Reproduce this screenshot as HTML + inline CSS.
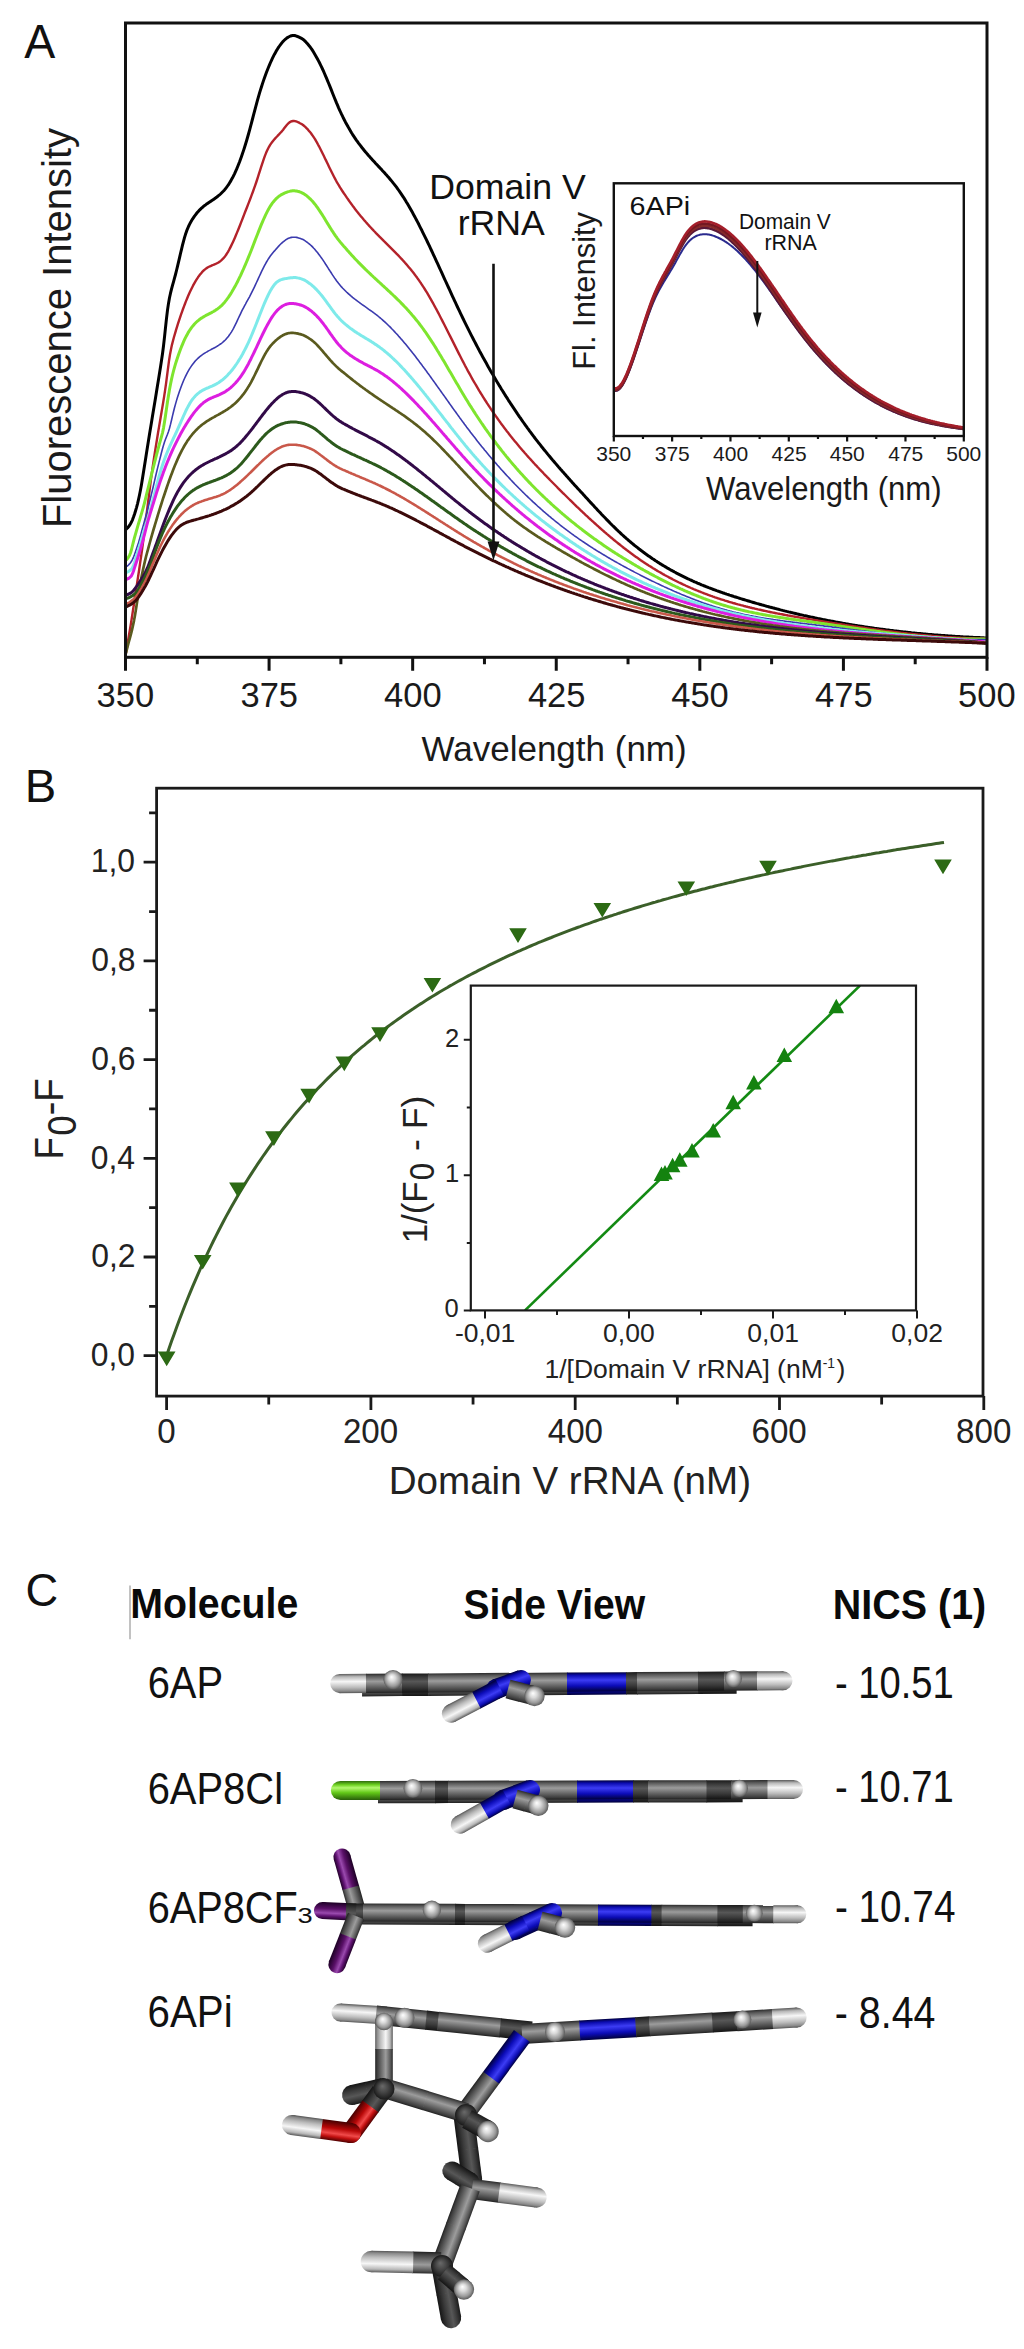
<!DOCTYPE html>
<html><head><meta charset="utf-8"><title>Figure</title>
<style>
html,body{margin:0;padding:0;background:#fff;}
body{width:1024px;height:2349px;overflow:hidden;}
svg{display:block;font-family:"Liberation Sans", Arial, Helvetica, sans-serif;}
</style></head><body>
<svg width="1024" height="2349" viewBox="0 0 1024 2349">
<rect x="0" y="0" width="1024" height="2349" fill="#fff"/>
<text x="24.30" y="58.10" font-size="48.50" fill="#111" textLength="31.07" lengthAdjust="spacingAndGlyphs">A</text>
<clipPath id="clipA"><rect x="125.5" y="23.0" width="861.5" height="634.3"/></clipPath>
<g clip-path="url(#clipA)" fill="none" stroke-linejoin="round" stroke-linecap="round">
<path d="M125.5,529.5 L126.5,528.9 L127.5,528.0 L128.5,526.8 L129.5,525.3 L130.5,523.8 L131.5,522.0 L132.5,519.8 L133.5,517.1 L134.5,514.2 L135.5,511.0 L136.5,507.6 L137.5,503.8 L138.5,499.6 L139.5,495.0 L140.5,490.0 L141.5,484.4 L142.5,478.2 L143.5,471.9 L144.5,465.7 L145.5,459.4 L146.5,453.1 L147.5,446.7 L148.5,440.5 L149.5,434.3 L150.5,428.2 L151.5,422.2 L152.5,416.1 L153.5,410.0 L154.5,404.0 L155.5,397.9 L156.5,391.7 L157.5,385.6 L158.5,379.5 L159.5,373.3 L160.5,367.0 L161.5,360.6 L162.5,353.7 L163.5,346.0 L164.5,337.2 L165.5,327.6 L166.5,318.3 L167.5,310.1 L168.5,303.4 L169.5,297.8 L170.5,293.2 L171.5,289.1 L172.5,285.3 L173.5,281.8 L174.5,278.2 L175.5,274.5 L176.5,270.5 L177.5,266.4 L178.5,262.1 L179.5,257.8 L180.5,253.5 L181.5,249.3 L182.5,245.2 L183.5,241.3 L184.5,237.7 L185.5,234.3 L186.5,231.4 L187.5,228.8 L188.5,226.5 L189.5,224.4 L190.5,222.5 L191.5,220.8 L192.5,219.1 L193.5,217.6 L194.5,216.1 L195.5,214.8 L196.5,213.5 L197.5,212.3 L198.5,211.2 L199.5,210.1 L200.5,209.1 L201.5,208.2 L202.5,207.3 L203.5,206.4 L204.5,205.6 L205.5,204.9 L206.5,204.1 L207.5,203.4 L208.5,202.7 L209.5,202.1 L210.5,201.4 L211.5,200.7 L212.5,200.1 L213.5,199.4 L214.5,198.7 L215.5,198.0 L216.5,197.3 L217.5,196.5 L218.5,195.7 L219.5,194.9 L220.5,194.0 L221.5,193.0 L222.5,192.0 L223.5,191.0 L224.5,189.9 L225.5,188.7 L226.5,187.4 L227.5,186.0 L228.5,184.6 L229.5,183.0 L230.5,181.4 L231.5,179.6 L232.5,177.8 L233.5,175.8 L234.5,173.8 L235.5,171.6 L236.5,169.4 L237.5,167.0 L238.5,164.5 L239.5,162.0 L240.5,159.3 L241.5,156.5 L242.5,153.6 L243.5,150.6 L244.5,147.5 L245.5,144.3 L246.5,141.0 L247.5,137.5 L248.5,134.0 L249.5,130.3 L250.5,126.6 L251.5,122.8 L252.5,119.0 L253.5,115.2 L254.5,111.3 L255.5,107.6 L256.5,103.8 L257.5,100.2 L258.5,96.7 L259.5,93.2 L260.5,89.9 L261.5,86.7 L262.5,83.6 L263.5,80.6 L264.5,77.8 L265.5,75.0 L266.5,72.3 L267.5,69.7 L268.5,67.2 L269.5,64.8 L270.5,62.5 L271.5,60.3 L272.5,58.2 L273.5,56.2 L274.5,54.2 L275.5,52.4 L276.5,50.6 L277.5,49.0 L278.5,47.4 L279.5,46.0 L280.5,44.6 L281.5,43.3 L282.5,42.1 L283.5,41.0 L284.5,40.0 L285.5,39.1 L286.5,38.3 L287.5,37.6 L288.5,37.0 L289.5,36.5 L290.5,36.0 L291.5,35.7 L292.5,35.5 L293.5,35.4 L294.5,35.5 L295.5,35.8 L296.5,36.1 L297.5,36.5 L298.5,36.9 L299.5,37.4 L300.5,37.9 L301.5,38.4 L302.5,39.0 L303.5,39.7 L304.5,40.6 L305.5,41.6 L306.5,42.7 L307.5,43.8 L308.5,45.0 L309.5,46.2 L310.5,47.5 L311.5,48.9 L312.5,50.4 L313.5,52.0 L314.5,53.7 L315.5,55.4 L316.5,57.2 L317.5,59.0 L318.5,60.9 L319.5,62.8 L320.5,64.8 L321.5,66.9 L322.5,69.0 L323.5,71.2 L324.5,73.5 L325.5,75.8 L326.5,78.2 L327.5,80.6 L328.5,83.0 L329.5,85.4 L330.5,87.9 L331.5,90.4 L332.5,93.0 L333.5,95.5 L334.5,98.0 L335.5,100.4 L336.5,102.9 L337.5,105.2 L338.5,107.6 L339.5,109.8 L340.5,112.0 L341.5,114.2 L342.5,116.2 L343.5,118.3 L344.5,120.2 L345.5,122.2 L346.5,124.0 L347.5,125.8 L348.5,127.6 L349.5,129.3 L350.5,131.0 L351.5,132.7 L352.5,134.3 L353.5,135.8 L354.5,137.3 L355.5,138.8 L356.5,140.3 L357.5,141.7 L358.5,143.1 L359.5,144.4 L360.5,145.7 L361.5,147.0 L362.5,148.3 L363.5,149.5 L364.5,150.8 L365.5,152.0 L366.5,153.1 L367.5,154.3 L368.5,155.5 L369.5,156.6 L370.5,157.7 L371.5,158.8 L372.5,159.9 L373.5,161.0 L374.5,162.1 L375.5,163.2 L376.5,164.2 L377.5,165.3 L378.5,166.4 L379.5,167.4 L380.5,168.5 L381.5,169.6 L382.5,170.7 L383.5,171.7 L384.5,172.8 L385.5,174.0 L386.5,175.1 L387.5,176.2 L388.5,177.3 L389.5,178.5 L390.5,179.7 L391.5,180.9 L392.5,182.1 L393.5,183.4 L394.5,184.6 L395.5,185.9 L396.5,187.2 L397.5,188.6 L398.5,190.0 L399.5,191.4 L400.5,192.8 L401.5,194.3 L402.5,195.8 L403.5,197.3 L404.5,198.9 L405.5,200.5 L406.5,202.2 L407.5,203.8 L408.5,205.5 L409.5,207.2 L410.5,209.0 L411.5,210.8 L412.5,212.6 L413.5,214.4 L414.5,216.2 L415.5,218.1 L416.5,220.0 L417.5,221.9 L418.5,223.8 L419.5,225.8 L420.5,227.8 L421.5,229.7 L422.5,231.8 L423.5,233.8 L424.5,235.8 L425.5,237.9 L426.5,239.9 L427.5,242.0 L428.5,244.1 L429.5,246.2 L430.5,248.4 L431.5,250.5 L432.5,252.6 L433.5,254.8 L434.5,256.9 L435.5,259.1 L436.5,261.3 L437.5,263.4 L438.5,265.6 L439.5,267.8 L440.5,270.0 L441.5,272.2 L442.5,274.4 L443.5,276.6 L444.5,278.8 L445.5,281.0 L446.5,283.2 L447.5,285.4 L448.5,287.5 L449.5,289.7 L450.5,291.9 L451.5,294.1 L452.5,296.3 L453.5,298.4 L454.5,300.6 L455.5,302.7 L456.5,304.9 L457.5,307.0 L458.5,309.1 L459.5,311.2 L460.5,313.3 L461.5,315.4 L462.5,317.5 L463.5,319.5 L464.5,321.6 L465.5,323.6 L466.5,325.6 L467.5,327.7 L468.5,329.7 L469.5,331.6 L470.5,333.6 L471.5,335.6 L472.5,337.5 L473.5,339.5 L474.5,341.4 L475.5,343.3 L476.5,345.2 L477.5,347.1 L478.5,349.0 L479.5,350.9 L480.5,352.7 L481.5,354.6 L482.5,356.4 L483.5,358.2 L484.5,360.0 L485.5,361.8 L486.5,363.6 L487.5,365.4 L488.5,367.2 L489.5,368.9 L490.5,370.7 L491.5,372.4 L492.5,374.1 L493.5,375.8 L494.5,377.5 L495.5,379.2 L496.5,380.9 L497.5,382.6 L498.5,384.2 L499.5,385.9 L500.5,387.5 L501.5,389.2 L502.5,390.8 L503.5,392.4 L504.5,394.0 L505.5,395.6 L506.5,397.2 L507.5,398.7 L508.5,400.3 L509.5,401.8 L510.5,403.4 L511.5,404.9 L512.5,406.4 L513.5,407.9 L514.5,409.4 L515.5,410.9 L516.5,412.4 L517.5,413.9 L518.5,415.3 L519.5,416.8 L520.5,418.2 L521.5,419.7 L522.5,421.1 L523.5,422.5 L524.5,423.9 L525.5,425.3 L526.5,426.7 L527.5,428.1 L528.5,429.4 L529.5,430.8 L530.5,432.1 L531.5,433.5 L532.5,434.8 L533.5,436.2 L534.5,437.5 L535.5,438.8 L536.5,440.1 L537.5,441.4 L538.5,442.7 L539.5,443.9 L540.5,445.2 L541.5,446.5 L542.5,447.7 L543.5,449.0 L544.5,450.2 L545.5,451.4 L546.5,452.6 L547.5,453.9 L548.5,455.1 L549.5,456.3 L550.5,457.5 L551.5,458.7 L552.5,459.9 L553.5,461.0 L554.5,462.2 L555.5,463.4 L556.5,464.6 L557.5,465.7 L558.5,466.9 L559.5,468.0 L560.5,469.2 L561.5,470.3 L562.5,471.5 L563.5,472.6 L564.5,473.7 L565.5,474.8 L566.5,476.0 L567.5,477.1 L568.5,478.2 L569.5,479.3 L570.5,480.4 L571.5,481.5 L572.5,482.7 L573.5,483.8 L574.5,484.9 L575.5,486.0 L576.5,487.1 L577.5,488.2 L578.5,489.3 L579.5,490.3 L580.5,491.4 L581.5,492.5 L582.5,493.6 L583.5,494.7 L584.5,495.8 L585.5,496.9 L586.5,498.0 L587.5,499.1 L588.5,500.2 L589.5,501.3 L590.5,502.4 L591.5,503.4 L592.5,504.5 L593.5,505.6 L594.5,506.7 L595.5,507.8 L596.5,508.8 L597.5,509.9 L598.5,511.0 L599.5,512.0 L600.5,513.1 L601.5,514.2 L602.5,515.2 L603.5,516.3 L604.5,517.3 L605.5,518.3 L606.5,519.4 L607.5,520.4 L608.5,521.4 L609.5,522.4 L610.5,523.5 L611.5,524.5 L612.5,525.5 L613.5,526.4 L614.5,527.4 L615.5,528.4 L616.5,529.4 L617.5,530.3 L618.5,531.3 L619.5,532.2 L620.5,533.1 L621.5,534.1 L622.5,535.0 L623.5,535.9 L624.5,536.8 L625.5,537.7 L626.5,538.6 L627.5,539.4 L628.5,540.3 L629.5,541.2 L630.5,542.0 L631.5,542.8 L632.5,543.7 L633.5,544.5 L634.5,545.3 L635.5,546.1 L636.5,546.9 L637.5,547.7 L638.5,548.5 L639.5,549.3 L640.5,550.0 L641.5,550.8 L642.5,551.5 L643.5,552.3 L644.5,553.0 L645.5,553.8 L646.5,554.5 L647.5,555.2 L648.5,555.9 L649.5,556.6 L650.5,557.3 L651.5,558.0 L652.5,558.7 L653.5,559.3 L654.5,560.0 L655.5,560.7 L656.5,561.3 L657.5,562.0 L658.5,562.6 L659.5,563.2 L660.5,563.9 L661.5,564.5 L662.5,565.1 L663.5,565.7 L664.5,566.3 L665.5,566.9 L666.5,567.5 L667.5,568.1 L668.5,568.6 L669.5,569.2 L670.5,569.8 L671.5,570.3 L672.5,570.9 L673.5,571.4 L674.5,572.0 L675.5,572.5 L676.5,573.1 L677.5,573.6 L678.5,574.1 L679.5,574.6 L680.5,575.1 L681.5,575.6 L682.5,576.1 L683.5,576.6 L684.5,577.1 L685.5,577.6 L686.5,578.1 L687.5,578.6 L688.5,579.0 L689.5,579.5 L690.5,580.0 L691.5,580.4 L692.5,580.9 L693.5,581.3 L694.5,581.8 L695.5,582.2 L696.5,582.6 L697.5,583.1 L698.5,583.5 L699.5,583.9 L700.5,584.3 L701.5,584.8 L702.5,585.2 L703.5,585.6 L704.5,586.0 L705.5,586.4 L706.5,586.8 L707.5,587.2 L708.5,587.6 L709.5,587.9 L710.5,588.3 L711.5,588.7 L712.5,589.1 L713.5,589.5 L714.5,589.8 L715.5,590.2 L716.5,590.6 L717.5,590.9 L718.5,591.3 L719.5,591.6 L720.5,592.0 L721.5,592.3 L722.5,592.7 L723.5,593.0 L724.5,593.4 L725.5,593.7 L726.5,594.1 L727.5,594.4 L728.5,594.7 L729.5,595.1 L730.5,595.4 L731.5,595.7 L732.5,596.0 L733.5,596.4 L734.5,596.7 L735.5,597.0 L736.5,597.3 L737.5,597.6 L738.5,597.9 L739.5,598.3 L740.5,598.6 L741.5,598.9 L742.5,599.2 L743.5,599.5 L744.5,599.8 L745.5,600.1 L746.5,600.4 L747.5,600.7 L748.5,601.0 L749.5,601.3 L750.5,601.6 L751.5,601.9 L752.5,602.2 L753.5,602.5 L754.5,602.8 L755.5,603.1 L756.5,603.4 L757.5,603.6 L758.5,603.9 L759.5,604.2 L760.5,604.5 L761.5,604.8 L762.5,605.1 L763.5,605.3 L764.5,605.6 L765.5,605.9 L766.5,606.2 L767.5,606.4 L768.5,606.7 L769.5,607.0 L770.5,607.2 L771.5,607.5 L772.5,607.8 L773.5,608.0 L774.5,608.3 L775.5,608.6 L776.5,608.8 L777.5,609.1 L778.5,609.3 L779.5,609.6 L780.5,609.9 L781.5,610.1 L782.5,610.4 L783.5,610.6 L784.5,610.9 L785.5,611.1 L786.5,611.4 L787.5,611.6 L788.5,611.9 L789.5,612.1 L790.5,612.3 L791.5,612.6 L792.5,612.8 L793.5,613.1 L794.5,613.3 L795.5,613.5 L796.5,613.8 L797.5,614.0 L798.5,614.2 L799.5,614.5 L800.5,614.7 L801.5,614.9 L802.5,615.1 L803.5,615.4 L804.5,615.6 L805.5,615.8 L806.5,616.0 L807.5,616.3 L808.5,616.5 L809.5,616.7 L810.5,616.9 L811.5,617.1 L812.5,617.3 L813.5,617.5 L814.5,617.8 L815.5,618.0 L816.5,618.2 L817.5,618.4 L818.5,618.6 L819.5,618.8 L820.5,619.0 L821.5,619.2 L822.5,619.4 L823.5,619.6 L824.5,619.8 L825.5,620.0 L826.5,620.2 L827.5,620.4 L828.5,620.6 L829.5,620.8 L830.5,621.0 L831.5,621.2 L832.5,621.3 L833.5,621.5 L834.5,621.7 L835.5,621.9 L836.5,622.1 L837.5,622.3 L838.5,622.5 L839.5,622.6 L840.5,622.8 L841.5,623.0 L842.5,623.2 L843.5,623.4 L844.5,623.5 L845.5,623.7 L846.5,623.9 L847.5,624.0 L848.5,624.2 L849.5,624.4 L850.5,624.6 L851.5,624.7 L852.5,624.9 L853.5,625.1 L854.5,625.2 L855.5,625.4 L856.5,625.5 L857.5,625.7 L858.5,625.9 L859.5,626.0 L860.5,626.2 L861.5,626.3 L862.5,626.5 L863.5,626.6 L864.5,626.8 L865.5,626.9 L866.5,627.1 L867.5,627.2 L868.5,627.4 L869.5,627.5 L870.5,627.7 L871.5,627.8 L872.5,628.0 L873.5,628.1 L874.5,628.3 L875.5,628.4 L876.5,628.5 L877.5,628.7 L878.5,628.8 L879.5,628.9 L880.5,629.1 L881.5,629.2 L882.5,629.3 L883.5,629.5 L884.5,629.6 L885.5,629.7 L886.5,629.9 L887.5,630.0 L888.5,630.1 L889.5,630.2 L890.5,630.4 L891.5,630.5 L892.5,630.6 L893.5,630.7 L894.5,630.9 L895.5,631.0 L896.5,631.1 L897.5,631.2 L898.5,631.3 L899.5,631.4 L900.5,631.6 L901.5,631.7 L902.5,631.8 L903.5,631.9 L904.5,632.0 L905.5,632.1 L906.5,632.2 L907.5,632.3 L908.5,632.4 L909.5,632.5 L910.5,632.6 L911.5,632.8 L912.5,632.9 L913.5,633.0 L914.5,633.1 L915.5,633.2 L916.5,633.3 L917.5,633.4 L918.5,633.4 L919.5,633.5 L920.5,633.6 L921.5,633.7 L922.5,633.8 L923.5,633.9 L924.5,634.0 L925.5,634.1 L926.5,634.2 L927.5,634.3 L928.5,634.4 L929.5,634.4 L930.5,634.5 L931.5,634.6 L932.5,634.7 L933.5,634.8 L934.5,634.9 L935.5,634.9 L936.5,635.0 L937.5,635.1 L938.5,635.2 L939.5,635.3 L940.5,635.3 L941.5,635.4 L942.5,635.5 L943.5,635.6 L944.5,635.6 L945.5,635.7 L946.5,635.8 L947.5,635.8 L948.5,635.9 L949.5,636.0 L950.5,636.1 L951.5,636.1 L952.5,636.2 L953.5,636.3 L954.5,636.3 L955.5,636.4 L956.5,636.4 L957.5,636.5 L958.5,636.6 L959.5,636.6 L960.5,636.7 L961.5,636.7 L962.5,636.8 L963.5,636.9 L964.5,636.9 L965.5,637.0 L966.5,637.0 L967.5,637.1 L968.5,637.1 L969.5,637.2 L970.5,637.2 L971.5,637.3 L972.5,637.3 L973.5,637.4 L974.5,637.4 L975.5,637.5 L976.5,637.5 L977.5,637.6 L978.5,637.6 L979.5,637.6 L980.5,637.7 L981.5,637.7 L982.5,637.8 L983.5,637.8 L984.5,637.9 L985.5,637.9 L986.5,637.9 L987.0,638.0" stroke="#000000" stroke-width="3.0"/>
<path d="M126.0,653.0 L127.0,647.0 L128.0,641.0 L129.0,635.0 L130.0,629.1 L131.0,623.1 L132.0,616.8 L133.0,610.3 L134.0,603.7 L135.0,597.0 L136.0,590.4 L137.0,583.9 L138.0,577.3 L139.0,570.7 L140.0,563.9 L141.0,557.0 L142.0,550.0 L143.0,542.7 L144.0,535.2 L145.0,527.3 L146.0,519.1 L147.0,511.0 L148.0,503.0 L149.0,494.9 L150.0,486.9 L151.0,479.2 L152.0,471.9 L153.0,465.0 L154.0,458.3 L155.0,451.8 L156.0,445.4 L157.0,439.2 L158.0,433.0 L159.0,427.1 L160.0,421.2 L161.0,415.3 L162.0,409.4 L163.0,403.5 L164.0,397.4 L165.0,390.9 L166.0,383.8 L167.0,376.1 L168.0,368.3 L169.0,360.9 L170.0,354.5 L171.0,349.2 L172.0,344.6 L173.0,340.7 L174.0,337.0 L175.0,333.6 L176.0,330.2 L177.0,326.9 L178.0,323.7 L179.0,320.6 L180.0,317.6 L181.0,314.6 L182.0,311.8 L183.0,309.0 L184.0,306.3 L185.0,303.7 L186.0,301.1 L187.0,298.7 L188.0,296.3 L189.0,294.0 L190.0,291.8 L191.0,289.7 L192.0,287.7 L193.0,285.7 L194.0,283.9 L195.0,282.1 L196.0,280.4 L197.0,278.8 L198.0,277.3 L199.0,275.9 L200.0,274.6 L201.0,273.4 L202.0,272.2 L203.0,271.2 L204.0,270.2 L205.0,269.4 L206.0,268.6 L207.0,267.9 L208.0,267.3 L209.0,266.8 L210.0,266.3 L211.0,265.9 L212.0,265.4 L213.0,265.0 L214.0,264.6 L215.0,264.2 L216.0,263.7 L217.0,263.2 L218.0,262.7 L219.0,262.1 L220.0,261.4 L221.0,260.6 L222.0,259.7 L223.0,258.7 L224.0,257.6 L225.0,256.4 L226.0,255.0 L227.0,253.4 L228.0,251.8 L229.0,250.0 L230.0,248.1 L231.0,246.1 L232.0,244.0 L233.0,241.9 L234.0,239.7 L235.0,237.4 L236.0,235.0 L237.0,232.6 L238.0,230.2 L239.0,227.7 L240.0,225.2 L241.0,222.6 L242.0,220.1 L243.0,217.5 L244.0,214.9 L245.0,212.3 L246.0,209.8 L247.0,207.2 L248.0,204.6 L249.0,202.1 L250.0,199.5 L251.0,196.9 L252.0,194.2 L253.0,191.5 L254.0,188.7 L255.0,185.9 L256.0,183.0 L257.0,180.0 L258.0,176.9 L259.0,173.7 L260.0,170.6 L261.0,167.4 L262.0,164.3 L263.0,161.3 L264.0,158.4 L265.0,155.6 L266.0,153.1 L267.0,150.8 L268.0,148.7 L269.0,146.8 L270.0,145.1 L271.0,143.6 L272.0,142.2 L273.0,140.9 L274.0,139.7 L275.0,138.6 L276.0,137.5 L277.0,136.5 L278.0,135.4 L279.0,134.4 L280.0,133.3 L281.0,132.2 L282.0,131.1 L283.0,129.9 L284.0,128.6 L285.0,127.3 L286.0,126.0 L287.0,124.8 L288.0,123.7 L289.0,122.8 L290.0,122.1 L291.0,121.5 L292.0,121.2 L293.0,121.0 L294.0,121.0 L295.0,121.1 L296.0,121.4 L297.0,121.7 L298.0,122.2 L299.0,122.6 L300.0,123.2 L301.0,123.7 L302.0,124.3 L303.0,125.0 L304.0,125.8 L305.0,126.7 L306.0,127.6 L307.0,128.7 L308.0,129.7 L309.0,130.9 L310.0,132.1 L311.0,133.3 L312.0,134.7 L313.0,136.1 L314.0,137.6 L315.0,139.1 L316.0,140.9 L317.0,142.6 L318.0,144.5 L319.0,146.3 L320.0,148.3 L321.0,150.2 L322.0,152.3 L323.0,154.3 L324.0,156.3 L325.0,158.4 L326.0,160.4 L327.0,162.5 L328.0,164.6 L329.0,166.7 L330.0,168.7 L331.0,170.8 L332.0,172.8 L333.0,174.8 L334.0,176.7 L335.0,178.6 L336.0,180.5 L337.0,182.3 L338.0,184.0 L339.0,185.7 L340.0,187.4 L341.0,188.9 L342.0,190.5 L343.0,192.0 L344.0,193.5 L345.0,194.9 L346.0,196.4 L347.0,197.9 L348.0,199.3 L349.0,200.7 L350.0,202.1 L351.0,203.5 L352.0,204.9 L353.0,206.3 L354.0,207.6 L355.0,208.9 L356.0,210.2 L357.0,211.5 L358.0,212.7 L359.0,214.0 L360.0,215.2 L361.0,216.4 L362.0,217.6 L363.0,218.8 L364.0,220.0 L365.0,221.1 L366.0,222.3 L367.0,223.4 L368.0,224.5 L369.0,225.6 L370.0,226.7 L371.0,227.8 L372.0,228.9 L373.0,229.9 L374.0,231.0 L375.0,232.0 L376.0,233.1 L377.0,234.1 L378.0,235.1 L379.0,236.1 L380.0,237.2 L381.0,238.2 L382.0,239.2 L383.0,240.2 L384.0,241.2 L385.0,242.1 L386.0,243.1 L387.0,244.1 L388.0,245.1 L389.0,246.1 L390.0,247.1 L391.0,248.1 L392.0,249.1 L393.0,250.1 L394.0,251.1 L395.0,252.1 L396.0,253.1 L397.0,254.2 L398.0,255.2 L399.0,256.2 L400.0,257.3 L401.0,258.4 L402.0,259.4 L403.0,260.5 L404.0,261.6 L405.0,262.8 L406.0,263.9 L407.0,265.0 L408.0,266.2 L409.0,267.4 L410.0,268.6 L411.0,269.8 L412.0,271.1 L413.0,272.3 L414.0,273.6 L415.0,274.9 L416.0,276.3 L417.0,277.6 L418.0,279.0 L419.0,280.4 L420.0,281.9 L421.0,283.3 L422.0,284.8 L423.0,286.4 L424.0,287.9 L425.0,289.5 L426.0,291.1 L427.0,292.7 L428.0,294.4 L429.0,296.1 L430.0,297.8 L431.0,299.6 L432.0,301.4 L433.0,303.2 L434.0,305.0 L435.0,306.8 L436.0,308.7 L437.0,310.5 L438.0,312.4 L439.0,314.3 L440.0,316.2 L441.0,318.2 L442.0,320.1 L443.0,322.1 L444.0,324.0 L445.0,326.0 L446.0,328.0 L447.0,330.0 L448.0,332.0 L449.0,334.0 L450.0,335.9 L451.0,337.9 L452.0,339.9 L453.0,341.9 L454.0,343.9 L455.0,345.9 L456.0,347.9 L457.0,349.9 L458.0,351.9 L459.0,353.9 L460.0,355.8 L461.0,357.8 L462.0,359.7 L463.0,361.6 L464.0,363.5 L465.0,365.5 L466.0,367.3 L467.0,369.2 L468.0,371.1 L469.0,372.9 L470.0,374.7 L471.0,376.5 L472.0,378.3 L473.0,380.1 L474.0,381.8 L475.0,383.5 L476.0,385.2 L477.0,386.9 L478.0,388.6 L479.0,390.3 L480.0,392.0 L481.0,393.6 L482.0,395.2 L483.0,396.8 L484.0,398.4 L485.0,400.0 L486.0,401.5 L487.0,403.1 L488.0,404.6 L489.0,406.2 L490.0,407.7 L491.0,409.2 L492.0,410.6 L493.0,412.1 L494.0,413.6 L495.0,415.0 L496.0,416.4 L497.0,417.8 L498.0,419.2 L499.0,420.6 L500.0,422.0 L501.0,423.4 L502.0,424.7 L503.0,426.1 L504.0,427.4 L505.0,428.7 L506.0,430.1 L507.0,431.4 L508.0,432.6 L509.0,433.9 L510.0,435.2 L511.0,436.5 L512.0,437.7 L513.0,439.0 L514.0,440.2 L515.0,441.4 L516.0,442.6 L517.0,443.8 L518.0,445.0 L519.0,446.2 L520.0,447.4 L521.0,448.6 L522.0,449.7 L523.0,450.9 L524.0,452.0 L525.0,453.2 L526.0,454.3 L527.0,455.5 L528.0,456.6 L529.0,457.7 L530.0,458.8 L531.0,459.9 L532.0,461.0 L533.0,462.1 L534.0,463.2 L535.0,464.3 L536.0,465.3 L537.0,466.4 L538.0,467.5 L539.0,468.5 L540.0,469.6 L541.0,470.6 L542.0,471.7 L543.0,472.7 L544.0,473.8 L545.0,474.8 L546.0,475.8 L547.0,476.9 L548.0,477.9 L549.0,478.9 L550.0,480.0 L551.0,481.0 L552.0,482.0 L553.0,483.0 L554.0,484.0 L555.0,485.0 L556.0,486.0 L557.0,487.0 L558.0,488.1 L559.0,489.1 L560.0,490.1 L561.0,491.1 L562.0,492.1 L563.0,493.1 L564.0,494.0 L565.0,495.0 L566.0,496.0 L567.0,497.0 L568.0,498.0 L569.0,499.0 L570.0,500.0 L571.0,500.9 L572.0,501.9 L573.0,502.9 L574.0,503.9 L575.0,504.8 L576.0,505.8 L577.0,506.8 L578.0,507.7 L579.0,508.7 L580.0,509.6 L581.0,510.6 L582.0,511.5 L583.0,512.5 L584.0,513.4 L585.0,514.3 L586.0,515.3 L587.0,516.2 L588.0,517.1 L589.0,518.1 L590.0,519.0 L591.0,519.9 L592.0,520.8 L593.0,521.7 L594.0,522.6 L595.0,523.5 L596.0,524.4 L597.0,525.3 L598.0,526.2 L599.0,527.1 L600.0,528.0 L601.0,528.9 L602.0,529.8 L603.0,530.6 L604.0,531.5 L605.0,532.4 L606.0,533.2 L607.0,534.1 L608.0,534.9 L609.0,535.8 L610.0,536.6 L611.0,537.5 L612.0,538.3 L613.0,539.1 L614.0,540.0 L615.0,540.8 L616.0,541.6 L617.0,542.4 L618.0,543.2 L619.0,544.0 L620.0,544.8 L621.0,545.6 L622.0,546.4 L623.0,547.2 L624.0,548.0 L625.0,548.7 L626.0,549.5 L627.0,550.3 L628.0,551.0 L629.0,551.8 L630.0,552.5 L631.0,553.3 L632.0,554.0 L633.0,554.7 L634.0,555.5 L635.0,556.2 L636.0,556.9 L637.0,557.6 L638.0,558.3 L639.0,559.0 L640.0,559.7 L641.0,560.4 L642.0,561.1 L643.0,561.7 L644.0,562.4 L645.0,563.1 L646.0,563.7 L647.0,564.4 L648.0,565.0 L649.0,565.7 L650.0,566.3 L651.0,566.9 L652.0,567.5 L653.0,568.2 L654.0,568.8 L655.0,569.4 L656.0,570.0 L657.0,570.6 L658.0,571.2 L659.0,571.8 L660.0,572.3 L661.0,572.9 L662.0,573.5 L663.0,574.1 L664.0,574.6 L665.0,575.2 L666.0,575.7 L667.0,576.3 L668.0,576.8 L669.0,577.4 L670.0,577.9 L671.0,578.4 L672.0,578.9 L673.0,579.5 L674.0,580.0 L675.0,580.5 L676.0,581.0 L677.0,581.5 L678.0,582.0 L679.0,582.5 L680.0,582.9 L681.0,583.4 L682.0,583.9 L683.0,584.4 L684.0,584.8 L685.0,585.3 L686.0,585.8 L687.0,586.2 L688.0,586.7 L689.0,587.1 L690.0,587.5 L691.0,588.0 L692.0,588.4 L693.0,588.8 L694.0,589.3 L695.0,589.7 L696.0,590.1 L697.0,590.5 L698.0,590.9 L699.0,591.3 L700.0,591.7 L701.0,592.1 L702.0,592.5 L703.0,592.9 L704.0,593.3 L705.0,593.7 L706.0,594.0 L707.0,594.4 L708.0,594.8 L709.0,595.2 L710.0,595.5 L711.0,595.9 L712.0,596.2 L713.0,596.6 L714.0,596.9 L715.0,597.3 L716.0,597.6 L717.0,598.0 L718.0,598.3 L719.0,598.6 L720.0,599.0 L721.0,599.3 L722.0,599.6 L723.0,599.9 L724.0,600.2 L725.0,600.6 L726.0,600.9 L727.0,601.2 L728.0,601.5 L729.0,601.8 L730.0,602.1 L731.0,602.4 L732.0,602.7 L733.0,603.0 L734.0,603.2 L735.0,603.5 L736.0,603.8 L737.0,604.1 L738.0,604.4 L739.0,604.6 L740.0,604.9 L741.0,605.2 L742.0,605.4 L743.0,605.7 L744.0,606.0 L745.0,606.2 L746.0,606.5 L747.0,606.7 L748.0,607.0 L749.0,607.2 L750.0,607.5 L751.0,607.7 L752.0,608.0 L753.0,608.2 L754.0,608.4 L755.0,608.7 L756.0,608.9 L757.0,609.1 L758.0,609.4 L759.0,609.6 L760.0,609.8 L761.0,610.0 L762.0,610.3 L763.0,610.5 L764.0,610.7 L765.0,610.9 L766.0,611.1 L767.0,611.3 L768.0,611.6 L769.0,611.8 L770.0,612.0 L771.0,612.2 L772.0,612.4 L773.0,612.6 L774.0,612.8 L775.0,613.0 L776.0,613.2 L777.0,613.4 L778.0,613.6 L779.0,613.8 L780.0,614.0 L781.0,614.1 L782.0,614.3 L783.0,614.5 L784.0,614.7 L785.0,614.9 L786.0,615.1 L787.0,615.3 L788.0,615.5 L789.0,615.6 L790.0,615.8 L791.0,616.0 L792.0,616.2 L793.0,616.4 L794.0,616.5 L795.0,616.7 L796.0,616.9 L797.0,617.1 L798.0,617.2 L799.0,617.4 L800.0,617.6 L801.0,617.7 L802.0,617.9 L803.0,618.1 L804.0,618.3 L805.0,618.4 L806.0,618.6 L807.0,618.8 L808.0,618.9 L809.0,619.1 L810.0,619.3 L811.0,619.4 L812.0,619.6 L813.0,619.8 L814.0,619.9 L815.0,620.1 L816.0,620.3 L817.0,620.4 L818.0,620.6 L819.0,620.8 L820.0,620.9 L821.0,621.1 L822.0,621.3 L823.0,621.4 L824.0,621.6 L825.0,621.8 L826.0,621.9 L827.0,622.1 L828.0,622.2 L829.0,622.4 L830.0,622.6 L831.0,622.7 L832.0,622.9 L833.0,623.1 L834.0,623.2 L835.0,623.4 L836.0,623.5 L837.0,623.7 L838.0,623.9 L839.0,624.0 L840.0,624.2 L841.0,624.3 L842.0,624.5 L843.0,624.7 L844.0,624.8 L845.0,625.0 L846.0,625.1 L847.0,625.3 L848.0,625.4 L849.0,625.6 L850.0,625.7 L851.0,625.9 L852.0,626.0 L853.0,626.2 L854.0,626.4 L855.0,626.5 L856.0,626.7 L857.0,626.8 L858.0,627.0 L859.0,627.1 L860.0,627.3 L861.0,627.4 L862.0,627.5 L863.0,627.7 L864.0,627.8 L865.0,628.0 L866.0,628.1 L867.0,628.3 L868.0,628.4 L869.0,628.6 L870.0,628.7 L871.0,628.9 L872.0,629.0 L873.0,629.1 L874.0,629.3 L875.0,629.4 L876.0,629.6 L877.0,629.7 L878.0,629.8 L879.0,630.0 L880.0,630.1 L881.0,630.2 L882.0,630.4 L883.0,630.5 L884.0,630.6 L885.0,630.8 L886.0,630.9 L887.0,631.0 L888.0,631.2 L889.0,631.3 L890.0,631.4 L891.0,631.5 L892.0,631.7 L893.0,631.8 L894.0,631.9 L895.0,632.0 L896.0,632.2 L897.0,632.3 L898.0,632.4 L899.0,632.5 L900.0,632.6 L901.0,632.8 L902.0,632.9 L903.0,633.0 L904.0,633.1 L905.0,633.2 L906.0,633.3 L907.0,633.4 L908.0,633.6 L909.0,633.7 L910.0,633.8 L911.0,633.9 L912.0,634.0 L913.0,634.1 L914.0,634.2 L915.0,634.3 L916.0,634.4 L917.0,634.5 L918.0,634.6 L919.0,634.7 L920.0,634.8 L921.0,634.9 L922.0,635.0 L923.0,635.1 L924.0,635.2 L925.0,635.3 L926.0,635.4 L927.0,635.5 L928.0,635.6 L929.0,635.7 L930.0,635.7 L931.0,635.8 L932.0,635.9 L933.0,636.0 L934.0,636.1 L935.0,636.2 L936.0,636.3 L937.0,636.3 L938.0,636.4 L939.0,636.5 L940.0,636.6 L941.0,636.6 L942.0,636.7 L943.0,636.8 L944.0,636.9 L945.0,636.9 L946.0,637.0 L947.0,637.1 L948.0,637.1 L949.0,637.2 L950.0,637.3 L951.0,637.3 L952.0,637.4 L953.0,637.4 L954.0,637.5 L955.0,637.5 L956.0,637.6 L957.0,637.7 L958.0,637.7 L959.0,637.8 L960.0,637.8 L961.0,637.9 L962.0,637.9 L963.0,637.9 L964.0,638.0 L965.0,638.0 L966.0,638.1 L967.0,638.1 L968.0,638.1 L969.0,638.2 L970.0,638.2 L971.0,638.3 L972.0,638.3 L973.0,638.3 L974.0,638.3 L975.0,638.4 L976.0,638.4 L977.0,638.4 L978.0,638.4 L979.0,638.5 L980.0,638.5 L981.0,638.5 L982.0,638.5 L983.0,638.5 L984.0,638.5 L985.0,638.6 L986.0,638.6 L987.0,638.6" stroke="#b3222a" stroke-width="2.4"/>
<path d="M125.5,560.2 L126.5,559.7 L127.5,558.6 L128.5,557.1 L129.5,555.4 L130.5,553.0 L131.5,549.5 L132.5,545.5 L133.5,541.4 L134.5,537.7 L135.5,534.2 L136.5,530.7 L137.5,527.2 L138.5,523.7 L139.5,520.3 L140.5,516.9 L141.5,513.6 L142.5,510.2 L143.5,506.6 L144.5,502.8 L145.5,498.8 L146.5,494.7 L147.5,490.6 L148.5,486.6 L149.5,482.6 L150.5,478.7 L151.5,474.7 L152.5,470.7 L153.5,466.7 L154.5,462.7 L155.5,458.8 L156.5,454.9 L157.5,451.1 L158.5,447.3 L159.5,443.7 L160.5,440.1 L161.5,436.6 L162.5,432.8 L163.5,428.1 L164.5,422.1 L165.5,415.5 L166.5,408.6 L167.5,401.8 L168.5,395.4 L169.5,389.5 L170.5,384.2 L171.5,379.4 L172.5,375.0 L173.5,371.0 L174.5,367.3 L175.5,363.9 L176.5,360.7 L177.5,357.7 L178.5,354.8 L179.5,352.0 L180.5,349.3 L181.5,346.7 L182.5,344.3 L183.5,341.9 L184.5,339.7 L185.5,337.6 L186.5,335.7 L187.5,333.9 L188.5,332.1 L189.5,330.5 L190.5,329.1 L191.5,327.7 L192.5,326.4 L193.5,325.2 L194.5,324.0 L195.5,323.0 L196.5,322.0 L197.5,321.1 L198.5,320.3 L199.5,319.5 L200.5,318.8 L201.5,318.1 L202.5,317.5 L203.5,316.9 L204.5,316.3 L205.5,315.7 L206.5,315.2 L207.5,314.7 L208.5,314.1 L209.5,313.6 L210.5,313.1 L211.5,312.6 L212.5,312.0 L213.5,311.5 L214.5,310.9 L215.5,310.3 L216.5,309.6 L217.5,308.9 L218.5,308.1 L219.5,307.3 L220.5,306.5 L221.5,305.6 L222.5,304.6 L223.5,303.5 L224.5,302.4 L225.5,301.1 L226.5,299.9 L227.5,298.5 L228.5,297.1 L229.5,295.6 L230.5,294.1 L231.5,292.5 L232.5,290.8 L233.5,289.1 L234.5,287.3 L235.5,285.5 L236.5,283.6 L237.5,281.7 L238.5,279.7 L239.5,277.6 L240.5,275.6 L241.5,273.4 L242.5,271.2 L243.5,269.0 L244.5,266.7 L245.5,264.4 L246.5,262.0 L247.5,259.6 L248.5,257.2 L249.5,254.7 L250.5,252.2 L251.5,249.7 L252.5,247.1 L253.5,244.5 L254.5,241.9 L255.5,239.3 L256.5,236.7 L257.5,234.2 L258.5,231.6 L259.5,229.1 L260.5,226.6 L261.5,224.2 L262.5,221.8 L263.5,219.5 L264.5,217.3 L265.5,215.1 L266.5,213.1 L267.5,211.1 L268.5,209.2 L269.5,207.5 L270.5,205.8 L271.5,204.3 L272.5,202.9 L273.5,201.7 L274.5,200.5 L275.5,199.4 L276.5,198.4 L277.5,197.5 L278.5,196.7 L279.5,195.9 L280.5,195.3 L281.5,194.6 L282.5,194.1 L283.5,193.6 L284.5,193.1 L285.5,192.7 L286.5,192.3 L287.5,191.9 L288.5,191.6 L289.5,191.4 L290.5,191.1 L291.5,191.0 L292.5,190.8 L293.5,190.8 L294.5,190.8 L295.5,190.9 L296.5,191.0 L297.5,191.3 L298.5,191.5 L299.5,191.8 L300.5,192.2 L301.5,192.6 L302.5,193.1 L303.5,193.6 L304.5,194.2 L305.5,194.9 L306.5,195.7 L307.5,196.5 L308.5,197.4 L309.5,198.3 L310.5,199.2 L311.5,200.3 L312.5,201.3 L313.5,202.5 L314.5,203.7 L315.5,204.9 L316.5,206.3 L317.5,207.7 L318.5,209.2 L319.5,210.6 L320.5,212.1 L321.5,213.7 L322.5,215.2 L323.5,216.8 L324.5,218.4 L325.5,220.1 L326.5,221.7 L327.5,223.4 L328.5,225.0 L329.5,226.6 L330.5,228.2 L331.5,229.8 L332.5,231.3 L333.5,232.9 L334.5,234.3 L335.5,235.8 L336.5,237.2 L337.5,238.6 L338.5,239.9 L339.5,241.1 L340.5,242.4 L341.5,243.6 L342.5,244.7 L343.5,245.9 L344.5,247.0 L345.5,248.1 L346.5,249.3 L347.5,250.5 L348.5,251.6 L349.5,252.7 L350.5,253.8 L351.5,254.9 L352.5,256.0 L353.5,257.1 L354.5,258.2 L355.5,259.3 L356.5,260.3 L357.5,261.3 L358.5,262.4 L359.5,263.4 L360.5,264.4 L361.5,265.4 L362.5,266.4 L363.5,267.4 L364.5,268.4 L365.5,269.4 L366.5,270.3 L367.5,271.3 L368.5,272.2 L369.5,273.2 L370.5,274.1 L371.5,275.1 L372.5,276.0 L373.5,277.0 L374.5,277.9 L375.5,278.8 L376.5,279.7 L377.5,280.7 L378.5,281.6 L379.5,282.5 L380.5,283.4 L381.5,284.3 L382.5,285.3 L383.5,286.2 L384.5,287.1 L385.5,288.0 L386.5,288.9 L387.5,289.9 L388.5,290.8 L389.5,291.7 L390.5,292.6 L391.5,293.6 L392.5,294.5 L393.5,295.5 L394.5,296.4 L395.5,297.4 L396.5,298.4 L397.5,299.4 L398.5,300.3 L399.5,301.3 L400.5,302.3 L401.5,303.4 L402.5,304.4 L403.5,305.4 L404.5,306.5 L405.5,307.5 L406.5,308.6 L407.5,309.7 L408.5,310.8 L409.5,311.9 L410.5,313.1 L411.5,314.2 L412.5,315.4 L413.5,316.5 L414.5,317.7 L415.5,319.0 L416.5,320.2 L417.5,321.4 L418.5,322.7 L419.5,324.0 L420.5,325.3 L421.5,326.6 L422.5,328.0 L423.5,329.4 L424.5,330.8 L425.5,332.2 L426.5,333.6 L427.5,335.1 L428.5,336.6 L429.5,338.1 L430.5,339.6 L431.5,341.1 L432.5,342.7 L433.5,344.2 L434.5,345.8 L435.5,347.4 L436.5,349.0 L437.5,350.7 L438.5,352.3 L439.5,354.0 L440.5,355.6 L441.5,357.3 L442.5,359.0 L443.5,360.6 L444.5,362.3 L445.5,364.0 L446.5,365.7 L447.5,367.4 L448.5,369.2 L449.5,370.9 L450.5,372.6 L451.5,374.3 L452.5,376.0 L453.5,377.7 L454.5,379.5 L455.5,381.2 L456.5,382.9 L457.5,384.6 L458.5,386.3 L459.5,388.0 L460.5,389.7 L461.5,391.4 L462.5,393.1 L463.5,394.7 L464.5,396.4 L465.5,398.1 L466.5,399.7 L467.5,401.3 L468.5,403.0 L469.5,404.6 L470.5,406.2 L471.5,407.7 L472.5,409.3 L473.5,410.9 L474.5,412.4 L475.5,414.0 L476.5,415.5 L477.5,417.0 L478.5,418.5 L479.5,420.0 L480.5,421.5 L481.5,423.0 L482.5,424.4 L483.5,425.9 L484.5,427.3 L485.5,428.8 L486.5,430.2 L487.5,431.6 L488.5,433.0 L489.5,434.4 L490.5,435.8 L491.5,437.1 L492.5,438.5 L493.5,439.9 L494.5,441.2 L495.5,442.5 L496.5,443.9 L497.5,445.2 L498.5,446.5 L499.5,447.8 L500.5,449.0 L501.5,450.3 L502.5,451.6 L503.5,452.8 L504.5,454.1 L505.5,455.3 L506.5,456.6 L507.5,457.8 L508.5,459.0 L509.5,460.2 L510.5,461.4 L511.5,462.6 L512.5,463.8 L513.5,464.9 L514.5,466.1 L515.5,467.2 L516.5,468.4 L517.5,469.5 L518.5,470.7 L519.5,471.8 L520.5,472.9 L521.5,474.0 L522.5,475.1 L523.5,476.2 L524.5,477.3 L525.5,478.4 L526.5,479.4 L527.5,480.5 L528.5,481.6 L529.5,482.6 L530.5,483.6 L531.5,484.7 L532.5,485.7 L533.5,486.7 L534.5,487.7 L535.5,488.8 L536.5,489.8 L537.5,490.7 L538.5,491.7 L539.5,492.7 L540.5,493.7 L541.5,494.7 L542.5,495.6 L543.5,496.6 L544.5,497.5 L545.5,498.5 L546.5,499.4 L547.5,500.4 L548.5,501.3 L549.5,502.2 L550.5,503.1 L551.5,504.1 L552.5,505.0 L553.5,505.9 L554.5,506.8 L555.5,507.7 L556.5,508.5 L557.5,509.4 L558.5,510.3 L559.5,511.2 L560.5,512.1 L561.5,512.9 L562.5,513.8 L563.5,514.6 L564.5,515.5 L565.5,516.3 L566.5,517.2 L567.5,518.0 L568.5,518.8 L569.5,519.7 L570.5,520.5 L571.5,521.3 L572.5,522.1 L573.5,522.9 L574.5,523.7 L575.5,524.5 L576.5,525.3 L577.5,526.1 L578.5,526.9 L579.5,527.7 L580.5,528.4 L581.5,529.2 L582.5,530.0 L583.5,530.8 L584.5,531.5 L585.5,532.3 L586.5,533.0 L587.5,533.8 L588.5,534.5 L589.5,535.3 L590.5,536.0 L591.5,536.7 L592.5,537.4 L593.5,538.2 L594.5,538.9 L595.5,539.6 L596.5,540.3 L597.5,541.0 L598.5,541.7 L599.5,542.4 L600.5,543.1 L601.5,543.8 L602.5,544.5 L603.5,545.2 L604.5,545.9 L605.5,546.6 L606.5,547.2 L607.5,547.9 L608.5,548.6 L609.5,549.2 L610.5,549.9 L611.5,550.6 L612.5,551.2 L613.5,551.9 L614.5,552.5 L615.5,553.2 L616.5,553.8 L617.5,554.4 L618.5,555.1 L619.5,555.7 L620.5,556.3 L621.5,556.9 L622.5,557.6 L623.5,558.2 L624.5,558.8 L625.5,559.4 L626.5,560.0 L627.5,560.6 L628.5,561.2 L629.5,561.8 L630.5,562.4 L631.5,563.0 L632.5,563.6 L633.5,564.2 L634.5,564.8 L635.5,565.4 L636.5,566.0 L637.5,566.5 L638.5,567.1 L639.5,567.7 L640.5,568.3 L641.5,568.8 L642.5,569.4 L643.5,570.0 L644.5,570.5 L645.5,571.1 L646.5,571.6 L647.5,572.2 L648.5,572.7 L649.5,573.3 L650.5,573.8 L651.5,574.4 L652.5,574.9 L653.5,575.4 L654.5,576.0 L655.5,576.5 L656.5,577.0 L657.5,577.5 L658.5,578.1 L659.5,578.6 L660.5,579.1 L661.5,579.6 L662.5,580.1 L663.5,580.6 L664.5,581.1 L665.5,581.6 L666.5,582.1 L667.5,582.6 L668.5,583.1 L669.5,583.6 L670.5,584.1 L671.5,584.6 L672.5,585.1 L673.5,585.5 L674.5,586.0 L675.5,586.5 L676.5,587.0 L677.5,587.4 L678.5,587.9 L679.5,588.3 L680.5,588.8 L681.5,589.2 L682.5,589.7 L683.5,590.1 L684.5,590.6 L685.5,591.0 L686.5,591.5 L687.5,591.9 L688.5,592.3 L689.5,592.7 L690.5,593.2 L691.5,593.6 L692.5,594.0 L693.5,594.4 L694.5,594.8 L695.5,595.2 L696.5,595.6 L697.5,596.0 L698.5,596.4 L699.5,596.8 L700.5,597.2 L701.5,597.6 L702.5,598.0 L703.5,598.4 L704.5,598.7 L705.5,599.1 L706.5,599.5 L707.5,599.8 L708.5,600.2 L709.5,600.6 L710.5,600.9 L711.5,601.3 L712.5,601.6 L713.5,602.0 L714.5,602.3 L715.5,602.6 L716.5,603.0 L717.5,603.3 L718.5,603.6 L719.5,603.9 L720.5,604.3 L721.5,604.6 L722.5,604.9 L723.5,605.2 L724.5,605.5 L725.5,605.8 L726.5,606.1 L727.5,606.4 L728.5,606.7 L729.5,606.9 L730.5,607.2 L731.5,607.5 L732.5,607.8 L733.5,608.0 L734.5,608.3 L735.5,608.6 L736.5,608.8 L737.5,609.1 L738.5,609.3 L739.5,609.6 L740.5,609.8 L741.5,610.1 L742.5,610.3 L743.5,610.5 L744.5,610.8 L745.5,611.0 L746.5,611.2 L747.5,611.4 L748.5,611.7 L749.5,611.9 L750.5,612.1 L751.5,612.3 L752.5,612.5 L753.5,612.7 L754.5,612.9 L755.5,613.1 L756.5,613.3 L757.5,613.5 L758.5,613.7 L759.5,613.9 L760.5,614.1 L761.5,614.3 L762.5,614.5 L763.5,614.7 L764.5,614.8 L765.5,615.0 L766.5,615.2 L767.5,615.4 L768.5,615.6 L769.5,615.7 L770.5,615.9 L771.5,616.1 L772.5,616.2 L773.5,616.4 L774.5,616.6 L775.5,616.7 L776.5,616.9 L777.5,617.0 L778.5,617.2 L779.5,617.4 L780.5,617.5 L781.5,617.7 L782.5,617.8 L783.5,618.0 L784.5,618.1 L785.5,618.3 L786.5,618.4 L787.5,618.6 L788.5,618.7 L789.5,618.9 L790.5,619.0 L791.5,619.2 L792.5,619.3 L793.5,619.4 L794.5,619.6 L795.5,619.7 L796.5,619.9 L797.5,620.0 L798.5,620.1 L799.5,620.3 L800.5,620.4 L801.5,620.6 L802.5,620.7 L803.5,620.8 L804.5,621.0 L805.5,621.1 L806.5,621.3 L807.5,621.4 L808.5,621.5 L809.5,621.7 L810.5,621.8 L811.5,622.0 L812.5,622.1 L813.5,622.2 L814.5,622.4 L815.5,622.5 L816.5,622.7 L817.5,622.8 L818.5,622.9 L819.5,623.1 L820.5,623.2 L821.5,623.4 L822.5,623.5 L823.5,623.7 L824.5,623.8 L825.5,624.0 L826.5,624.1 L827.5,624.2 L828.5,624.4 L829.5,624.5 L830.5,624.7 L831.5,624.8 L832.5,625.0 L833.5,625.1 L834.5,625.3 L835.5,625.4 L836.5,625.6 L837.5,625.7 L838.5,625.8 L839.5,626.0 L840.5,626.1 L841.5,626.3 L842.5,626.4 L843.5,626.6 L844.5,626.7 L845.5,626.9 L846.5,627.0 L847.5,627.2 L848.5,627.3 L849.5,627.4 L850.5,627.6 L851.5,627.7 L852.5,627.9 L853.5,628.0 L854.5,628.2 L855.5,628.3 L856.5,628.5 L857.5,628.6 L858.5,628.7 L859.5,628.9 L860.5,629.0 L861.5,629.2 L862.5,629.3 L863.5,629.5 L864.5,629.6 L865.5,629.7 L866.5,629.9 L867.5,630.0 L868.5,630.2 L869.5,630.3 L870.5,630.4 L871.5,630.6 L872.5,630.7 L873.5,630.8 L874.5,631.0 L875.5,631.1 L876.5,631.2 L877.5,631.4 L878.5,631.5 L879.5,631.6 L880.5,631.8 L881.5,631.9 L882.5,632.0 L883.5,632.2 L884.5,632.3 L885.5,632.4 L886.5,632.6 L887.5,632.7 L888.5,632.8 L889.5,632.9 L890.5,633.1 L891.5,633.2 L892.5,633.3 L893.5,633.4 L894.5,633.6 L895.5,633.7 L896.5,633.8 L897.5,633.9 L898.5,634.0 L899.5,634.2 L900.5,634.3 L901.5,634.4 L902.5,634.5 L903.5,634.6 L904.5,634.7 L905.5,634.8 L906.5,634.9 L907.5,635.1 L908.5,635.2 L909.5,635.3 L910.5,635.4 L911.5,635.5 L912.5,635.6 L913.5,635.7 L914.5,635.8 L915.5,635.9 L916.5,636.0 L917.5,636.1 L918.5,636.2 L919.5,636.3 L920.5,636.4 L921.5,636.5 L922.5,636.6 L923.5,636.6 L924.5,636.7 L925.5,636.8 L926.5,636.9 L927.5,637.0 L928.5,637.1 L929.5,637.2 L930.5,637.2 L931.5,637.3 L932.5,637.4 L933.5,637.5 L934.5,637.5 L935.5,637.6 L936.5,637.7 L937.5,637.8 L938.5,637.8 L939.5,637.9 L940.5,638.0 L941.5,638.0 L942.5,638.1 L943.5,638.1 L944.5,638.2 L945.5,638.3 L946.5,638.3 L947.5,638.4 L948.5,638.4 L949.5,638.5 L950.5,638.5 L951.5,638.6 L952.5,638.6 L953.5,638.6 L954.5,638.7 L955.5,638.7 L956.5,638.8 L957.5,638.8 L958.5,638.8 L959.5,638.9 L960.5,638.9 L961.5,638.9 L962.5,638.9 L963.5,639.0 L964.5,639.0 L965.5,639.0 L966.5,639.0 L967.5,639.0 L968.5,639.0 L969.5,639.1 L970.5,639.1 L971.5,639.1 L972.5,639.1 L973.5,639.1 L974.5,639.1 L975.5,639.1 L976.5,639.1 L977.5,639.1 L978.5,639.1 L979.5,639.1 L980.5,639.0 L981.5,639.0 L982.5,639.0 L983.5,639.0 L984.5,639.0 L985.5,638.9 L986.5,638.9 L987.0,638.9" stroke="#7ee52e" stroke-width="3.0"/>
<path d="M125.5,567.0 L126.5,566.6 L127.5,565.9 L128.5,565.0 L129.5,563.9 L130.5,562.7 L131.5,561.3 L132.5,559.4 L133.5,557.1 L134.5,554.5 L135.5,551.7 L136.5,548.8 L137.5,545.8 L138.5,542.7 L139.5,539.3 L140.5,535.7 L141.5,531.9 L142.5,528.2 L143.5,524.6 L144.5,520.9 L145.5,517.3 L146.5,513.6 L147.5,509.8 L148.5,506.0 L149.5,502.1 L150.5,498.0 L151.5,493.9 L152.5,489.8 L153.5,485.5 L154.5,481.1 L155.5,476.8 L156.5,472.5 L157.5,468.4 L158.5,464.4 L159.5,460.4 L160.5,456.5 L161.5,452.5 L162.5,448.7 L163.5,445.2 L164.5,442.1 L165.5,439.3 L166.5,436.7 L167.5,434.2 L168.5,431.4 L169.5,428.2 L170.5,424.4 L171.5,420.2 L172.5,415.9 L173.5,411.7 L174.5,407.8 L175.5,404.1 L176.5,400.6 L177.5,397.3 L178.5,394.2 L179.5,391.2 L180.5,388.4 L181.5,385.7 L182.5,383.2 L183.5,380.8 L184.5,378.5 L185.5,376.4 L186.5,374.3 L187.5,372.4 L188.5,370.6 L189.5,368.9 L190.5,367.4 L191.5,365.9 L192.5,364.5 L193.5,363.2 L194.5,361.9 L195.5,360.8 L196.5,359.7 L197.5,358.7 L198.5,357.8 L199.5,356.9 L200.5,356.1 L201.5,355.3 L202.5,354.6 L203.5,353.9 L204.5,353.3 L205.5,352.6 L206.5,352.1 L207.5,351.5 L208.5,350.9 L209.5,350.4 L210.5,349.9 L211.5,349.3 L212.5,348.8 L213.5,348.3 L214.5,347.7 L215.5,347.2 L216.5,346.6 L217.5,346.0 L218.5,345.4 L219.5,344.7 L220.5,344.0 L221.5,343.3 L222.5,342.5 L223.5,341.6 L224.5,340.7 L225.5,339.7 L226.5,338.6 L227.5,337.4 L228.5,336.2 L229.5,334.8 L230.5,333.4 L231.5,331.8 L232.5,330.1 L233.5,328.3 L234.5,326.4 L235.5,324.4 L236.5,322.3 L237.5,320.2 L238.5,318.0 L239.5,315.9 L240.5,313.8 L241.5,311.7 L242.5,309.7 L243.5,307.8 L244.5,305.9 L245.5,304.1 L246.5,302.2 L247.5,300.4 L248.5,298.6 L249.5,296.8 L250.5,294.9 L251.5,292.9 L252.5,290.9 L253.5,288.9 L254.5,286.8 L255.5,284.6 L256.5,282.5 L257.5,280.3 L258.5,278.1 L259.5,276.0 L260.5,273.8 L261.5,271.7 L262.5,269.7 L263.5,267.7 L264.5,265.7 L265.5,263.8 L266.5,262.0 L267.5,260.3 L268.5,258.7 L269.5,257.2 L270.5,255.8 L271.5,254.5 L272.5,253.2 L273.5,252.0 L274.5,250.9 L275.5,249.7 L276.5,248.6 L277.5,247.5 L278.5,246.4 L279.5,245.3 L280.5,244.3 L281.5,243.3 L282.5,242.4 L283.5,241.6 L284.5,240.8 L285.5,240.0 L286.5,239.4 L287.5,238.8 L288.5,238.3 L289.5,237.9 L290.5,237.6 L291.5,237.4 L292.5,237.2 L293.5,237.2 L294.5,237.2 L295.5,237.3 L296.5,237.4 L297.5,237.6 L298.5,237.9 L299.5,238.2 L300.5,238.5 L301.5,238.9 L302.5,239.3 L303.5,239.8 L304.5,240.4 L305.5,241.1 L306.5,241.8 L307.5,242.5 L308.5,243.3 L309.5,244.1 L310.5,245.0 L311.5,245.9 L312.5,246.9 L313.5,248.0 L314.5,249.0 L315.5,250.2 L316.5,251.4 L317.5,252.6 L318.5,253.9 L319.5,255.2 L320.5,256.6 L321.5,258.0 L322.5,259.4 L323.5,260.9 L324.5,262.4 L325.5,264.0 L326.5,265.5 L327.5,267.1 L328.5,268.7 L329.5,270.2 L330.5,271.8 L331.5,273.3 L332.5,274.9 L333.5,276.4 L334.5,277.9 L335.5,279.3 L336.5,280.7 L337.5,282.0 L338.5,283.3 L339.5,284.5 L340.5,285.7 L341.5,286.9 L342.5,288.0 L343.5,289.0 L344.5,290.0 L345.5,291.0 L346.5,292.0 L347.5,292.9 L348.5,293.8 L349.5,294.7 L350.5,295.6 L351.5,296.4 L352.5,297.3 L353.5,298.1 L354.5,298.9 L355.5,299.6 L356.5,300.4 L357.5,301.2 L358.5,301.9 L359.5,302.6 L360.5,303.4 L361.5,304.1 L362.5,304.8 L363.5,305.5 L364.5,306.2 L365.5,306.9 L366.5,307.6 L367.5,308.3 L368.5,309.1 L369.5,309.8 L370.5,310.5 L371.5,311.2 L372.5,311.9 L373.5,312.7 L374.5,313.4 L375.5,314.2 L376.5,314.9 L377.5,315.7 L378.5,316.5 L379.5,317.3 L380.5,318.2 L381.5,319.0 L382.5,319.9 L383.5,320.8 L384.5,321.7 L385.5,322.6 L386.5,323.5 L387.5,324.5 L388.5,325.5 L389.5,326.4 L390.5,327.4 L391.5,328.5 L392.5,329.5 L393.5,330.5 L394.5,331.6 L395.5,332.7 L396.5,333.7 L397.5,334.8 L398.5,336.0 L399.5,337.1 L400.5,338.2 L401.5,339.4 L402.5,340.5 L403.5,341.7 L404.5,342.9 L405.5,344.1 L406.5,345.3 L407.5,346.5 L408.5,347.7 L409.5,349.0 L410.5,350.2 L411.5,351.5 L412.5,352.8 L413.5,354.0 L414.5,355.3 L415.5,356.6 L416.5,357.9 L417.5,359.2 L418.5,360.5 L419.5,361.9 L420.5,363.2 L421.5,364.5 L422.5,365.9 L423.5,367.2 L424.5,368.6 L425.5,369.9 L426.5,371.3 L427.5,372.7 L428.5,374.0 L429.5,375.4 L430.5,376.8 L431.5,378.2 L432.5,379.6 L433.5,381.0 L434.5,382.4 L435.5,383.8 L436.5,385.2 L437.5,386.6 L438.5,388.0 L439.5,389.4 L440.5,390.8 L441.5,392.2 L442.5,393.6 L443.5,395.0 L444.5,396.4 L445.5,397.8 L446.5,399.2 L447.5,400.6 L448.5,402.0 L449.5,403.5 L450.5,404.9 L451.5,406.3 L452.5,407.7 L453.5,409.1 L454.5,410.5 L455.5,411.8 L456.5,413.2 L457.5,414.6 L458.5,416.0 L459.5,417.4 L460.5,418.7 L461.5,420.1 L462.5,421.5 L463.5,422.8 L464.5,424.2 L465.5,425.5 L466.5,426.9 L467.5,428.2 L468.5,429.5 L469.5,430.8 L470.5,432.2 L471.5,433.5 L472.5,434.8 L473.5,436.1 L474.5,437.3 L475.5,438.6 L476.5,439.9 L477.5,441.2 L478.5,442.4 L479.5,443.7 L480.5,444.9 L481.5,446.2 L482.5,447.4 L483.5,448.6 L484.5,449.9 L485.5,451.1 L486.5,452.3 L487.5,453.5 L488.5,454.7 L489.5,455.9 L490.5,457.1 L491.5,458.2 L492.5,459.4 L493.5,460.6 L494.5,461.7 L495.5,462.9 L496.5,464.0 L497.5,465.2 L498.5,466.3 L499.5,467.4 L500.5,468.6 L501.5,469.7 L502.5,470.8 L503.5,471.9 L504.5,473.0 L505.5,474.1 L506.5,475.2 L507.5,476.3 L508.5,477.3 L509.5,478.4 L510.5,479.5 L511.5,480.5 L512.5,481.6 L513.5,482.6 L514.5,483.7 L515.5,484.7 L516.5,485.7 L517.5,486.7 L518.5,487.8 L519.5,488.8 L520.5,489.8 L521.5,490.8 L522.5,491.8 L523.5,492.7 L524.5,493.7 L525.5,494.7 L526.5,495.7 L527.5,496.6 L528.5,497.6 L529.5,498.5 L530.5,499.5 L531.5,500.4 L532.5,501.4 L533.5,502.3 L534.5,503.2 L535.5,504.1 L536.5,505.0 L537.5,506.0 L538.5,506.9 L539.5,507.7 L540.5,508.6 L541.5,509.5 L542.5,510.4 L543.5,511.3 L544.5,512.1 L545.5,513.0 L546.5,513.9 L547.5,514.7 L548.5,515.6 L549.5,516.4 L550.5,517.2 L551.5,518.1 L552.5,518.9 L553.5,519.7 L554.5,520.5 L555.5,521.3 L556.5,522.1 L557.5,522.9 L558.5,523.7 L559.5,524.5 L560.5,525.3 L561.5,526.1 L562.5,526.9 L563.5,527.6 L564.5,528.4 L565.5,529.1 L566.5,529.9 L567.5,530.6 L568.5,531.4 L569.5,532.1 L570.5,532.9 L571.5,533.6 L572.5,534.3 L573.5,535.0 L574.5,535.8 L575.5,536.5 L576.5,537.2 L577.5,537.9 L578.5,538.6 L579.5,539.3 L580.5,540.0 L581.5,540.6 L582.5,541.3 L583.5,542.0 L584.5,542.7 L585.5,543.3 L586.5,544.0 L587.5,544.7 L588.5,545.3 L589.5,546.0 L590.5,546.6 L591.5,547.3 L592.5,547.9 L593.5,548.6 L594.5,549.2 L595.5,549.8 L596.5,550.5 L597.5,551.1 L598.5,551.7 L599.5,552.3 L600.5,552.9 L601.5,553.5 L602.5,554.1 L603.5,554.7 L604.5,555.3 L605.5,555.9 L606.5,556.5 L607.5,557.1 L608.5,557.7 L609.5,558.3 L610.5,558.9 L611.5,559.5 L612.5,560.0 L613.5,560.6 L614.5,561.2 L615.5,561.8 L616.5,562.3 L617.5,562.9 L618.5,563.4 L619.5,564.0 L620.5,564.5 L621.5,565.1 L622.5,565.6 L623.5,566.2 L624.5,566.7 L625.5,567.3 L626.5,567.8 L627.5,568.4 L628.5,568.9 L629.5,569.4 L630.5,570.0 L631.5,570.5 L632.5,571.0 L633.5,571.5 L634.5,572.1 L635.5,572.6 L636.5,573.1 L637.5,573.6 L638.5,574.1 L639.5,574.6 L640.5,575.2 L641.5,575.7 L642.5,576.2 L643.5,576.7 L644.5,577.2 L645.5,577.7 L646.5,578.2 L647.5,578.7 L648.5,579.2 L649.5,579.7 L650.5,580.2 L651.5,580.7 L652.5,581.2 L653.5,581.6 L654.5,582.1 L655.5,582.6 L656.5,583.1 L657.5,583.6 L658.5,584.0 L659.5,584.5 L660.5,585.0 L661.5,585.5 L662.5,585.9 L663.5,586.4 L664.5,586.9 L665.5,587.3 L666.5,587.8 L667.5,588.2 L668.5,588.7 L669.5,589.1 L670.5,589.6 L671.5,590.0 L672.5,590.5 L673.5,590.9 L674.5,591.4 L675.5,591.8 L676.5,592.2 L677.5,592.7 L678.5,593.1 L679.5,593.5 L680.5,593.9 L681.5,594.4 L682.5,594.8 L683.5,595.2 L684.5,595.6 L685.5,596.0 L686.5,596.4 L687.5,596.8 L688.5,597.2 L689.5,597.6 L690.5,598.0 L691.5,598.4 L692.5,598.8 L693.5,599.2 L694.5,599.6 L695.5,600.0 L696.5,600.3 L697.5,600.7 L698.5,601.1 L699.5,601.5 L700.5,601.8 L701.5,602.2 L702.5,602.5 L703.5,602.9 L704.5,603.2 L705.5,603.6 L706.5,603.9 L707.5,604.3 L708.5,604.6 L709.5,605.0 L710.5,605.3 L711.5,605.6 L712.5,605.9 L713.5,606.3 L714.5,606.6 L715.5,606.9 L716.5,607.2 L717.5,607.5 L718.5,607.8 L719.5,608.1 L720.5,608.4 L721.5,608.7 L722.5,609.0 L723.5,609.3 L724.5,609.6 L725.5,609.9 L726.5,610.1 L727.5,610.4 L728.5,610.7 L729.5,610.9 L730.5,611.2 L731.5,611.4 L732.5,611.7 L733.5,612.0 L734.5,612.2 L735.5,612.4 L736.5,612.7 L737.5,612.9 L738.5,613.1 L739.5,613.4 L740.5,613.6 L741.5,613.8 L742.5,614.0 L743.5,614.3 L744.5,614.5 L745.5,614.7 L746.5,614.9 L747.5,615.1 L748.5,615.3 L749.5,615.5 L750.5,615.7 L751.5,615.9 L752.5,616.1 L753.5,616.3 L754.5,616.5 L755.5,616.6 L756.5,616.8 L757.5,617.0 L758.5,617.2 L759.5,617.4 L760.5,617.5 L761.5,617.7 L762.5,617.9 L763.5,618.0 L764.5,618.2 L765.5,618.4 L766.5,618.5 L767.5,618.7 L768.5,618.8 L769.5,619.0 L770.5,619.1 L771.5,619.3 L772.5,619.4 L773.5,619.6 L774.5,619.7 L775.5,619.9 L776.5,620.0 L777.5,620.1 L778.5,620.3 L779.5,620.4 L780.5,620.6 L781.5,620.7 L782.5,620.8 L783.5,621.0 L784.5,621.1 L785.5,621.2 L786.5,621.4 L787.5,621.5 L788.5,621.6 L789.5,621.8 L790.5,621.9 L791.5,622.0 L792.5,622.1 L793.5,622.3 L794.5,622.4 L795.5,622.5 L796.5,622.6 L797.5,622.7 L798.5,622.9 L799.5,623.0 L800.5,623.1 L801.5,623.2 L802.5,623.4 L803.5,623.5 L804.5,623.6 L805.5,623.7 L806.5,623.8 L807.5,624.0 L808.5,624.1 L809.5,624.2 L810.5,624.3 L811.5,624.4 L812.5,624.6 L813.5,624.7 L814.5,624.8 L815.5,624.9 L816.5,625.1 L817.5,625.2 L818.5,625.3 L819.5,625.4 L820.5,625.6 L821.5,625.7 L822.5,625.8 L823.5,625.9 L824.5,626.1 L825.5,626.2 L826.5,626.3 L827.5,626.4 L828.5,626.6 L829.5,626.7 L830.5,626.8 L831.5,626.9 L832.5,627.1 L833.5,627.2 L834.5,627.3 L835.5,627.4 L836.5,627.6 L837.5,627.7 L838.5,627.8 L839.5,628.0 L840.5,628.1 L841.5,628.2 L842.5,628.3 L843.5,628.5 L844.5,628.6 L845.5,628.7 L846.5,628.9 L847.5,629.0 L848.5,629.1 L849.5,629.2 L850.5,629.4 L851.5,629.5 L852.5,629.6 L853.5,629.7 L854.5,629.9 L855.5,630.0 L856.5,630.1 L857.5,630.2 L858.5,630.4 L859.5,630.5 L860.5,630.6 L861.5,630.7 L862.5,630.9 L863.5,631.0 L864.5,631.1 L865.5,631.2 L866.5,631.4 L867.5,631.5 L868.5,631.6 L869.5,631.7 L870.5,631.9 L871.5,632.0 L872.5,632.1 L873.5,632.2 L874.5,632.3 L875.5,632.5 L876.5,632.6 L877.5,632.7 L878.5,632.8 L879.5,632.9 L880.5,633.0 L881.5,633.2 L882.5,633.3 L883.5,633.4 L884.5,633.5 L885.5,633.6 L886.5,633.7 L887.5,633.8 L888.5,634.0 L889.5,634.1 L890.5,634.2 L891.5,634.3 L892.5,634.4 L893.5,634.5 L894.5,634.6 L895.5,634.7 L896.5,634.8 L897.5,634.9 L898.5,635.0 L899.5,635.1 L900.5,635.2 L901.5,635.4 L902.5,635.5 L903.5,635.6 L904.5,635.7 L905.5,635.8 L906.5,635.9 L907.5,635.9 L908.5,636.0 L909.5,636.1 L910.5,636.2 L911.5,636.3 L912.5,636.4 L913.5,636.5 L914.5,636.6 L915.5,636.7 L916.5,636.8 L917.5,636.9 L918.5,637.0 L919.5,637.0 L920.5,637.1 L921.5,637.2 L922.5,637.3 L923.5,637.4 L924.5,637.4 L925.5,637.5 L926.5,637.6 L927.5,637.7 L928.5,637.8 L929.5,637.8 L930.5,637.9 L931.5,638.0 L932.5,638.0 L933.5,638.1 L934.5,638.2 L935.5,638.2 L936.5,638.3 L937.5,638.4 L938.5,638.4 L939.5,638.5 L940.5,638.6 L941.5,638.6 L942.5,638.7 L943.5,638.7 L944.5,638.8 L945.5,638.8 L946.5,638.9 L947.5,638.9 L948.5,639.0 L949.5,639.0 L950.5,639.1 L951.5,639.1 L952.5,639.1 L953.5,639.2 L954.5,639.2 L955.5,639.3 L956.5,639.3 L957.5,639.3 L958.5,639.4 L959.5,639.4 L960.5,639.4 L961.5,639.4 L962.5,639.5 L963.5,639.5 L964.5,639.5 L965.5,639.5 L966.5,639.6 L967.5,639.6 L968.5,639.6 L969.5,639.6 L970.5,639.6 L971.5,639.6 L972.5,639.6 L973.5,639.6 L974.5,639.6 L975.5,639.6 L976.5,639.6 L977.5,639.6 L978.5,639.6 L979.5,639.6 L980.5,639.6 L981.5,639.6 L982.5,639.6 L983.5,639.6 L984.5,639.6 L985.5,639.6 L986.5,639.5 L987.0,639.5" stroke="#3a3aae" stroke-width="1.6"/>
<path d="M125.5,572.5 L126.5,572.4 L127.5,572.0 L128.5,571.5 L129.5,570.8 L130.5,569.9 L131.5,569.0 L132.5,567.6 L133.5,565.3 L134.5,562.4 L135.5,559.2 L136.5,555.8 L137.5,552.6 L138.5,549.5 L139.5,546.2 L140.5,542.8 L141.5,539.4 L142.5,535.9 L143.5,532.5 L144.5,529.2 L145.5,525.9 L146.5,522.7 L147.5,519.5 L148.5,516.2 L149.5,512.8 L150.5,509.2 L151.5,505.4 L152.5,501.5 L153.5,497.6 L154.5,493.8 L155.5,489.9 L156.5,486.1 L157.5,482.3 L158.5,478.5 L159.5,474.9 L160.5,471.4 L161.5,468.1 L162.5,465.0 L163.5,462.0 L164.5,459.2 L165.5,456.6 L166.5,454.0 L167.5,451.6 L168.5,449.2 L169.5,446.9 L170.5,444.7 L171.5,442.5 L172.5,440.4 L173.5,438.2 L174.5,436.1 L175.5,434.0 L176.5,431.8 L177.5,429.6 L178.5,427.4 L179.5,425.1 L180.5,422.8 L181.5,420.5 L182.5,418.3 L183.5,416.0 L184.5,413.8 L185.5,411.6 L186.5,409.5 L187.5,407.6 L188.5,405.7 L189.5,403.9 L190.5,402.3 L191.5,400.7 L192.5,399.3 L193.5,398.1 L194.5,396.9 L195.5,395.8 L196.5,394.8 L197.5,393.9 L198.5,393.1 L199.5,392.3 L200.5,391.6 L201.5,391.0 L202.5,390.4 L203.5,389.8 L204.5,389.3 L205.5,388.8 L206.5,388.4 L207.5,388.0 L208.5,387.6 L209.5,387.1 L210.5,386.7 L211.5,386.3 L212.5,385.9 L213.5,385.4 L214.5,385.0 L215.5,384.4 L216.5,383.9 L217.5,383.3 L218.5,382.7 L219.5,382.0 L220.5,381.3 L221.5,380.6 L222.5,379.8 L223.5,379.0 L224.5,378.1 L225.5,377.2 L226.5,376.2 L227.5,375.2 L228.5,374.1 L229.5,373.0 L230.5,371.9 L231.5,370.7 L232.5,369.5 L233.5,368.2 L234.5,366.8 L235.5,365.4 L236.5,364.0 L237.5,362.5 L238.5,360.9 L239.5,359.3 L240.5,357.7 L241.5,355.9 L242.5,354.2 L243.5,352.3 L244.5,350.4 L245.5,348.5 L246.5,346.5 L247.5,344.4 L248.5,342.3 L249.5,340.1 L250.5,337.8 L251.5,335.5 L252.5,333.1 L253.5,330.7 L254.5,328.2 L255.5,325.7 L256.5,323.2 L257.5,320.6 L258.5,318.1 L259.5,315.5 L260.5,313.0 L261.5,310.5 L262.5,308.0 L263.5,305.5 L264.5,303.2 L265.5,300.9 L266.5,298.6 L267.5,296.5 L268.5,294.4 L269.5,292.4 L270.5,290.6 L271.5,288.9 L272.5,287.3 L273.5,285.8 L274.5,284.5 L275.5,283.4 L276.5,282.4 L277.5,281.6 L278.5,281.0 L279.5,280.4 L280.5,279.9 L281.5,279.6 L282.5,279.3 L283.5,279.0 L284.5,278.8 L285.5,278.6 L286.5,278.4 L287.5,278.3 L288.5,278.1 L289.5,278.0 L290.5,277.8 L291.5,277.7 L292.5,277.7 L293.5,277.6 L294.5,277.6 L295.5,277.6 L296.5,277.7 L297.5,277.9 L298.5,278.1 L299.5,278.3 L300.5,278.6 L301.5,278.9 L302.5,279.3 L303.5,279.7 L304.5,280.2 L305.5,280.7 L306.5,281.3 L307.5,282.0 L308.5,282.7 L309.5,283.4 L310.5,284.1 L311.5,284.9 L312.5,285.8 L313.5,286.7 L314.5,287.6 L315.5,288.6 L316.5,289.6 L317.5,290.7 L318.5,291.8 L319.5,292.9 L320.5,294.1 L321.5,295.3 L322.5,296.5 L323.5,297.8 L324.5,299.2 L325.5,300.5 L326.5,301.9 L327.5,303.3 L328.5,304.7 L329.5,306.0 L330.5,307.4 L331.5,308.8 L332.5,310.2 L333.5,311.5 L334.5,312.8 L335.5,314.1 L336.5,315.3 L337.5,316.5 L338.5,317.6 L339.5,318.7 L340.5,319.8 L341.5,320.8 L342.5,321.7 L343.5,322.7 L344.5,323.5 L345.5,324.4 L346.5,325.2 L347.5,326.1 L348.5,326.8 L349.5,327.6 L350.5,328.4 L351.5,329.1 L352.5,329.8 L353.5,330.5 L354.5,331.2 L355.5,331.9 L356.5,332.5 L357.5,333.2 L358.5,333.8 L359.5,334.4 L360.5,335.1 L361.5,335.7 L362.5,336.3 L363.5,336.9 L364.5,337.5 L365.5,338.1 L366.5,338.7 L367.5,339.3 L368.5,339.9 L369.5,340.5 L370.5,341.1 L371.5,341.8 L372.5,342.4 L373.5,343.0 L374.5,343.7 L375.5,344.4 L376.5,345.0 L377.5,345.7 L378.5,346.4 L379.5,347.1 L380.5,347.9 L381.5,348.6 L382.5,349.4 L383.5,350.2 L384.5,351.0 L385.5,351.8 L386.5,352.6 L387.5,353.5 L388.5,354.3 L389.5,355.2 L390.5,356.1 L391.5,357.0 L392.5,358.0 L393.5,358.9 L394.5,359.9 L395.5,360.8 L396.5,361.8 L397.5,362.8 L398.5,363.8 L399.5,364.8 L400.5,365.9 L401.5,366.9 L402.5,368.0 L403.5,369.0 L404.5,370.1 L405.5,371.2 L406.5,372.3 L407.5,373.4 L408.5,374.5 L409.5,375.7 L410.5,376.8 L411.5,378.0 L412.5,379.1 L413.5,380.3 L414.5,381.5 L415.5,382.6 L416.5,383.8 L417.5,385.0 L418.5,386.2 L419.5,387.4 L420.5,388.7 L421.5,389.9 L422.5,391.1 L423.5,392.3 L424.5,393.6 L425.5,394.8 L426.5,396.1 L427.5,397.3 L428.5,398.6 L429.5,399.9 L430.5,401.1 L431.5,402.4 L432.5,403.7 L433.5,404.9 L434.5,406.2 L435.5,407.5 L436.5,408.8 L437.5,410.1 L438.5,411.4 L439.5,412.6 L440.5,413.9 L441.5,415.2 L442.5,416.5 L443.5,417.8 L444.5,419.1 L445.5,420.4 L446.5,421.7 L447.5,422.9 L448.5,424.2 L449.5,425.5 L450.5,426.8 L451.5,428.1 L452.5,429.3 L453.5,430.6 L454.5,431.9 L455.5,433.2 L456.5,434.4 L457.5,435.7 L458.5,436.9 L459.5,438.2 L460.5,439.4 L461.5,440.7 L462.5,441.9 L463.5,443.1 L464.5,444.3 L465.5,445.6 L466.5,446.8 L467.5,448.0 L468.5,449.2 L469.5,450.3 L470.5,451.5 L471.5,452.7 L472.5,453.9 L473.5,455.0 L474.5,456.2 L475.5,457.3 L476.5,458.5 L477.5,459.6 L478.5,460.7 L479.5,461.8 L480.5,463.0 L481.5,464.1 L482.5,465.2 L483.5,466.3 L484.5,467.3 L485.5,468.4 L486.5,469.5 L487.5,470.6 L488.5,471.6 L489.5,472.7 L490.5,473.7 L491.5,474.8 L492.5,475.8 L493.5,476.8 L494.5,477.9 L495.5,478.9 L496.5,479.9 L497.5,480.9 L498.5,481.9 L499.5,482.9 L500.5,483.9 L501.5,484.9 L502.5,485.9 L503.5,486.8 L504.5,487.8 L505.5,488.8 L506.5,489.7 L507.5,490.7 L508.5,491.6 L509.5,492.6 L510.5,493.5 L511.5,494.4 L512.5,495.3 L513.5,496.3 L514.5,497.2 L515.5,498.1 L516.5,499.0 L517.5,499.9 L518.5,500.8 L519.5,501.7 L520.5,502.6 L521.5,503.4 L522.5,504.3 L523.5,505.2 L524.5,506.1 L525.5,506.9 L526.5,507.8 L527.5,508.6 L528.5,509.5 L529.5,510.3 L530.5,511.1 L531.5,512.0 L532.5,512.8 L533.5,513.6 L534.5,514.5 L535.5,515.3 L536.5,516.1 L537.5,516.9 L538.5,517.7 L539.5,518.5 L540.5,519.3 L541.5,520.1 L542.5,520.9 L543.5,521.6 L544.5,522.4 L545.5,523.2 L546.5,524.0 L547.5,524.7 L548.5,525.5 L549.5,526.3 L550.5,527.0 L551.5,527.8 L552.5,528.5 L553.5,529.3 L554.5,530.0 L555.5,530.7 L556.5,531.5 L557.5,532.2 L558.5,532.9 L559.5,533.7 L560.5,534.4 L561.5,535.1 L562.5,535.8 L563.5,536.5 L564.5,537.2 L565.5,537.9 L566.5,538.6 L567.5,539.3 L568.5,540.0 L569.5,540.7 L570.5,541.4 L571.5,542.1 L572.5,542.8 L573.5,543.4 L574.5,544.1 L575.5,544.8 L576.5,545.5 L577.5,546.1 L578.5,546.8 L579.5,547.4 L580.5,548.1 L581.5,548.7 L582.5,549.4 L583.5,550.0 L584.5,550.7 L585.5,551.3 L586.5,551.9 L587.5,552.6 L588.5,553.2 L589.5,553.8 L590.5,554.4 L591.5,555.1 L592.5,555.7 L593.5,556.3 L594.5,556.9 L595.5,557.5 L596.5,558.1 L597.5,558.7 L598.5,559.3 L599.5,559.9 L600.5,560.5 L601.5,561.1 L602.5,561.6 L603.5,562.2 L604.5,562.8 L605.5,563.4 L606.5,563.9 L607.5,564.5 L608.5,565.1 L609.5,565.6 L610.5,566.2 L611.5,566.7 L612.5,567.3 L613.5,567.8 L614.5,568.4 L615.5,568.9 L616.5,569.4 L617.5,570.0 L618.5,570.5 L619.5,571.0 L620.5,571.6 L621.5,572.1 L622.5,572.6 L623.5,573.1 L624.5,573.6 L625.5,574.1 L626.5,574.6 L627.5,575.2 L628.5,575.7 L629.5,576.2 L630.5,576.6 L631.5,577.1 L632.5,577.6 L633.5,578.1 L634.5,578.6 L635.5,579.1 L636.5,579.6 L637.5,580.0 L638.5,580.5 L639.5,581.0 L640.5,581.4 L641.5,581.9 L642.5,582.4 L643.5,582.8 L644.5,583.3 L645.5,583.7 L646.5,584.2 L647.5,584.6 L648.5,585.1 L649.5,585.5 L650.5,585.9 L651.5,586.4 L652.5,586.8 L653.5,587.2 L654.5,587.6 L655.5,588.1 L656.5,588.5 L657.5,588.9 L658.5,589.3 L659.5,589.7 L660.5,590.1 L661.5,590.5 L662.5,590.9 L663.5,591.3 L664.5,591.7 L665.5,592.1 L666.5,592.5 L667.5,592.9 L668.5,593.3 L669.5,593.7 L670.5,594.1 L671.5,594.5 L672.5,594.8 L673.5,595.2 L674.5,595.6 L675.5,595.9 L676.5,596.3 L677.5,596.7 L678.5,597.0 L679.5,597.4 L680.5,597.8 L681.5,598.1 L682.5,598.5 L683.5,598.8 L684.5,599.2 L685.5,599.5 L686.5,599.8 L687.5,600.2 L688.5,600.5 L689.5,600.9 L690.5,601.2 L691.5,601.5 L692.5,601.8 L693.5,602.2 L694.5,602.5 L695.5,602.8 L696.5,603.1 L697.5,603.4 L698.5,603.8 L699.5,604.1 L700.5,604.4 L701.5,604.7 L702.5,605.0 L703.5,605.3 L704.5,605.6 L705.5,605.9 L706.5,606.2 L707.5,606.5 L708.5,606.8 L709.5,607.1 L710.5,607.3 L711.5,607.6 L712.5,607.9 L713.5,608.2 L714.5,608.5 L715.5,608.7 L716.5,609.0 L717.5,609.3 L718.5,609.6 L719.5,609.8 L720.5,610.1 L721.5,610.4 L722.5,610.6 L723.5,610.9 L724.5,611.1 L725.5,611.4 L726.5,611.6 L727.5,611.9 L728.5,612.1 L729.5,612.4 L730.5,612.6 L731.5,612.9 L732.5,613.1 L733.5,613.4 L734.5,613.6 L735.5,613.8 L736.5,614.1 L737.5,614.3 L738.5,614.5 L739.5,614.8 L740.5,615.0 L741.5,615.2 L742.5,615.4 L743.5,615.7 L744.5,615.9 L745.5,616.1 L746.5,616.3 L747.5,616.5 L748.5,616.7 L749.5,616.9 L750.5,617.2 L751.5,617.4 L752.5,617.6 L753.5,617.8 L754.5,618.0 L755.5,618.2 L756.5,618.4 L757.5,618.6 L758.5,618.8 L759.5,619.0 L760.5,619.1 L761.5,619.3 L762.5,619.5 L763.5,619.7 L764.5,619.9 L765.5,620.1 L766.5,620.3 L767.5,620.4 L768.5,620.6 L769.5,620.8 L770.5,621.0 L771.5,621.2 L772.5,621.3 L773.5,621.5 L774.5,621.7 L775.5,621.8 L776.5,622.0 L777.5,622.2 L778.5,622.3 L779.5,622.5 L780.5,622.7 L781.5,622.8 L782.5,623.0 L783.5,623.1 L784.5,623.3 L785.5,623.4 L786.5,623.6 L787.5,623.8 L788.5,623.9 L789.5,624.1 L790.5,624.2 L791.5,624.3 L792.5,624.5 L793.5,624.6 L794.5,624.8 L795.5,624.9 L796.5,625.1 L797.5,625.2 L798.5,625.3 L799.5,625.5 L800.5,625.6 L801.5,625.8 L802.5,625.9 L803.5,626.0 L804.5,626.1 L805.5,626.3 L806.5,626.4 L807.5,626.5 L808.5,626.7 L809.5,626.8 L810.5,626.9 L811.5,627.0 L812.5,627.2 L813.5,627.3 L814.5,627.4 L815.5,627.5 L816.5,627.6 L817.5,627.8 L818.5,627.9 L819.5,628.0 L820.5,628.1 L821.5,628.2 L822.5,628.3 L823.5,628.4 L824.5,628.6 L825.5,628.7 L826.5,628.8 L827.5,628.9 L828.5,629.0 L829.5,629.1 L830.5,629.2 L831.5,629.3 L832.5,629.4 L833.5,629.5 L834.5,629.6 L835.5,629.7 L836.5,629.8 L837.5,629.9 L838.5,630.0 L839.5,630.1 L840.5,630.2 L841.5,630.3 L842.5,630.4 L843.5,630.5 L844.5,630.6 L845.5,630.7 L846.5,630.8 L847.5,630.9 L848.5,631.0 L849.5,631.1 L850.5,631.2 L851.5,631.2 L852.5,631.3 L853.5,631.4 L854.5,631.5 L855.5,631.6 L856.5,631.7 L857.5,631.8 L858.5,631.9 L859.5,631.9 L860.5,632.0 L861.5,632.1 L862.5,632.2 L863.5,632.3 L864.5,632.4 L865.5,632.4 L866.5,632.5 L867.5,632.6 L868.5,632.7 L869.5,632.8 L870.5,632.9 L871.5,632.9 L872.5,633.0 L873.5,633.1 L874.5,633.2 L875.5,633.2 L876.5,633.3 L877.5,633.4 L878.5,633.5 L879.5,633.6 L880.5,633.6 L881.5,633.7 L882.5,633.8 L883.5,633.9 L884.5,633.9 L885.5,634.0 L886.5,634.1 L887.5,634.2 L888.5,634.2 L889.5,634.3 L890.5,634.4 L891.5,634.5 L892.5,634.5 L893.5,634.6 L894.5,634.7 L895.5,634.8 L896.5,634.8 L897.5,634.9 L898.5,635.0 L899.5,635.1 L900.5,635.1 L901.5,635.2 L902.5,635.3 L903.5,635.3 L904.5,635.4 L905.5,635.5 L906.5,635.6 L907.5,635.6 L908.5,635.7 L909.5,635.8 L910.5,635.9 L911.5,635.9 L912.5,636.0 L913.5,636.1 L914.5,636.1 L915.5,636.2 L916.5,636.3 L917.5,636.4 L918.5,636.4 L919.5,636.5 L920.5,636.6 L921.5,636.7 L922.5,636.7 L923.5,636.8 L924.5,636.9 L925.5,637.0 L926.5,637.0 L927.5,637.1 L928.5,637.2 L929.5,637.3 L930.5,637.3 L931.5,637.4 L932.5,637.5 L933.5,637.6 L934.5,637.6 L935.5,637.7 L936.5,637.8 L937.5,637.9 L938.5,638.0 L939.5,638.0 L940.5,638.1 L941.5,638.2 L942.5,638.3 L943.5,638.4 L944.5,638.4 L945.5,638.5 L946.5,638.6 L947.5,638.7 L948.5,638.8 L949.5,638.8 L950.5,638.9 L951.5,639.0 L952.5,639.1 L953.5,639.2 L954.5,639.3 L955.5,639.3 L956.5,639.4 L957.5,639.5 L958.5,639.6 L959.5,639.7 L960.5,639.8 L961.5,639.9 L962.5,640.0 L963.5,640.0 L964.5,640.1 L965.5,640.2 L966.5,640.3 L967.5,640.4 L968.5,640.5 L969.5,640.6 L970.5,640.7 L971.5,640.8 L972.5,640.9 L973.5,641.0 L974.5,641.1 L975.5,641.2 L976.5,641.3 L977.5,641.4 L978.5,641.5 L979.5,641.6 L980.5,641.7 L981.5,641.8 L982.5,641.9 L983.5,642.0 L984.5,642.1 L985.5,642.2 L986.5,642.3 L987.0,642.4" stroke="#7eeaea" stroke-width="3.0"/>
<path d="M125.5,579.4 L126.5,579.3 L127.5,578.9 L128.5,578.4 L129.5,577.7 L130.5,576.9 L131.5,575.7 L132.5,573.7 L133.5,571.0 L134.5,567.9 L135.5,564.7 L136.5,561.7 L137.5,558.7 L138.5,555.5 L139.5,552.2 L140.5,548.8 L141.5,545.3 L142.5,541.8 L143.5,538.1 L144.5,534.3 L145.5,530.4 L146.5,526.5 L147.5,522.7 L148.5,519.2 L149.5,515.8 L150.5,512.4 L151.5,509.2 L152.5,505.9 L153.5,502.7 L154.5,499.4 L155.5,496.2 L156.5,492.9 L157.5,489.8 L158.5,486.7 L159.5,483.6 L160.5,480.6 L161.5,477.7 L162.5,474.9 L163.5,472.1 L164.5,469.4 L165.5,466.8 L166.5,464.3 L167.5,461.8 L168.5,459.4 L169.5,457.0 L170.5,454.7 L171.5,452.4 L172.5,450.2 L173.5,448.0 L174.5,445.9 L175.5,443.8 L176.5,441.8 L177.5,439.8 L178.5,437.9 L179.5,436.0 L180.5,434.1 L181.5,432.3 L182.5,430.5 L183.5,428.8 L184.5,427.1 L185.5,425.4 L186.5,423.8 L187.5,422.2 L188.5,420.6 L189.5,419.1 L190.5,417.6 L191.5,416.2 L192.5,414.8 L193.5,413.4 L194.5,412.1 L195.5,410.9 L196.5,409.7 L197.5,408.5 L198.5,407.4 L199.5,406.4 L200.5,405.4 L201.5,404.4 L202.5,403.6 L203.5,402.7 L204.5,401.9 L205.5,401.2 L206.5,400.6 L207.5,400.0 L208.5,399.4 L209.5,398.9 L210.5,398.4 L211.5,398.0 L212.5,397.5 L213.5,397.1 L214.5,396.7 L215.5,396.3 L216.5,395.9 L217.5,395.5 L218.5,395.1 L219.5,394.7 L220.5,394.2 L221.5,393.7 L222.5,393.2 L223.5,392.7 L224.5,392.1 L225.5,391.5 L226.5,390.8 L227.5,390.1 L228.5,389.4 L229.5,388.6 L230.5,387.8 L231.5,386.9 L232.5,386.0 L233.5,385.0 L234.5,384.0 L235.5,383.0 L236.5,381.8 L237.5,380.7 L238.5,379.4 L239.5,378.2 L240.5,376.8 L241.5,375.4 L242.5,373.9 L243.5,372.4 L244.5,370.8 L245.5,369.1 L246.5,367.3 L247.5,365.5 L248.5,363.7 L249.5,361.7 L250.5,359.8 L251.5,357.7 L252.5,355.7 L253.5,353.6 L254.5,351.5 L255.5,349.4 L256.5,347.3 L257.5,345.1 L258.5,343.0 L259.5,340.9 L260.5,338.7 L261.5,336.6 L262.5,334.5 L263.5,332.5 L264.5,330.5 L265.5,328.5 L266.5,326.6 L267.5,324.7 L268.5,322.9 L269.5,321.2 L270.5,319.5 L271.5,317.9 L272.5,316.4 L273.5,315.0 L274.5,313.6 L275.5,312.4 L276.5,311.2 L277.5,310.1 L278.5,309.2 L279.5,308.2 L280.5,307.4 L281.5,306.7 L282.5,306.0 L283.5,305.5 L284.5,305.0 L285.5,304.5 L286.5,304.2 L287.5,303.9 L288.5,303.7 L289.5,303.6 L290.5,303.5 L291.5,303.5 L292.5,303.5 L293.5,303.6 L294.5,303.7 L295.5,303.8 L296.5,304.0 L297.5,304.2 L298.5,304.4 L299.5,304.7 L300.5,305.0 L301.5,305.3 L302.5,305.7 L303.5,306.1 L304.5,306.6 L305.5,307.1 L306.5,307.7 L307.5,308.3 L308.5,309.0 L309.5,309.7 L310.5,310.4 L311.5,311.2 L312.5,312.1 L313.5,312.9 L314.5,313.9 L315.5,314.8 L316.5,315.8 L317.5,316.9 L318.5,317.9 L319.5,319.1 L320.5,320.2 L321.5,321.5 L322.5,322.7 L323.5,324.0 L324.5,325.4 L325.5,326.7 L326.5,328.1 L327.5,329.5 L328.5,330.9 L329.5,332.3 L330.5,333.8 L331.5,335.2 L332.5,336.6 L333.5,338.0 L334.5,339.3 L335.5,340.7 L336.5,342.0 L337.5,343.2 L338.5,344.4 L339.5,345.5 L340.5,346.6 L341.5,347.7 L342.5,348.7 L343.5,349.7 L344.5,350.6 L345.5,351.5 L346.5,352.3 L347.5,353.1 L348.5,353.9 L349.5,354.7 L350.5,355.4 L351.5,356.1 L352.5,356.8 L353.5,357.4 L354.5,358.1 L355.5,358.7 L356.5,359.3 L357.5,359.9 L358.5,360.5 L359.5,361.1 L360.5,361.6 L361.5,362.2 L362.5,362.7 L363.5,363.3 L364.5,363.8 L365.5,364.3 L366.5,364.8 L367.5,365.4 L368.5,365.9 L369.5,366.4 L370.5,366.9 L371.5,367.4 L372.5,368.0 L373.5,368.5 L374.5,369.1 L375.5,369.6 L376.5,370.2 L377.5,370.7 L378.5,371.3 L379.5,371.9 L380.5,372.6 L381.5,373.2 L382.5,373.8 L383.5,374.5 L384.5,375.2 L385.5,375.9 L386.5,376.6 L387.5,377.3 L388.5,378.1 L389.5,378.8 L390.5,379.6 L391.5,380.4 L392.5,381.2 L393.5,382.0 L394.5,382.8 L395.5,383.7 L396.5,384.5 L397.5,385.4 L398.5,386.2 L399.5,387.1 L400.5,388.0 L401.5,388.9 L402.5,389.9 L403.5,390.8 L404.5,391.7 L405.5,392.7 L406.5,393.6 L407.5,394.6 L408.5,395.6 L409.5,396.6 L410.5,397.6 L411.5,398.6 L412.5,399.6 L413.5,400.6 L414.5,401.7 L415.5,402.7 L416.5,403.8 L417.5,404.8 L418.5,405.9 L419.5,407.0 L420.5,408.0 L421.5,409.1 L422.5,410.2 L423.5,411.3 L424.5,412.4 L425.5,413.5 L426.5,414.6 L427.5,415.7 L428.5,416.8 L429.5,418.0 L430.5,419.1 L431.5,420.2 L432.5,421.4 L433.5,422.5 L434.5,423.6 L435.5,424.8 L436.5,425.9 L437.5,427.1 L438.5,428.2 L439.5,429.4 L440.5,430.6 L441.5,431.7 L442.5,432.9 L443.5,434.0 L444.5,435.2 L445.5,436.3 L446.5,437.5 L447.5,438.7 L448.5,439.8 L449.5,441.0 L450.5,442.1 L451.5,443.3 L452.5,444.4 L453.5,445.6 L454.5,446.7 L455.5,447.9 L456.5,449.0 L457.5,450.2 L458.5,451.3 L459.5,452.5 L460.5,453.6 L461.5,454.7 L462.5,455.9 L463.5,457.0 L464.5,458.1 L465.5,459.2 L466.5,460.3 L467.5,461.4 L468.5,462.5 L469.5,463.6 L470.5,464.7 L471.5,465.8 L472.5,466.8 L473.5,467.9 L474.5,469.0 L475.5,470.0 L476.5,471.1 L477.5,472.1 L478.5,473.2 L479.5,474.2 L480.5,475.3 L481.5,476.3 L482.5,477.3 L483.5,478.3 L484.5,479.4 L485.5,480.4 L486.5,481.4 L487.5,482.4 L488.5,483.4 L489.5,484.4 L490.5,485.3 L491.5,486.3 L492.5,487.3 L493.5,488.3 L494.5,489.2 L495.5,490.2 L496.5,491.1 L497.5,492.1 L498.5,493.0 L499.5,494.0 L500.5,494.9 L501.5,495.8 L502.5,496.8 L503.5,497.7 L504.5,498.6 L505.5,499.5 L506.5,500.4 L507.5,501.3 L508.5,502.2 L509.5,503.1 L510.5,504.0 L511.5,504.9 L512.5,505.8 L513.5,506.6 L514.5,507.5 L515.5,508.4 L516.5,509.2 L517.5,510.1 L518.5,510.9 L519.5,511.8 L520.5,512.6 L521.5,513.5 L522.5,514.3 L523.5,515.1 L524.5,516.0 L525.5,516.8 L526.5,517.6 L527.5,518.4 L528.5,519.2 L529.5,520.0 L530.5,520.8 L531.5,521.6 L532.5,522.4 L533.5,523.2 L534.5,524.0 L535.5,524.8 L536.5,525.5 L537.5,526.3 L538.5,527.1 L539.5,527.8 L540.5,528.6 L541.5,529.3 L542.5,530.1 L543.5,530.8 L544.5,531.6 L545.5,532.3 L546.5,533.0 L547.5,533.8 L548.5,534.5 L549.5,535.2 L550.5,535.9 L551.5,536.6 L552.5,537.3 L553.5,538.0 L554.5,538.7 L555.5,539.4 L556.5,540.1 L557.5,540.8 L558.5,541.5 L559.5,542.2 L560.5,542.9 L561.5,543.5 L562.5,544.2 L563.5,544.9 L564.5,545.5 L565.5,546.2 L566.5,546.8 L567.5,547.5 L568.5,548.1 L569.5,548.8 L570.5,549.4 L571.5,550.1 L572.5,550.7 L573.5,551.3 L574.5,552.0 L575.5,552.6 L576.5,553.2 L577.5,553.8 L578.5,554.4 L579.5,555.0 L580.5,555.6 L581.5,556.2 L582.5,556.8 L583.5,557.4 L584.5,558.0 L585.5,558.6 L586.5,559.2 L587.5,559.8 L588.5,560.3 L589.5,560.9 L590.5,561.5 L591.5,562.0 L592.5,562.6 L593.5,563.2 L594.5,563.7 L595.5,564.3 L596.5,564.8 L597.5,565.4 L598.5,565.9 L599.5,566.4 L600.5,567.0 L601.5,567.5 L602.5,568.0 L603.5,568.6 L604.5,569.1 L605.5,569.6 L606.5,570.1 L607.5,570.7 L608.5,571.2 L609.5,571.7 L610.5,572.2 L611.5,572.7 L612.5,573.2 L613.5,573.7 L614.5,574.2 L615.5,574.7 L616.5,575.2 L617.5,575.6 L618.5,576.1 L619.5,576.6 L620.5,577.1 L621.5,577.5 L622.5,578.0 L623.5,578.5 L624.5,579.0 L625.5,579.4 L626.5,579.9 L627.5,580.3 L628.5,580.8 L629.5,581.2 L630.5,581.7 L631.5,582.1 L632.5,582.6 L633.5,583.0 L634.5,583.4 L635.5,583.9 L636.5,584.3 L637.5,584.7 L638.5,585.2 L639.5,585.6 L640.5,586.0 L641.5,586.4 L642.5,586.9 L643.5,587.3 L644.5,587.7 L645.5,588.1 L646.5,588.5 L647.5,588.9 L648.5,589.3 L649.5,589.7 L650.5,590.1 L651.5,590.5 L652.5,590.9 L653.5,591.3 L654.5,591.7 L655.5,592.1 L656.5,592.4 L657.5,592.8 L658.5,593.2 L659.5,593.6 L660.5,593.9 L661.5,594.3 L662.5,594.7 L663.5,595.1 L664.5,595.4 L665.5,595.8 L666.5,596.1 L667.5,596.5 L668.5,596.8 L669.5,597.2 L670.5,597.6 L671.5,597.9 L672.5,598.2 L673.5,598.6 L674.5,598.9 L675.5,599.3 L676.5,599.6 L677.5,599.9 L678.5,600.3 L679.5,600.6 L680.5,600.9 L681.5,601.3 L682.5,601.6 L683.5,601.9 L684.5,602.2 L685.5,602.5 L686.5,602.9 L687.5,603.2 L688.5,603.5 L689.5,603.8 L690.5,604.1 L691.5,604.4 L692.5,604.7 L693.5,605.0 L694.5,605.3 L695.5,605.6 L696.5,605.9 L697.5,606.2 L698.5,606.5 L699.5,606.8 L700.5,607.0 L701.5,607.3 L702.5,607.6 L703.5,607.9 L704.5,608.2 L705.5,608.4 L706.5,608.7 L707.5,609.0 L708.5,609.3 L709.5,609.5 L710.5,609.8 L711.5,610.1 L712.5,610.3 L713.5,610.6 L714.5,610.8 L715.5,611.1 L716.5,611.4 L717.5,611.6 L718.5,611.9 L719.5,612.1 L720.5,612.4 L721.5,612.6 L722.5,612.8 L723.5,613.1 L724.5,613.3 L725.5,613.6 L726.5,613.8 L727.5,614.0 L728.5,614.3 L729.5,614.5 L730.5,614.7 L731.5,615.0 L732.5,615.2 L733.5,615.4 L734.5,615.6 L735.5,615.9 L736.5,616.1 L737.5,616.3 L738.5,616.5 L739.5,616.7 L740.5,616.9 L741.5,617.2 L742.5,617.4 L743.5,617.6 L744.5,617.8 L745.5,618.0 L746.5,618.2 L747.5,618.4 L748.5,618.6 L749.5,618.8 L750.5,619.0 L751.5,619.2 L752.5,619.4 L753.5,619.6 L754.5,619.8 L755.5,620.0 L756.5,620.1 L757.5,620.3 L758.5,620.5 L759.5,620.7 L760.5,620.9 L761.5,621.1 L762.5,621.2 L763.5,621.4 L764.5,621.6 L765.5,621.8 L766.5,621.9 L767.5,622.1 L768.5,622.3 L769.5,622.5 L770.5,622.6 L771.5,622.8 L772.5,623.0 L773.5,623.1 L774.5,623.3 L775.5,623.4 L776.5,623.6 L777.5,623.8 L778.5,623.9 L779.5,624.1 L780.5,624.2 L781.5,624.4 L782.5,624.5 L783.5,624.7 L784.5,624.8 L785.5,625.0 L786.5,625.1 L787.5,625.3 L788.5,625.4 L789.5,625.6 L790.5,625.7 L791.5,625.8 L792.5,626.0 L793.5,626.1 L794.5,626.3 L795.5,626.4 L796.5,626.5 L797.5,626.7 L798.5,626.8 L799.5,626.9 L800.5,627.1 L801.5,627.2 L802.5,627.3 L803.5,627.5 L804.5,627.6 L805.5,627.7 L806.5,627.8 L807.5,628.0 L808.5,628.1 L809.5,628.2 L810.5,628.3 L811.5,628.4 L812.5,628.6 L813.5,628.7 L814.5,628.8 L815.5,628.9 L816.5,629.0 L817.5,629.1 L818.5,629.2 L819.5,629.4 L820.5,629.5 L821.5,629.6 L822.5,629.7 L823.5,629.8 L824.5,629.9 L825.5,630.0 L826.5,630.1 L827.5,630.2 L828.5,630.3 L829.5,630.4 L830.5,630.5 L831.5,630.6 L832.5,630.7 L833.5,630.8 L834.5,630.9 L835.5,631.0 L836.5,631.1 L837.5,631.2 L838.5,631.3 L839.5,631.4 L840.5,631.5 L841.5,631.6 L842.5,631.7 L843.5,631.8 L844.5,631.9 L845.5,632.0 L846.5,632.1 L847.5,632.1 L848.5,632.2 L849.5,632.3 L850.5,632.4 L851.5,632.5 L852.5,632.6 L853.5,632.7 L854.5,632.8 L855.5,632.8 L856.5,632.9 L857.5,633.0 L858.5,633.1 L859.5,633.2 L860.5,633.2 L861.5,633.3 L862.5,633.4 L863.5,633.5 L864.5,633.6 L865.5,633.6 L866.5,633.7 L867.5,633.8 L868.5,633.9 L869.5,634.0 L870.5,634.0 L871.5,634.1 L872.5,634.2 L873.5,634.3 L874.5,634.3 L875.5,634.4 L876.5,634.5 L877.5,634.6 L878.5,634.6 L879.5,634.7 L880.5,634.8 L881.5,634.8 L882.5,634.9 L883.5,635.0 L884.5,635.1 L885.5,635.1 L886.5,635.2 L887.5,635.3 L888.5,635.3 L889.5,635.4 L890.5,635.5 L891.5,635.5 L892.5,635.6 L893.5,635.7 L894.5,635.7 L895.5,635.8 L896.5,635.9 L897.5,635.9 L898.5,636.0 L899.5,636.1 L900.5,636.1 L901.5,636.2 L902.5,636.3 L903.5,636.3 L904.5,636.4 L905.5,636.5 L906.5,636.5 L907.5,636.6 L908.5,636.7 L909.5,636.7 L910.5,636.8 L911.5,636.9 L912.5,636.9 L913.5,637.0 L914.5,637.0 L915.5,637.1 L916.5,637.2 L917.5,637.2 L918.5,637.3 L919.5,637.4 L920.5,637.4 L921.5,637.5 L922.5,637.6 L923.5,637.6 L924.5,637.7 L925.5,637.7 L926.5,637.8 L927.5,637.9 L928.5,637.9 L929.5,638.0 L930.5,638.1 L931.5,638.1 L932.5,638.2 L933.5,638.3 L934.5,638.3 L935.5,638.4 L936.5,638.4 L937.5,638.5 L938.5,638.6 L939.5,638.6 L940.5,638.7 L941.5,638.8 L942.5,638.8 L943.5,638.9 L944.5,639.0 L945.5,639.0 L946.5,639.1 L947.5,639.2 L948.5,639.2 L949.5,639.3 L950.5,639.4 L951.5,639.4 L952.5,639.5 L953.5,639.6 L954.5,639.6 L955.5,639.7 L956.5,639.8 L957.5,639.8 L958.5,639.9 L959.5,640.0 L960.5,640.1 L961.5,640.1 L962.5,640.2 L963.5,640.3 L964.5,640.3 L965.5,640.4 L966.5,640.5 L967.5,640.6 L968.5,640.6 L969.5,640.7 L970.5,640.8 L971.5,640.9 L972.5,640.9 L973.5,641.0 L974.5,641.1 L975.5,641.2 L976.5,641.2 L977.5,641.3 L978.5,641.4 L979.5,641.5 L980.5,641.5 L981.5,641.6 L982.5,641.7 L983.5,641.8 L984.5,641.9 L985.5,641.9 L986.5,642.0 L987.0,642.1" stroke="#dd1ee0" stroke-width="3.0"/>
<path d="M126.0,653.0 L127.0,648.9 L128.0,644.9 L129.0,641.1 L130.0,637.6 L131.0,634.0 L132.0,629.9 L133.0,625.4 L134.0,620.6 L135.0,615.2 L136.0,609.1 L137.0,602.5 L138.0,596.0 L139.0,590.0 L140.0,584.6 L141.0,579.4 L142.0,574.4 L143.0,569.7 L144.0,565.2 L145.0,560.9 L146.0,556.8 L147.0,553.0 L148.0,549.3 L149.0,545.6 L150.0,542.0 L151.0,538.4 L152.0,534.9 L153.0,531.4 L154.0,528.0 L155.0,524.6 L156.0,521.3 L157.0,518.0 L158.0,514.7 L159.0,511.4 L160.0,508.2 L161.0,505.0 L162.0,501.9 L163.0,498.7 L164.0,495.7 L165.0,492.7 L166.0,489.7 L167.0,486.7 L168.0,483.9 L169.0,481.0 L170.0,478.2 L171.0,475.5 L172.0,472.9 L173.0,470.3 L174.0,467.7 L175.0,465.3 L176.0,462.9 L177.0,460.6 L178.0,458.3 L179.0,456.2 L180.0,454.1 L181.0,452.1 L182.0,450.1 L183.0,448.3 L184.0,446.5 L185.0,444.8 L186.0,443.2 L187.0,441.6 L188.0,440.1 L189.0,438.7 L190.0,437.3 L191.0,436.0 L192.0,434.7 L193.0,433.5 L194.0,432.4 L195.0,431.3 L196.0,430.2 L197.0,429.2 L198.0,428.3 L199.0,427.3 L200.0,426.5 L201.0,425.6 L202.0,424.8 L203.0,424.0 L204.0,423.3 L205.0,422.6 L206.0,421.9 L207.0,421.2 L208.0,420.6 L209.0,420.0 L210.0,419.3 L211.0,418.8 L212.0,418.2 L213.0,417.6 L214.0,417.1 L215.0,416.5 L216.0,415.9 L217.0,415.4 L218.0,414.9 L219.0,414.3 L220.0,413.8 L221.0,413.2 L222.0,412.6 L223.0,412.0 L224.0,411.4 L225.0,410.8 L226.0,410.2 L227.0,409.6 L228.0,408.9 L229.0,408.2 L230.0,407.5 L231.0,406.7 L232.0,405.9 L233.0,405.1 L234.0,404.3 L235.0,403.4 L236.0,402.5 L237.0,401.5 L238.0,400.5 L239.0,399.4 L240.0,398.3 L241.0,397.2 L242.0,395.9 L243.0,394.7 L244.0,393.4 L245.0,392.0 L246.0,390.5 L247.0,389.0 L248.0,387.4 L249.0,385.8 L250.0,384.1 L251.0,382.3 L252.0,380.4 L253.0,378.5 L254.0,376.5 L255.0,374.5 L256.0,372.4 L257.0,370.3 L258.0,368.3 L259.0,366.2 L260.0,364.1 L261.0,362.0 L262.0,360.0 L263.0,358.1 L264.0,356.2 L265.0,354.3 L266.0,352.6 L267.0,350.9 L268.0,349.4 L269.0,348.0 L270.0,346.6 L271.0,345.4 L272.0,344.3 L273.0,343.2 L274.0,342.2 L275.0,341.3 L276.0,340.3 L277.0,339.5 L278.0,338.6 L279.0,337.9 L280.0,337.1 L281.0,336.4 L282.0,335.8 L283.0,335.2 L284.0,334.7 L285.0,334.3 L286.0,333.9 L287.0,333.6 L288.0,333.3 L289.0,333.1 L290.0,333.0 L291.0,332.9 L292.0,332.9 L293.0,332.9 L294.0,333.0 L295.0,333.1 L296.0,333.3 L297.0,333.4 L298.0,333.6 L299.0,333.9 L300.0,334.1 L301.0,334.4 L302.0,334.7 L303.0,335.1 L304.0,335.5 L305.0,336.0 L306.0,336.5 L307.0,337.1 L308.0,337.7 L309.0,338.3 L310.0,339.0 L311.0,339.7 L312.0,340.4 L313.0,341.2 L314.0,342.0 L315.0,342.9 L316.0,343.9 L317.0,344.9 L318.0,346.0 L319.0,347.1 L320.0,348.2 L321.0,349.3 L322.0,350.4 L323.0,351.6 L324.0,352.8 L325.0,354.0 L326.0,355.1 L327.0,356.3 L328.0,357.5 L329.0,358.6 L330.0,359.8 L331.0,360.9 L332.0,362.0 L333.0,363.1 L334.0,364.1 L335.0,365.1 L336.0,366.1 L337.0,367.1 L338.0,368.0 L339.0,368.9 L340.0,369.7 L341.0,370.6 L342.0,371.4 L343.0,372.2 L344.0,372.9 L345.0,373.7 L346.0,374.5 L347.0,375.4 L348.0,376.2 L349.0,377.0 L350.0,377.8 L351.0,378.6 L352.0,379.4 L353.0,380.2 L354.0,381.0 L355.0,381.7 L356.0,382.5 L357.0,383.3 L358.0,384.0 L359.0,384.8 L360.0,385.6 L361.0,386.3 L362.0,387.0 L363.0,387.8 L364.0,388.5 L365.0,389.2 L366.0,390.0 L367.0,390.7 L368.0,391.4 L369.0,392.1 L370.0,392.8 L371.0,393.5 L372.0,394.2 L373.0,394.9 L374.0,395.6 L375.0,396.3 L376.0,397.0 L377.0,397.6 L378.0,398.3 L379.0,399.0 L380.0,399.7 L381.0,400.3 L382.0,401.0 L383.0,401.7 L384.0,402.3 L385.0,403.0 L386.0,403.7 L387.0,404.3 L388.0,405.0 L389.0,405.6 L390.0,406.3 L391.0,407.0 L392.0,407.6 L393.0,408.3 L394.0,408.9 L395.0,409.6 L396.0,410.3 L397.0,410.9 L398.0,411.6 L399.0,412.3 L400.0,413.0 L401.0,413.7 L402.0,414.3 L403.0,415.0 L404.0,415.7 L405.0,416.4 L406.0,417.1 L407.0,417.9 L408.0,418.6 L409.0,419.3 L410.0,420.0 L411.0,420.8 L412.0,421.5 L413.0,422.3 L414.0,423.1 L415.0,423.8 L416.0,424.6 L417.0,425.4 L418.0,426.2 L419.0,427.0 L420.0,427.8 L421.0,428.7 L422.0,429.5 L423.0,430.4 L424.0,431.2 L425.0,432.1 L426.0,433.0 L427.0,433.9 L428.0,434.8 L429.0,435.7 L430.0,436.6 L431.0,437.6 L432.0,438.5 L433.0,439.5 L434.0,440.5 L435.0,441.4 L436.0,442.4 L437.0,443.4 L438.0,444.4 L439.0,445.4 L440.0,446.4 L441.0,447.4 L442.0,448.5 L443.0,449.5 L444.0,450.5 L445.0,451.6 L446.0,452.6 L447.0,453.7 L448.0,454.7 L449.0,455.8 L450.0,456.9 L451.0,457.9 L452.0,459.0 L453.0,460.1 L454.0,461.1 L455.0,462.2 L456.0,463.3 L457.0,464.4 L458.0,465.4 L459.0,466.5 L460.0,467.6 L461.0,468.7 L462.0,469.7 L463.0,470.8 L464.0,471.9 L465.0,473.0 L466.0,474.0 L467.0,475.1 L468.0,476.2 L469.0,477.2 L470.0,478.3 L471.0,479.3 L472.0,480.4 L473.0,481.4 L474.0,482.5 L475.0,483.5 L476.0,484.5 L477.0,485.6 L478.0,486.6 L479.0,487.6 L480.0,488.7 L481.0,489.7 L482.0,490.7 L483.0,491.7 L484.0,492.7 L485.0,493.7 L486.0,494.7 L487.0,495.7 L488.0,496.6 L489.0,497.6 L490.0,498.6 L491.0,499.5 L492.0,500.5 L493.0,501.4 L494.0,502.4 L495.0,503.3 L496.0,504.3 L497.0,505.2 L498.0,506.1 L499.0,507.0 L500.0,507.9 L501.0,508.8 L502.0,509.7 L503.0,510.6 L504.0,511.5 L505.0,512.3 L506.0,513.2 L507.0,514.0 L508.0,514.9 L509.0,515.7 L510.0,516.5 L511.0,517.4 L512.0,518.2 L513.0,519.0 L514.0,519.8 L515.0,520.6 L516.0,521.3 L517.0,522.1 L518.0,522.9 L519.0,523.6 L520.0,524.4 L521.0,525.1 L522.0,525.8 L523.0,526.6 L524.0,527.3 L525.0,528.0 L526.0,528.7 L527.0,529.4 L528.0,530.1 L529.0,530.8 L530.0,531.5 L531.0,532.1 L532.0,532.8 L533.0,533.5 L534.0,534.1 L535.0,534.8 L536.0,535.5 L537.0,536.1 L538.0,536.8 L539.0,537.4 L540.0,538.0 L541.0,538.7 L542.0,539.3 L543.0,539.9 L544.0,540.5 L545.0,541.1 L546.0,541.8 L547.0,542.4 L548.0,543.0 L549.0,543.6 L550.0,544.2 L551.0,544.8 L552.0,545.4 L553.0,546.0 L554.0,546.6 L555.0,547.2 L556.0,547.8 L557.0,548.4 L558.0,549.0 L559.0,549.5 L560.0,550.1 L561.0,550.7 L562.0,551.3 L563.0,551.9 L564.0,552.5 L565.0,553.0 L566.0,553.6 L567.0,554.2 L568.0,554.8 L569.0,555.3 L570.0,555.9 L571.0,556.5 L572.0,557.0 L573.0,557.6 L574.0,558.1 L575.0,558.7 L576.0,559.3 L577.0,559.8 L578.0,560.4 L579.0,560.9 L580.0,561.5 L581.0,562.0 L582.0,562.6 L583.0,563.1 L584.0,563.7 L585.0,564.2 L586.0,564.7 L587.0,565.3 L588.0,565.8 L589.0,566.3 L590.0,566.9 L591.0,567.4 L592.0,567.9 L593.0,568.4 L594.0,569.0 L595.0,569.5 L596.0,570.0 L597.0,570.5 L598.0,571.0 L599.0,571.5 L600.0,572.1 L601.0,572.6 L602.0,573.1 L603.0,573.6 L604.0,574.1 L605.0,574.6 L606.0,575.1 L607.0,575.6 L608.0,576.0 L609.0,576.5 L610.0,577.0 L611.0,577.5 L612.0,578.0 L613.0,578.5 L614.0,578.9 L615.0,579.4 L616.0,579.9 L617.0,580.4 L618.0,580.8 L619.0,581.3 L620.0,581.8 L621.0,582.2 L622.0,582.7 L623.0,583.1 L624.0,583.6 L625.0,584.0 L626.0,584.5 L627.0,584.9 L628.0,585.4 L629.0,585.8 L630.0,586.2 L631.0,586.7 L632.0,587.1 L633.0,587.5 L634.0,588.0 L635.0,588.4 L636.0,588.8 L637.0,589.2 L638.0,589.7 L639.0,590.1 L640.0,590.5 L641.0,590.9 L642.0,591.3 L643.0,591.7 L644.0,592.1 L645.0,592.5 L646.0,592.9 L647.0,593.3 L648.0,593.7 L649.0,594.1 L650.0,594.5 L651.0,594.8 L652.0,595.2 L653.0,595.6 L654.0,596.0 L655.0,596.3 L656.0,596.7 L657.0,597.1 L658.0,597.5 L659.0,597.8 L660.0,598.2 L661.0,598.5 L662.0,598.9 L663.0,599.2 L664.0,599.6 L665.0,599.9 L666.0,600.3 L667.0,600.6 L668.0,601.0 L669.0,601.3 L670.0,601.6 L671.0,602.0 L672.0,602.3 L673.0,602.6 L674.0,603.0 L675.0,603.3 L676.0,603.6 L677.0,603.9 L678.0,604.2 L679.0,604.6 L680.0,604.9 L681.0,605.2 L682.0,605.5 L683.0,605.8 L684.0,606.1 L685.0,606.4 L686.0,606.7 L687.0,607.0 L688.0,607.3 L689.0,607.6 L690.0,607.9 L691.0,608.2 L692.0,608.4 L693.0,608.7 L694.0,609.0 L695.0,609.3 L696.0,609.6 L697.0,609.8 L698.0,610.1 L699.0,610.4 L700.0,610.7 L701.0,610.9 L702.0,611.2 L703.0,611.5 L704.0,611.7 L705.0,612.0 L706.0,612.2 L707.0,612.5 L708.0,612.7 L709.0,613.0 L710.0,613.2 L711.0,613.5 L712.0,613.7 L713.0,614.0 L714.0,614.2 L715.0,614.5 L716.0,614.7 L717.0,614.9 L718.0,615.2 L719.0,615.4 L720.0,615.6 L721.0,615.8 L722.0,616.1 L723.0,616.3 L724.0,616.5 L725.0,616.7 L726.0,617.0 L727.0,617.2 L728.0,617.4 L729.0,617.6 L730.0,617.8 L731.0,618.0 L732.0,618.2 L733.0,618.4 L734.0,618.6 L735.0,618.8 L736.0,619.0 L737.0,619.2 L738.0,619.4 L739.0,619.6 L740.0,619.8 L741.0,620.0 L742.0,620.2 L743.0,620.4 L744.0,620.6 L745.0,620.8 L746.0,621.0 L747.0,621.1 L748.0,621.3 L749.0,621.5 L750.0,621.7 L751.0,621.9 L752.0,622.0 L753.0,622.2 L754.0,622.4 L755.0,622.6 L756.0,622.7 L757.0,622.9 L758.0,623.1 L759.0,623.2 L760.0,623.4 L761.0,623.5 L762.0,623.7 L763.0,623.9 L764.0,624.0 L765.0,624.2 L766.0,624.3 L767.0,624.5 L768.0,624.6 L769.0,624.8 L770.0,624.9 L771.0,625.1 L772.0,625.2 L773.0,625.4 L774.0,625.5 L775.0,625.7 L776.0,625.8 L777.0,625.9 L778.0,626.1 L779.0,626.2 L780.0,626.4 L781.0,626.5 L782.0,626.6 L783.0,626.8 L784.0,626.9 L785.0,627.0 L786.0,627.1 L787.0,627.3 L788.0,627.4 L789.0,627.5 L790.0,627.6 L791.0,627.8 L792.0,627.9 L793.0,628.0 L794.0,628.1 L795.0,628.3 L796.0,628.4 L797.0,628.5 L798.0,628.6 L799.0,628.7 L800.0,628.8 L801.0,628.9 L802.0,629.0 L803.0,629.2 L804.0,629.3 L805.0,629.4 L806.0,629.5 L807.0,629.6 L808.0,629.7 L809.0,629.8 L810.0,629.9 L811.0,630.0 L812.0,630.1 L813.0,630.2 L814.0,630.3 L815.0,630.4 L816.0,630.5 L817.0,630.6 L818.0,630.7 L819.0,630.8 L820.0,630.9 L821.0,631.0 L822.0,631.1 L823.0,631.2 L824.0,631.2 L825.0,631.3 L826.0,631.4 L827.0,631.5 L828.0,631.6 L829.0,631.7 L830.0,631.8 L831.0,631.9 L832.0,631.9 L833.0,632.0 L834.0,632.1 L835.0,632.2 L836.0,632.3 L837.0,632.4 L838.0,632.4 L839.0,632.5 L840.0,632.6 L841.0,632.7 L842.0,632.8 L843.0,632.8 L844.0,632.9 L845.0,633.0 L846.0,633.1 L847.0,633.1 L848.0,633.2 L849.0,633.3 L850.0,633.4 L851.0,633.4 L852.0,633.5 L853.0,633.6 L854.0,633.6 L855.0,633.7 L856.0,633.8 L857.0,633.9 L858.0,633.9 L859.0,634.0 L860.0,634.1 L861.0,634.1 L862.0,634.2 L863.0,634.3 L864.0,634.3 L865.0,634.4 L866.0,634.5 L867.0,634.5 L868.0,634.6 L869.0,634.7 L870.0,634.7 L871.0,634.8 L872.0,634.9 L873.0,634.9 L874.0,635.0 L875.0,635.1 L876.0,635.1 L877.0,635.2 L878.0,635.2 L879.0,635.3 L880.0,635.4 L881.0,635.4 L882.0,635.5 L883.0,635.5 L884.0,635.6 L885.0,635.7 L886.0,635.7 L887.0,635.8 L888.0,635.9 L889.0,635.9 L890.0,636.0 L891.0,636.0 L892.0,636.1 L893.0,636.2 L894.0,636.2 L895.0,636.3 L896.0,636.3 L897.0,636.4 L898.0,636.5 L899.0,636.5 L900.0,636.6 L901.0,636.6 L902.0,636.7 L903.0,636.8 L904.0,636.8 L905.0,636.9 L906.0,636.9 L907.0,637.0 L908.0,637.0 L909.0,637.1 L910.0,637.2 L911.0,637.2 L912.0,637.3 L913.0,637.3 L914.0,637.4 L915.0,637.5 L916.0,637.5 L917.0,637.6 L918.0,637.7 L919.0,637.7 L920.0,637.8 L921.0,637.8 L922.0,637.9 L923.0,638.0 L924.0,638.0 L925.0,638.1 L926.0,638.1 L927.0,638.2 L928.0,638.3 L929.0,638.3 L930.0,638.4 L931.0,638.5 L932.0,638.5 L933.0,638.6 L934.0,638.7 L935.0,638.7 L936.0,638.8 L937.0,638.9 L938.0,638.9 L939.0,639.0 L940.0,639.0 L941.0,639.1 L942.0,639.2 L943.0,639.3 L944.0,639.3 L945.0,639.4 L946.0,639.5 L947.0,639.5 L948.0,639.6 L949.0,639.7 L950.0,639.7 L951.0,639.8 L952.0,639.9 L953.0,640.0 L954.0,640.0 L955.0,640.1 L956.0,640.2 L957.0,640.3 L958.0,640.3 L959.0,640.4 L960.0,640.5 L961.0,640.6 L962.0,640.6 L963.0,640.7 L964.0,640.8 L965.0,640.9 L966.0,641.0 L967.0,641.0 L968.0,641.1 L969.0,641.2 L970.0,641.3 L971.0,641.4 L972.0,641.5 L973.0,641.5 L974.0,641.6 L975.0,641.7 L976.0,641.8 L977.0,641.9 L978.0,642.0 L979.0,642.1 L980.0,642.2 L981.0,642.3 L982.0,642.3 L983.0,642.4 L984.0,642.5 L985.0,642.6 L986.0,642.7 L987.0,642.8" stroke="#5a5a1e" stroke-width="2.7"/>
<path d="M125.5,595.1 L126.5,595.0 L127.5,594.7 L128.5,594.2 L129.5,593.7 L130.5,593.2 L131.5,592.5 L132.5,591.6 L133.5,590.5 L134.5,589.3 L135.5,587.9 L136.5,586.5 L137.5,585.1 L138.5,583.7 L139.5,582.2 L140.5,580.7 L141.5,579.1 L142.5,577.5 L143.5,575.8 L144.5,573.9 L145.5,572.0 L146.5,569.9 L147.5,567.7 L148.5,565.2 L149.5,562.6 L150.5,559.9 L151.5,557.1 L152.5,554.3 L153.5,551.6 L154.5,548.9 L155.5,546.1 L156.5,543.4 L157.5,540.6 L158.5,537.8 L159.5,535.0 L160.5,532.2 L161.5,529.4 L162.5,526.7 L163.5,524.0 L164.5,521.4 L165.5,518.8 L166.5,516.2 L167.5,513.7 L168.5,511.3 L169.5,508.9 L170.5,506.6 L171.5,504.3 L172.5,502.1 L173.5,499.9 L174.5,497.9 L175.5,495.9 L176.5,494.0 L177.5,492.1 L178.5,490.4 L179.5,488.7 L180.5,487.1 L181.5,485.6 L182.5,484.1 L183.5,482.7 L184.5,481.4 L185.5,480.1 L186.5,478.9 L187.5,477.7 L188.5,476.6 L189.5,475.5 L190.5,474.5 L191.5,473.5 L192.5,472.6 L193.5,471.7 L194.5,470.8 L195.5,470.0 L196.5,469.2 L197.5,468.5 L198.5,467.8 L199.5,467.1 L200.5,466.4 L201.5,465.8 L202.5,465.2 L203.5,464.6 L204.5,464.0 L205.5,463.5 L206.5,463.0 L207.5,462.5 L208.5,462.0 L209.5,461.5 L210.5,461.0 L211.5,460.5 L212.5,460.1 L213.5,459.6 L214.5,459.2 L215.5,458.7 L216.5,458.3 L217.5,457.8 L218.5,457.3 L219.5,456.9 L220.5,456.4 L221.5,455.9 L222.5,455.4 L223.5,454.9 L224.5,454.4 L225.5,453.9 L226.5,453.3 L227.5,452.7 L228.5,452.1 L229.5,451.5 L230.5,450.9 L231.5,450.2 L232.5,449.5 L233.5,448.7 L234.5,448.0 L235.5,447.2 L236.5,446.3 L237.5,445.4 L238.5,444.5 L239.5,443.6 L240.5,442.6 L241.5,441.5 L242.5,440.4 L243.5,439.3 L244.5,438.2 L245.5,437.0 L246.5,435.8 L247.5,434.6 L248.5,433.4 L249.5,432.1 L250.5,430.9 L251.5,429.6 L252.5,428.3 L253.5,427.0 L254.5,425.6 L255.5,424.3 L256.5,423.0 L257.5,421.6 L258.5,420.3 L259.5,419.0 L260.5,417.7 L261.5,416.3 L262.5,415.0 L263.5,413.7 L264.5,412.5 L265.5,411.2 L266.5,409.9 L267.5,408.7 L268.5,407.5 L269.5,406.3 L270.5,405.2 L271.5,404.1 L272.5,403.0 L273.5,402.0 L274.5,400.9 L275.5,400.0 L276.5,399.1 L277.5,398.2 L278.5,397.3 L279.5,396.6 L280.5,395.8 L281.5,395.2 L282.5,394.5 L283.5,394.0 L284.5,393.5 L285.5,393.0 L286.5,392.6 L287.5,392.3 L288.5,392.0 L289.5,391.8 L290.5,391.7 L291.5,391.6 L292.5,391.5 L293.5,391.5 L294.5,391.6 L295.5,391.6 L296.5,391.7 L297.5,391.9 L298.5,392.1 L299.5,392.2 L300.5,392.5 L301.5,392.7 L302.5,392.9 L303.5,393.3 L304.5,393.6 L305.5,394.0 L306.5,394.5 L307.5,394.9 L308.5,395.4 L309.5,395.9 L310.5,396.5 L311.5,397.1 L312.5,397.7 L313.5,398.3 L314.5,399.0 L315.5,399.8 L316.5,400.6 L317.5,401.4 L318.5,402.3 L319.5,403.2 L320.5,404.1 L321.5,405.0 L322.5,406.0 L323.5,407.0 L324.5,407.9 L325.5,408.9 L326.5,409.9 L327.5,410.8 L328.5,411.8 L329.5,412.7 L330.5,413.7 L331.5,414.6 L332.5,415.5 L333.5,416.4 L334.5,417.2 L335.5,418.0 L336.5,418.8 L337.5,419.6 L338.5,420.3 L339.5,421.0 L340.5,421.6 L341.5,422.3 L342.5,422.9 L343.5,423.5 L344.5,424.0 L345.5,424.6 L346.5,425.2 L347.5,425.7 L348.5,426.3 L349.5,426.9 L350.5,427.4 L351.5,427.9 L352.5,428.5 L353.5,429.0 L354.5,429.5 L355.5,430.1 L356.5,430.6 L357.5,431.1 L358.5,431.6 L359.5,432.1 L360.5,432.7 L361.5,433.2 L362.5,433.7 L363.5,434.2 L364.5,434.7 L365.5,435.2 L366.5,435.7 L367.5,436.2 L368.5,436.8 L369.5,437.3 L370.5,437.8 L371.5,438.3 L372.5,438.9 L373.5,439.4 L374.5,439.9 L375.5,440.5 L376.5,441.0 L377.5,441.6 L378.5,442.2 L379.5,442.7 L380.5,443.3 L381.5,443.9 L382.5,444.5 L383.5,445.1 L384.5,445.7 L385.5,446.4 L386.5,447.0 L387.5,447.6 L388.5,448.3 L389.5,448.9 L390.5,449.6 L391.5,450.2 L392.5,450.9 L393.5,451.6 L394.5,452.3 L395.5,453.0 L396.5,453.7 L397.5,454.4 L398.5,455.1 L399.5,455.8 L400.5,456.5 L401.5,457.2 L402.5,458.0 L403.5,458.7 L404.5,459.4 L405.5,460.2 L406.5,460.9 L407.5,461.7 L408.5,462.5 L409.5,463.2 L410.5,464.0 L411.5,464.8 L412.5,465.5 L413.5,466.3 L414.5,467.1 L415.5,467.9 L416.5,468.7 L417.5,469.5 L418.5,470.3 L419.5,471.1 L420.5,471.9 L421.5,472.7 L422.5,473.5 L423.5,474.3 L424.5,475.1 L425.5,475.9 L426.5,476.8 L427.5,477.6 L428.5,478.4 L429.5,479.2 L430.5,480.1 L431.5,480.9 L432.5,481.7 L433.5,482.5 L434.5,483.4 L435.5,484.2 L436.5,485.0 L437.5,485.9 L438.5,486.7 L439.5,487.5 L440.5,488.4 L441.5,489.2 L442.5,490.0 L443.5,490.9 L444.5,491.7 L445.5,492.5 L446.5,493.3 L447.5,494.2 L448.5,495.0 L449.5,495.8 L450.5,496.7 L451.5,497.5 L452.5,498.3 L453.5,499.1 L454.5,500.0 L455.5,500.8 L456.5,501.6 L457.5,502.4 L458.5,503.2 L459.5,504.0 L460.5,504.8 L461.5,505.6 L462.5,506.4 L463.5,507.2 L464.5,508.0 L465.5,508.8 L466.5,509.6 L467.5,510.4 L468.5,511.2 L469.5,512.0 L470.5,512.7 L471.5,513.5 L472.5,514.3 L473.5,515.0 L474.5,515.8 L475.5,516.5 L476.5,517.3 L477.5,518.0 L478.5,518.8 L479.5,519.5 L480.5,520.3 L481.5,521.0 L482.5,521.7 L483.5,522.5 L484.5,523.2 L485.5,523.9 L486.5,524.6 L487.5,525.3 L488.5,526.0 L489.5,526.8 L490.5,527.5 L491.5,528.2 L492.5,528.9 L493.5,529.5 L494.5,530.2 L495.5,530.9 L496.5,531.6 L497.5,532.3 L498.5,533.0 L499.5,533.6 L500.5,534.3 L501.5,535.0 L502.5,535.6 L503.5,536.3 L504.5,537.0 L505.5,537.6 L506.5,538.3 L507.5,538.9 L508.5,539.6 L509.5,540.2 L510.5,540.8 L511.5,541.5 L512.5,542.1 L513.5,542.7 L514.5,543.4 L515.5,544.0 L516.5,544.6 L517.5,545.2 L518.5,545.8 L519.5,546.4 L520.5,547.0 L521.5,547.6 L522.5,548.2 L523.5,548.8 L524.5,549.4 L525.5,550.0 L526.5,550.6 L527.5,551.2 L528.5,551.8 L529.5,552.4 L530.5,552.9 L531.5,553.5 L532.5,554.1 L533.5,554.6 L534.5,555.2 L535.5,555.8 L536.5,556.3 L537.5,556.9 L538.5,557.4 L539.5,558.0 L540.5,558.5 L541.5,559.1 L542.5,559.6 L543.5,560.2 L544.5,560.7 L545.5,561.2 L546.5,561.8 L547.5,562.3 L548.5,562.8 L549.5,563.3 L550.5,563.8 L551.5,564.4 L552.5,564.9 L553.5,565.4 L554.5,565.9 L555.5,566.4 L556.5,566.9 L557.5,567.4 L558.5,567.9 L559.5,568.4 L560.5,568.9 L561.5,569.4 L562.5,569.9 L563.5,570.3 L564.5,570.8 L565.5,571.3 L566.5,571.8 L567.5,572.2 L568.5,572.7 L569.5,573.2 L570.5,573.6 L571.5,574.1 L572.5,574.6 L573.5,575.0 L574.5,575.5 L575.5,575.9 L576.5,576.4 L577.5,576.8 L578.5,577.3 L579.5,577.7 L580.5,578.2 L581.5,578.6 L582.5,579.0 L583.5,579.5 L584.5,579.9 L585.5,580.3 L586.5,580.7 L587.5,581.2 L588.5,581.6 L589.5,582.0 L590.5,582.4 L591.5,582.8 L592.5,583.2 L593.5,583.6 L594.5,584.1 L595.5,584.5 L596.5,584.9 L597.5,585.3 L598.5,585.7 L599.5,586.0 L600.5,586.4 L601.5,586.8 L602.5,587.2 L603.5,587.6 L604.5,588.0 L605.5,588.4 L606.5,588.7 L607.5,589.1 L608.5,589.5 L609.5,589.9 L610.5,590.2 L611.5,590.6 L612.5,591.0 L613.5,591.3 L614.5,591.7 L615.5,592.0 L616.5,592.4 L617.5,592.8 L618.5,593.1 L619.5,593.5 L620.5,593.8 L621.5,594.2 L622.5,594.5 L623.5,594.8 L624.5,595.2 L625.5,595.5 L626.5,595.9 L627.5,596.2 L628.5,596.5 L629.5,596.9 L630.5,597.2 L631.5,597.5 L632.5,597.8 L633.5,598.2 L634.5,598.5 L635.5,598.8 L636.5,599.1 L637.5,599.4 L638.5,599.7 L639.5,600.1 L640.5,600.4 L641.5,600.7 L642.5,601.0 L643.5,601.3 L644.5,601.6 L645.5,601.9 L646.5,602.2 L647.5,602.5 L648.5,602.8 L649.5,603.1 L650.5,603.4 L651.5,603.6 L652.5,603.9 L653.5,604.2 L654.5,604.5 L655.5,604.8 L656.5,605.1 L657.5,605.3 L658.5,605.6 L659.5,605.9 L660.5,606.2 L661.5,606.4 L662.5,606.7 L663.5,607.0 L664.5,607.2 L665.5,607.5 L666.5,607.8 L667.5,608.0 L668.5,608.3 L669.5,608.5 L670.5,608.8 L671.5,609.1 L672.5,609.3 L673.5,609.6 L674.5,609.8 L675.5,610.1 L676.5,610.3 L677.5,610.5 L678.5,610.8 L679.5,611.0 L680.5,611.3 L681.5,611.5 L682.5,611.8 L683.5,612.0 L684.5,612.2 L685.5,612.5 L686.5,612.7 L687.5,612.9 L688.5,613.1 L689.5,613.4 L690.5,613.6 L691.5,613.8 L692.5,614.0 L693.5,614.3 L694.5,614.5 L695.5,614.7 L696.5,614.9 L697.5,615.1 L698.5,615.3 L699.5,615.5 L700.5,615.8 L701.5,616.0 L702.5,616.2 L703.5,616.4 L704.5,616.6 L705.5,616.8 L706.5,617.0 L707.5,617.2 L708.5,617.4 L709.5,617.6 L710.5,617.8 L711.5,618.0 L712.5,618.2 L713.5,618.3 L714.5,618.5 L715.5,618.7 L716.5,618.9 L717.5,619.1 L718.5,619.3 L719.5,619.5 L720.5,619.6 L721.5,619.8 L722.5,620.0 L723.5,620.2 L724.5,620.4 L725.5,620.5 L726.5,620.7 L727.5,620.9 L728.5,621.1 L729.5,621.2 L730.5,621.4 L731.5,621.6 L732.5,621.7 L733.5,621.9 L734.5,622.1 L735.5,622.2 L736.5,622.4 L737.5,622.5 L738.5,622.7 L739.5,622.9 L740.5,623.0 L741.5,623.2 L742.5,623.3 L743.5,623.5 L744.5,623.6 L745.5,623.8 L746.5,623.9 L747.5,624.1 L748.5,624.2 L749.5,624.4 L750.5,624.5 L751.5,624.7 L752.5,624.8 L753.5,625.0 L754.5,625.1 L755.5,625.2 L756.5,625.4 L757.5,625.5 L758.5,625.6 L759.5,625.8 L760.5,625.9 L761.5,626.1 L762.5,626.2 L763.5,626.3 L764.5,626.4 L765.5,626.6 L766.5,626.7 L767.5,626.8 L768.5,627.0 L769.5,627.1 L770.5,627.2 L771.5,627.3 L772.5,627.5 L773.5,627.6 L774.5,627.7 L775.5,627.8 L776.5,627.9 L777.5,628.1 L778.5,628.2 L779.5,628.3 L780.5,628.4 L781.5,628.5 L782.5,628.6 L783.5,628.7 L784.5,628.9 L785.5,629.0 L786.5,629.1 L787.5,629.2 L788.5,629.3 L789.5,629.4 L790.5,629.5 L791.5,629.6 L792.5,629.7 L793.5,629.8 L794.5,629.9 L795.5,630.0 L796.5,630.1 L797.5,630.2 L798.5,630.3 L799.5,630.4 L800.5,630.5 L801.5,630.6 L802.5,630.7 L803.5,630.8 L804.5,630.9 L805.5,631.0 L806.5,631.1 L807.5,631.2 L808.5,631.3 L809.5,631.4 L810.5,631.5 L811.5,631.6 L812.5,631.7 L813.5,631.7 L814.5,631.8 L815.5,631.9 L816.5,632.0 L817.5,632.1 L818.5,632.2 L819.5,632.3 L820.5,632.4 L821.5,632.4 L822.5,632.5 L823.5,632.6 L824.5,632.7 L825.5,632.8 L826.5,632.8 L827.5,632.9 L828.5,633.0 L829.5,633.1 L830.5,633.2 L831.5,633.2 L832.5,633.3 L833.5,633.4 L834.5,633.5 L835.5,633.6 L836.5,633.6 L837.5,633.7 L838.5,633.8 L839.5,633.9 L840.5,633.9 L841.5,634.0 L842.5,634.1 L843.5,634.1 L844.5,634.2 L845.5,634.3 L846.5,634.4 L847.5,634.4 L848.5,634.5 L849.5,634.6 L850.5,634.6 L851.5,634.7 L852.5,634.8 L853.5,634.8 L854.5,634.9 L855.5,635.0 L856.5,635.0 L857.5,635.1 L858.5,635.2 L859.5,635.2 L860.5,635.3 L861.5,635.4 L862.5,635.4 L863.5,635.5 L864.5,635.6 L865.5,635.6 L866.5,635.7 L867.5,635.7 L868.5,635.8 L869.5,635.9 L870.5,635.9 L871.5,636.0 L872.5,636.1 L873.5,636.1 L874.5,636.2 L875.5,636.2 L876.5,636.3 L877.5,636.4 L878.5,636.4 L879.5,636.5 L880.5,636.5 L881.5,636.6 L882.5,636.7 L883.5,636.7 L884.5,636.8 L885.5,636.8 L886.5,636.9 L887.5,636.9 L888.5,637.0 L889.5,637.1 L890.5,637.1 L891.5,637.2 L892.5,637.2 L893.5,637.3 L894.5,637.3 L895.5,637.4 L896.5,637.5 L897.5,637.5 L898.5,637.6 L899.5,637.6 L900.5,637.7 L901.5,637.7 L902.5,637.8 L903.5,637.9 L904.5,637.9 L905.5,638.0 L906.5,638.0 L907.5,638.1 L908.5,638.1 L909.5,638.2 L910.5,638.2 L911.5,638.3 L912.5,638.4 L913.5,638.4 L914.5,638.5 L915.5,638.5 L916.5,638.6 L917.5,638.6 L918.5,638.7 L919.5,638.8 L920.5,638.8 L921.5,638.9 L922.5,638.9 L923.5,639.0 L924.5,639.0 L925.5,639.1 L926.5,639.1 L927.5,639.2 L928.5,639.3 L929.5,639.3 L930.5,639.4 L931.5,639.4 L932.5,639.5 L933.5,639.5 L934.5,639.6 L935.5,639.7 L936.5,639.7 L937.5,639.8 L938.5,639.8 L939.5,639.9 L940.5,640.0 L941.5,640.0 L942.5,640.1 L943.5,640.1 L944.5,640.2 L945.5,640.3 L946.5,640.3 L947.5,640.4 L948.5,640.4 L949.5,640.5 L950.5,640.6 L951.5,640.6 L952.5,640.7 L953.5,640.7 L954.5,640.8 L955.5,640.9 L956.5,640.9 L957.5,641.0 L958.5,641.1 L959.5,641.1 L960.5,641.2 L961.5,641.2 L962.5,641.3 L963.5,641.4 L964.5,641.4 L965.5,641.5 L966.5,641.6 L967.5,641.6 L968.5,641.7 L969.5,641.8 L970.5,641.8 L971.5,641.9 L972.5,642.0 L973.5,642.0 L974.5,642.1 L975.5,642.2 L976.5,642.3 L977.5,642.3 L978.5,642.4 L979.5,642.5 L980.5,642.5 L981.5,642.6 L982.5,642.7 L983.5,642.8 L984.5,642.8 L985.5,642.9 L986.5,643.0 L987.0,643.0" stroke="#320a48" stroke-width="3.0"/>
<path d="M125.5,598.5 L126.5,598.4 L127.5,598.2 L128.5,597.9 L129.5,597.4 L130.5,596.9 L131.5,596.3 L132.5,595.7 L133.5,595.0 L134.5,594.3 L135.5,593.3 L136.5,592.1 L137.5,590.7 L138.5,589.1 L139.5,587.4 L140.5,585.6 L141.5,583.7 L142.5,581.8 L143.5,580.0 L144.5,578.0 L145.5,575.9 L146.5,573.7 L147.5,571.4 L148.5,569.1 L149.5,566.7 L150.5,564.2 L151.5,561.7 L152.5,559.0 L153.5,556.3 L154.5,553.4 L155.5,550.6 L156.5,547.8 L157.5,545.2 L158.5,542.6 L159.5,540.1 L160.5,537.7 L161.5,535.3 L162.5,533.0 L163.5,530.8 L164.5,528.7 L165.5,526.6 L166.5,524.6 L167.5,522.6 L168.5,520.7 L169.5,518.9 L170.5,517.1 L171.5,515.4 L172.5,513.7 L173.5,512.1 L174.5,510.6 L175.5,509.1 L176.5,507.6 L177.5,506.2 L178.5,504.9 L179.5,503.6 L180.5,502.3 L181.5,501.1 L182.5,500.0 L183.5,498.9 L184.5,497.8 L185.5,496.8 L186.5,495.8 L187.5,494.9 L188.5,494.0 L189.5,493.1 L190.5,492.3 L191.5,491.6 L192.5,490.8 L193.5,490.1 L194.5,489.5 L195.5,488.8 L196.5,488.2 L197.5,487.7 L198.5,487.1 L199.5,486.6 L200.5,486.1 L201.5,485.6 L202.5,485.2 L203.5,484.7 L204.5,484.3 L205.5,483.9 L206.5,483.5 L207.5,483.1 L208.5,482.7 L209.5,482.4 L210.5,482.0 L211.5,481.6 L212.5,481.3 L213.5,480.9 L214.5,480.5 L215.5,480.2 L216.5,479.8 L217.5,479.4 L218.5,479.0 L219.5,478.6 L220.5,478.2 L221.5,477.8 L222.5,477.3 L223.5,476.9 L224.5,476.4 L225.5,475.9 L226.5,475.4 L227.5,474.8 L228.5,474.2 L229.5,473.6 L230.5,473.0 L231.5,472.3 L232.5,471.6 L233.5,470.8 L234.5,470.1 L235.5,469.2 L236.5,468.4 L237.5,467.5 L238.5,466.5 L239.5,465.5 L240.5,464.5 L241.5,463.4 L242.5,462.3 L243.5,461.1 L244.5,459.9 L245.5,458.7 L246.5,457.5 L247.5,456.3 L248.5,455.0 L249.5,453.7 L250.5,452.4 L251.5,451.1 L252.5,449.9 L253.5,448.6 L254.5,447.3 L255.5,446.0 L256.5,444.7 L257.5,443.5 L258.5,442.2 L259.5,441.0 L260.5,439.8 L261.5,438.7 L262.5,437.5 L263.5,436.5 L264.5,435.4 L265.5,434.4 L266.5,433.4 L267.5,432.5 L268.5,431.6 L269.5,430.8 L270.5,430.0 L271.5,429.3 L272.5,428.6 L273.5,427.9 L274.5,427.3 L275.5,426.7 L276.5,426.2 L277.5,425.7 L278.5,425.2 L279.5,424.8 L280.5,424.4 L281.5,424.0 L282.5,423.7 L283.5,423.4 L284.5,423.1 L285.5,422.8 L286.5,422.6 L287.5,422.4 L288.5,422.3 L289.5,422.2 L290.5,422.1 L291.5,422.0 L292.5,422.0 L293.5,422.0 L294.5,422.0 L295.5,422.1 L296.5,422.1 L297.5,422.3 L298.5,422.4 L299.5,422.6 L300.5,422.8 L301.5,423.0 L302.5,423.2 L303.5,423.5 L304.5,423.8 L305.5,424.2 L306.5,424.5 L307.5,425.0 L308.5,425.4 L309.5,425.9 L310.5,426.4 L311.5,426.9 L312.5,427.4 L313.5,428.0 L314.5,428.6 L315.5,429.3 L316.5,430.0 L317.5,430.8 L318.5,431.6 L319.5,432.4 L320.5,433.3 L321.5,434.1 L322.5,435.0 L323.5,435.8 L324.5,436.7 L325.5,437.5 L326.5,438.4 L327.5,439.3 L328.5,440.1 L329.5,440.9 L330.5,441.7 L331.5,442.5 L332.5,443.3 L333.5,444.0 L334.5,444.8 L335.5,445.4 L336.5,446.1 L337.5,446.7 L338.5,447.3 L339.5,447.9 L340.5,448.5 L341.5,449.0 L342.5,449.5 L343.5,450.0 L344.5,450.4 L345.5,450.9 L346.5,451.4 L347.5,451.9 L348.5,452.4 L349.5,452.8 L350.5,453.3 L351.5,453.8 L352.5,454.3 L353.5,454.7 L354.5,455.2 L355.5,455.7 L356.5,456.1 L357.5,456.6 L358.5,457.0 L359.5,457.5 L360.5,457.9 L361.5,458.4 L362.5,458.8 L363.5,459.3 L364.5,459.8 L365.5,460.2 L366.5,460.7 L367.5,461.1 L368.5,461.6 L369.5,462.1 L370.5,462.5 L371.5,463.0 L372.5,463.5 L373.5,464.0 L374.5,464.4 L375.5,464.9 L376.5,465.4 L377.5,465.9 L378.5,466.4 L379.5,466.9 L380.5,467.4 L381.5,468.0 L382.5,468.5 L383.5,469.0 L384.5,469.6 L385.5,470.1 L386.5,470.7 L387.5,471.3 L388.5,471.8 L389.5,472.4 L390.5,473.0 L391.5,473.6 L392.5,474.1 L393.5,474.7 L394.5,475.3 L395.5,475.9 L396.5,476.6 L397.5,477.2 L398.5,477.8 L399.5,478.4 L400.5,479.0 L401.5,479.7 L402.5,480.3 L403.5,481.0 L404.5,481.6 L405.5,482.3 L406.5,482.9 L407.5,483.6 L408.5,484.2 L409.5,484.9 L410.5,485.6 L411.5,486.2 L412.5,486.9 L413.5,487.6 L414.5,488.3 L415.5,489.0 L416.5,489.6 L417.5,490.3 L418.5,491.0 L419.5,491.7 L420.5,492.4 L421.5,493.1 L422.5,493.8 L423.5,494.5 L424.5,495.2 L425.5,495.9 L426.5,496.6 L427.5,497.3 L428.5,498.1 L429.5,498.8 L430.5,499.5 L431.5,500.2 L432.5,500.9 L433.5,501.6 L434.5,502.3 L435.5,503.1 L436.5,503.8 L437.5,504.5 L438.5,505.2 L439.5,505.9 L440.5,506.7 L441.5,507.4 L442.5,508.1 L443.5,508.8 L444.5,509.5 L445.5,510.3 L446.5,511.0 L447.5,511.7 L448.5,512.4 L449.5,513.1 L450.5,513.8 L451.5,514.5 L452.5,515.3 L453.5,516.0 L454.5,516.7 L455.5,517.4 L456.5,518.1 L457.5,518.8 L458.5,519.5 L459.5,520.2 L460.5,520.9 L461.5,521.6 L462.5,522.3 L463.5,523.0 L464.5,523.7 L465.5,524.3 L466.5,525.0 L467.5,525.7 L468.5,526.4 L469.5,527.1 L470.5,527.7 L471.5,528.4 L472.5,529.1 L473.5,529.7 L474.5,530.4 L475.5,531.0 L476.5,531.7 L477.5,532.3 L478.5,533.0 L479.5,533.6 L480.5,534.3 L481.5,534.9 L482.5,535.5 L483.5,536.2 L484.5,536.8 L485.5,537.4 L486.5,538.1 L487.5,538.7 L488.5,539.3 L489.5,539.9 L490.5,540.5 L491.5,541.1 L492.5,541.7 L493.5,542.3 L494.5,542.9 L495.5,543.5 L496.5,544.1 L497.5,544.7 L498.5,545.3 L499.5,545.9 L500.5,546.5 L501.5,547.1 L502.5,547.6 L503.5,548.2 L504.5,548.8 L505.5,549.4 L506.5,549.9 L507.5,550.5 L508.5,551.1 L509.5,551.6 L510.5,552.2 L511.5,552.7 L512.5,553.3 L513.5,553.8 L514.5,554.4 L515.5,554.9 L516.5,555.5 L517.5,556.0 L518.5,556.6 L519.5,557.1 L520.5,557.6 L521.5,558.1 L522.5,558.7 L523.5,559.2 L524.5,559.7 L525.5,560.2 L526.5,560.8 L527.5,561.3 L528.5,561.8 L529.5,562.3 L530.5,562.8 L531.5,563.3 L532.5,563.8 L533.5,564.3 L534.5,564.8 L535.5,565.3 L536.5,565.8 L537.5,566.3 L538.5,566.8 L539.5,567.2 L540.5,567.7 L541.5,568.2 L542.5,568.7 L543.5,569.1 L544.5,569.6 L545.5,570.1 L546.5,570.6 L547.5,571.0 L548.5,571.5 L549.5,571.9 L550.5,572.4 L551.5,572.9 L552.5,573.3 L553.5,573.8 L554.5,574.2 L555.5,574.6 L556.5,575.1 L557.5,575.5 L558.5,576.0 L559.5,576.4 L560.5,576.8 L561.5,577.3 L562.5,577.7 L563.5,578.1 L564.5,578.6 L565.5,579.0 L566.5,579.4 L567.5,579.8 L568.5,580.2 L569.5,580.6 L570.5,581.1 L571.5,581.5 L572.5,581.9 L573.5,582.3 L574.5,582.7 L575.5,583.1 L576.5,583.5 L577.5,583.9 L578.5,584.3 L579.5,584.7 L580.5,585.1 L581.5,585.4 L582.5,585.8 L583.5,586.2 L584.5,586.6 L585.5,587.0 L586.5,587.4 L587.5,587.7 L588.5,588.1 L589.5,588.5 L590.5,588.8 L591.5,589.2 L592.5,589.6 L593.5,589.9 L594.5,590.3 L595.5,590.7 L596.5,591.0 L597.5,591.4 L598.5,591.7 L599.5,592.1 L600.5,592.4 L601.5,592.8 L602.5,593.1 L603.5,593.5 L604.5,593.8 L605.5,594.2 L606.5,594.5 L607.5,594.8 L608.5,595.2 L609.5,595.5 L610.5,595.8 L611.5,596.1 L612.5,596.5 L613.5,596.8 L614.5,597.1 L615.5,597.4 L616.5,597.8 L617.5,598.1 L618.5,598.4 L619.5,598.7 L620.5,599.0 L621.5,599.3 L622.5,599.6 L623.5,599.9 L624.5,600.2 L625.5,600.6 L626.5,600.9 L627.5,601.2 L628.5,601.4 L629.5,601.7 L630.5,602.0 L631.5,602.3 L632.5,602.6 L633.5,602.9 L634.5,603.2 L635.5,603.5 L636.5,603.8 L637.5,604.0 L638.5,604.3 L639.5,604.6 L640.5,604.9 L641.5,605.2 L642.5,605.4 L643.5,605.7 L644.5,606.0 L645.5,606.2 L646.5,606.5 L647.5,606.8 L648.5,607.0 L649.5,607.3 L650.5,607.6 L651.5,607.8 L652.5,608.1 L653.5,608.3 L654.5,608.6 L655.5,608.8 L656.5,609.1 L657.5,609.3 L658.5,609.6 L659.5,609.8 L660.5,610.1 L661.5,610.3 L662.5,610.6 L663.5,610.8 L664.5,611.0 L665.5,611.3 L666.5,611.5 L667.5,611.8 L668.5,612.0 L669.5,612.2 L670.5,612.4 L671.5,612.7 L672.5,612.9 L673.5,613.1 L674.5,613.4 L675.5,613.6 L676.5,613.8 L677.5,614.0 L678.5,614.2 L679.5,614.5 L680.5,614.7 L681.5,614.9 L682.5,615.1 L683.5,615.3 L684.5,615.5 L685.5,615.7 L686.5,615.9 L687.5,616.1 L688.5,616.3 L689.5,616.5 L690.5,616.7 L691.5,616.9 L692.5,617.1 L693.5,617.3 L694.5,617.5 L695.5,617.7 L696.5,617.9 L697.5,618.1 L698.5,618.3 L699.5,618.5 L700.5,618.7 L701.5,618.9 L702.5,619.1 L703.5,619.2 L704.5,619.4 L705.5,619.6 L706.5,619.8 L707.5,620.0 L708.5,620.1 L709.5,620.3 L710.5,620.5 L711.5,620.7 L712.5,620.8 L713.5,621.0 L714.5,621.2 L715.5,621.4 L716.5,621.5 L717.5,621.7 L718.5,621.9 L719.5,622.0 L720.5,622.2 L721.5,622.4 L722.5,622.5 L723.5,622.7 L724.5,622.8 L725.5,623.0 L726.5,623.1 L727.5,623.3 L728.5,623.5 L729.5,623.6 L730.5,623.8 L731.5,623.9 L732.5,624.1 L733.5,624.2 L734.5,624.4 L735.5,624.5 L736.5,624.7 L737.5,624.8 L738.5,624.9 L739.5,625.1 L740.5,625.2 L741.5,625.4 L742.5,625.5 L743.5,625.6 L744.5,625.8 L745.5,625.9 L746.5,626.1 L747.5,626.2 L748.5,626.3 L749.5,626.5 L750.5,626.6 L751.5,626.7 L752.5,626.8 L753.5,627.0 L754.5,627.1 L755.5,627.2 L756.5,627.3 L757.5,627.5 L758.5,627.6 L759.5,627.7 L760.5,627.8 L761.5,628.0 L762.5,628.1 L763.5,628.2 L764.5,628.3 L765.5,628.4 L766.5,628.5 L767.5,628.7 L768.5,628.8 L769.5,628.9 L770.5,629.0 L771.5,629.1 L772.5,629.2 L773.5,629.3 L774.5,629.4 L775.5,629.6 L776.5,629.7 L777.5,629.8 L778.5,629.9 L779.5,630.0 L780.5,630.1 L781.5,630.2 L782.5,630.3 L783.5,630.4 L784.5,630.5 L785.5,630.6 L786.5,630.7 L787.5,630.8 L788.5,630.9 L789.5,631.0 L790.5,631.1 L791.5,631.2 L792.5,631.3 L793.5,631.4 L794.5,631.5 L795.5,631.6 L796.5,631.6 L797.5,631.7 L798.5,631.8 L799.5,631.9 L800.5,632.0 L801.5,632.1 L802.5,632.2 L803.5,632.3 L804.5,632.4 L805.5,632.4 L806.5,632.5 L807.5,632.6 L808.5,632.7 L809.5,632.8 L810.5,632.9 L811.5,632.9 L812.5,633.0 L813.5,633.1 L814.5,633.2 L815.5,633.3 L816.5,633.3 L817.5,633.4 L818.5,633.5 L819.5,633.6 L820.5,633.7 L821.5,633.7 L822.5,633.8 L823.5,633.9 L824.5,634.0 L825.5,634.0 L826.5,634.1 L827.5,634.2 L828.5,634.2 L829.5,634.3 L830.5,634.4 L831.5,634.5 L832.5,634.5 L833.5,634.6 L834.5,634.7 L835.5,634.7 L836.5,634.8 L837.5,634.9 L838.5,634.9 L839.5,635.0 L840.5,635.1 L841.5,635.1 L842.5,635.2 L843.5,635.3 L844.5,635.3 L845.5,635.4 L846.5,635.5 L847.5,635.5 L848.5,635.6 L849.5,635.7 L850.5,635.7 L851.5,635.8 L852.5,635.8 L853.5,635.9 L854.5,636.0 L855.5,636.0 L856.5,636.1 L857.5,636.1 L858.5,636.2 L859.5,636.3 L860.5,636.3 L861.5,636.4 L862.5,636.4 L863.5,636.5 L864.5,636.5 L865.5,636.6 L866.5,636.7 L867.5,636.7 L868.5,636.8 L869.5,636.8 L870.5,636.9 L871.5,636.9 L872.5,637.0 L873.5,637.1 L874.5,637.1 L875.5,637.2 L876.5,637.2 L877.5,637.3 L878.5,637.3 L879.5,637.4 L880.5,637.4 L881.5,637.5 L882.5,637.5 L883.5,637.6 L884.5,637.6 L885.5,637.7 L886.5,637.7 L887.5,637.8 L888.5,637.9 L889.5,637.9 L890.5,638.0 L891.5,638.0 L892.5,638.1 L893.5,638.1 L894.5,638.2 L895.5,638.2 L896.5,638.3 L897.5,638.3 L898.5,638.4 L899.5,638.4 L900.5,638.5 L901.5,638.5 L902.5,638.6 L903.5,638.6 L904.5,638.7 L905.5,638.7 L906.5,638.8 L907.5,638.8 L908.5,638.9 L909.5,638.9 L910.5,639.0 L911.5,639.0 L912.5,639.1 L913.5,639.1 L914.5,639.2 L915.5,639.2 L916.5,639.3 L917.5,639.3 L918.5,639.4 L919.5,639.4 L920.5,639.5 L921.5,639.5 L922.5,639.6 L923.5,639.6 L924.5,639.7 L925.5,639.7 L926.5,639.8 L927.5,639.8 L928.5,639.9 L929.5,639.9 L930.5,640.0 L931.5,640.0 L932.5,640.1 L933.5,640.1 L934.5,640.2 L935.5,640.2 L936.5,640.3 L937.5,640.3 L938.5,640.4 L939.5,640.4 L940.5,640.5 L941.5,640.5 L942.5,640.6 L943.5,640.6 L944.5,640.7 L945.5,640.7 L946.5,640.8 L947.5,640.9 L948.5,640.9 L949.5,641.0 L950.5,641.0 L951.5,641.1 L952.5,641.1 L953.5,641.2 L954.5,641.2 L955.5,641.3 L956.5,641.3 L957.5,641.4 L958.5,641.5 L959.5,641.5 L960.5,641.6 L961.5,641.6 L962.5,641.7 L963.5,641.7 L964.5,641.8 L965.5,641.9 L966.5,641.9 L967.5,642.0 L968.5,642.0 L969.5,642.1 L970.5,642.2 L971.5,642.2 L972.5,642.3 L973.5,642.3 L974.5,642.4 L975.5,642.5 L976.5,642.5 L977.5,642.6 L978.5,642.6 L979.5,642.7 L980.5,642.8 L981.5,642.8 L982.5,642.9 L983.5,643.0 L984.5,643.0 L985.5,643.1 L986.5,643.2 L987.0,643.2" stroke="#2c5a1c" stroke-width="3.0"/>
<path d="M125.5,604.0 L126.5,603.7 L127.5,603.3 L128.5,602.8 L129.5,602.3 L130.5,601.6 L131.5,600.8 L132.5,600.0 L133.5,599.2 L134.5,598.3 L135.5,597.3 L136.5,596.1 L137.5,594.8 L138.5,593.3 L139.5,591.7 L140.5,590.0 L141.5,588.3 L142.5,586.5 L143.5,584.6 L144.5,582.8 L145.5,580.9 L146.5,578.8 L147.5,576.6 L148.5,574.2 L149.5,571.9 L150.5,569.5 L151.5,567.0 L152.5,564.6 L153.5,562.3 L154.5,559.9 L155.5,557.4 L156.5,555.1 L157.5,552.7 L158.5,550.4 L159.5,548.2 L160.5,546.0 L161.5,544.0 L162.5,542.0 L163.5,540.0 L164.5,538.2 L165.5,536.4 L166.5,534.6 L167.5,532.9 L168.5,531.2 L169.5,529.6 L170.5,528.1 L171.5,526.6 L172.5,525.1 L173.5,523.7 L174.5,522.4 L175.5,521.1 L176.5,519.8 L177.5,518.6 L178.5,517.5 L179.5,516.3 L180.5,515.3 L181.5,514.2 L182.5,513.3 L183.5,512.3 L184.5,511.4 L185.5,510.5 L186.5,509.7 L187.5,508.9 L188.5,508.2 L189.5,507.5 L190.5,506.8 L191.5,506.2 L192.5,505.5 L193.5,505.0 L194.5,504.4 L195.5,503.9 L196.5,503.4 L197.5,503.0 L198.5,502.5 L199.5,502.1 L200.5,501.7 L201.5,501.4 L202.5,501.0 L203.5,500.7 L204.5,500.3 L205.5,500.0 L206.5,499.7 L207.5,499.4 L208.5,499.1 L209.5,498.8 L210.5,498.5 L211.5,498.2 L212.5,497.9 L213.5,497.6 L214.5,497.3 L215.5,497.0 L216.5,496.7 L217.5,496.3 L218.5,496.0 L219.5,495.6 L220.5,495.2 L221.5,494.7 L222.5,494.3 L223.5,493.8 L224.5,493.3 L225.5,492.8 L226.5,492.2 L227.5,491.6 L228.5,491.0 L229.5,490.4 L230.5,489.7 L231.5,489.0 L232.5,488.3 L233.5,487.6 L234.5,486.8 L235.5,486.0 L236.5,485.2 L237.5,484.4 L238.5,483.6 L239.5,482.7 L240.5,481.8 L241.5,480.9 L242.5,480.0 L243.5,479.1 L244.5,478.2 L245.5,477.3 L246.5,476.3 L247.5,475.4 L248.5,474.4 L249.5,473.4 L250.5,472.5 L251.5,471.5 L252.5,470.5 L253.5,469.5 L254.5,468.5 L255.5,467.5 L256.5,466.5 L257.5,465.5 L258.5,464.6 L259.5,463.6 L260.5,462.6 L261.5,461.7 L262.5,460.7 L263.5,459.8 L264.5,458.9 L265.5,458.0 L266.5,457.1 L267.5,456.2 L268.5,455.4 L269.5,454.5 L270.5,453.7 L271.5,452.9 L272.5,452.2 L273.5,451.5 L274.5,450.8 L275.5,450.1 L276.5,449.5 L277.5,448.9 L278.5,448.3 L279.5,447.8 L280.5,447.3 L281.5,446.8 L282.5,446.4 L283.5,446.1 L284.5,445.7 L285.5,445.5 L286.5,445.2 L287.5,445.0 L288.5,444.9 L289.5,444.8 L290.5,444.7 L291.5,444.7 L292.5,444.7 L293.5,444.7 L294.5,444.7 L295.5,444.8 L296.5,444.9 L297.5,445.0 L298.5,445.2 L299.5,445.3 L300.5,445.5 L301.5,445.7 L302.5,445.9 L303.5,446.1 L304.5,446.4 L305.5,446.7 L306.5,447.1 L307.5,447.5 L308.5,447.9 L309.5,448.3 L310.5,448.7 L311.5,449.2 L312.5,449.7 L313.5,450.2 L314.5,450.7 L315.5,451.4 L316.5,452.1 L317.5,452.8 L318.5,453.5 L319.5,454.2 L320.5,455.0 L321.5,455.7 L322.5,456.5 L323.5,457.3 L324.5,458.1 L325.5,458.8 L326.5,459.6 L327.5,460.4 L328.5,461.1 L329.5,461.9 L330.5,462.6 L331.5,463.3 L332.5,464.0 L333.5,464.7 L334.5,465.3 L335.5,466.0 L336.5,466.5 L337.5,467.1 L338.5,467.6 L339.5,468.2 L340.5,468.6 L341.5,469.1 L342.5,469.6 L343.5,470.0 L344.5,470.4 L345.5,470.8 L346.5,471.3 L347.5,471.7 L348.5,472.2 L349.5,472.6 L350.5,473.0 L351.5,473.5 L352.5,473.9 L353.5,474.3 L354.5,474.7 L355.5,475.2 L356.5,475.6 L357.5,476.0 L358.5,476.4 L359.5,476.8 L360.5,477.3 L361.5,477.7 L362.5,478.1 L363.5,478.5 L364.5,478.9 L365.5,479.3 L366.5,479.8 L367.5,480.2 L368.5,480.6 L369.5,481.1 L370.5,481.5 L371.5,481.9 L372.5,482.4 L373.5,482.8 L374.5,483.2 L375.5,483.7 L376.5,484.1 L377.5,484.6 L378.5,485.1 L379.5,485.5 L380.5,486.0 L381.5,486.5 L382.5,487.0 L383.5,487.5 L384.5,487.9 L385.5,488.5 L386.5,489.0 L387.5,489.5 L388.5,490.0 L389.5,490.5 L390.5,491.0 L391.5,491.6 L392.5,492.1 L393.5,492.6 L394.5,493.2 L395.5,493.7 L396.5,494.3 L397.5,494.8 L398.5,495.4 L399.5,496.0 L400.5,496.5 L401.5,497.1 L402.5,497.7 L403.5,498.2 L404.5,498.8 L405.5,499.4 L406.5,500.0 L407.5,500.6 L408.5,501.2 L409.5,501.8 L410.5,502.4 L411.5,503.0 L412.5,503.6 L413.5,504.2 L414.5,504.8 L415.5,505.4 L416.5,506.0 L417.5,506.7 L418.5,507.3 L419.5,507.9 L420.5,508.5 L421.5,509.2 L422.5,509.8 L423.5,510.4 L424.5,511.0 L425.5,511.7 L426.5,512.3 L427.5,512.9 L428.5,513.6 L429.5,514.2 L430.5,514.9 L431.5,515.5 L432.5,516.1 L433.5,516.8 L434.5,517.4 L435.5,518.0 L436.5,518.7 L437.5,519.3 L438.5,520.0 L439.5,520.6 L440.5,521.3 L441.5,521.9 L442.5,522.5 L443.5,523.2 L444.5,523.8 L445.5,524.5 L446.5,525.1 L447.5,525.7 L448.5,526.4 L449.5,527.0 L450.5,527.6 L451.5,528.3 L452.5,528.9 L453.5,529.5 L454.5,530.2 L455.5,530.8 L456.5,531.4 L457.5,532.1 L458.5,532.7 L459.5,533.3 L460.5,533.9 L461.5,534.5 L462.5,535.1 L463.5,535.8 L464.5,536.4 L465.5,537.0 L466.5,537.6 L467.5,538.2 L468.5,538.8 L469.5,539.4 L470.5,540.0 L471.5,540.6 L472.5,541.2 L473.5,541.8 L474.5,542.3 L475.5,542.9 L476.5,543.5 L477.5,544.1 L478.5,544.7 L479.5,545.2 L480.5,545.8 L481.5,546.4 L482.5,546.9 L483.5,547.5 L484.5,548.0 L485.5,548.6 L486.5,549.2 L487.5,549.7 L488.5,550.3 L489.5,550.8 L490.5,551.3 L491.5,551.9 L492.5,552.4 L493.5,553.0 L494.5,553.5 L495.5,554.0 L496.5,554.5 L497.5,555.1 L498.5,555.6 L499.5,556.1 L500.5,556.6 L501.5,557.2 L502.5,557.7 L503.5,558.2 L504.5,558.7 L505.5,559.2 L506.5,559.7 L507.5,560.2 L508.5,560.7 L509.5,561.2 L510.5,561.7 L511.5,562.2 L512.5,562.7 L513.5,563.2 L514.5,563.6 L515.5,564.1 L516.5,564.6 L517.5,565.1 L518.5,565.6 L519.5,566.0 L520.5,566.5 L521.5,567.0 L522.5,567.4 L523.5,567.9 L524.5,568.4 L525.5,568.8 L526.5,569.3 L527.5,569.7 L528.5,570.2 L529.5,570.6 L530.5,571.1 L531.5,571.5 L532.5,572.0 L533.5,572.4 L534.5,572.9 L535.5,573.3 L536.5,573.7 L537.5,574.2 L538.5,574.6 L539.5,575.0 L540.5,575.4 L541.5,575.9 L542.5,576.3 L543.5,576.7 L544.5,577.1 L545.5,577.5 L546.5,578.0 L547.5,578.4 L548.5,578.8 L549.5,579.2 L550.5,579.6 L551.5,580.0 L552.5,580.4 L553.5,580.8 L554.5,581.2 L555.5,581.6 L556.5,582.0 L557.5,582.4 L558.5,582.8 L559.5,583.2 L560.5,583.5 L561.5,583.9 L562.5,584.3 L563.5,584.7 L564.5,585.1 L565.5,585.4 L566.5,585.8 L567.5,586.2 L568.5,586.5 L569.5,586.9 L570.5,587.3 L571.5,587.6 L572.5,588.0 L573.5,588.4 L574.5,588.7 L575.5,589.1 L576.5,589.4 L577.5,589.8 L578.5,590.1 L579.5,590.5 L580.5,590.8 L581.5,591.2 L582.5,591.5 L583.5,591.9 L584.5,592.2 L585.5,592.5 L586.5,592.9 L587.5,593.2 L588.5,593.5 L589.5,593.9 L590.5,594.2 L591.5,594.5 L592.5,594.8 L593.5,595.2 L594.5,595.5 L595.5,595.8 L596.5,596.1 L597.5,596.4 L598.5,596.8 L599.5,597.1 L600.5,597.4 L601.5,597.7 L602.5,598.0 L603.5,598.3 L604.5,598.6 L605.5,598.9 L606.5,599.2 L607.5,599.5 L608.5,599.8 L609.5,600.1 L610.5,600.4 L611.5,600.7 L612.5,601.0 L613.5,601.3 L614.5,601.6 L615.5,601.8 L616.5,602.1 L617.5,602.4 L618.5,602.7 L619.5,603.0 L620.5,603.3 L621.5,603.5 L622.5,603.8 L623.5,604.1 L624.5,604.4 L625.5,604.6 L626.5,604.9 L627.5,605.2 L628.5,605.4 L629.5,605.7 L630.5,606.0 L631.5,606.2 L632.5,606.5 L633.5,606.7 L634.5,607.0 L635.5,607.2 L636.5,607.5 L637.5,607.8 L638.5,608.0 L639.5,608.3 L640.5,608.5 L641.5,608.8 L642.5,609.0 L643.5,609.2 L644.5,609.5 L645.5,609.7 L646.5,610.0 L647.5,610.2 L648.5,610.4 L649.5,610.7 L650.5,610.9 L651.5,611.2 L652.5,611.4 L653.5,611.6 L654.5,611.8 L655.5,612.1 L656.5,612.3 L657.5,612.5 L658.5,612.8 L659.5,613.0 L660.5,613.2 L661.5,613.4 L662.5,613.6 L663.5,613.9 L664.5,614.1 L665.5,614.3 L666.5,614.5 L667.5,614.7 L668.5,614.9 L669.5,615.1 L670.5,615.3 L671.5,615.6 L672.5,615.8 L673.5,616.0 L674.5,616.2 L675.5,616.4 L676.5,616.6 L677.5,616.8 L678.5,617.0 L679.5,617.2 L680.5,617.4 L681.5,617.6 L682.5,617.8 L683.5,618.0 L684.5,618.1 L685.5,618.3 L686.5,618.5 L687.5,618.7 L688.5,618.9 L689.5,619.1 L690.5,619.3 L691.5,619.5 L692.5,619.6 L693.5,619.8 L694.5,620.0 L695.5,620.2 L696.5,620.4 L697.5,620.5 L698.5,620.7 L699.5,620.9 L700.5,621.1 L701.5,621.2 L702.5,621.4 L703.5,621.6 L704.5,621.7 L705.5,621.9 L706.5,622.1 L707.5,622.2 L708.5,622.4 L709.5,622.6 L710.5,622.7 L711.5,622.9 L712.5,623.1 L713.5,623.2 L714.5,623.4 L715.5,623.5 L716.5,623.7 L717.5,623.8 L718.5,624.0 L719.5,624.1 L720.5,624.3 L721.5,624.4 L722.5,624.6 L723.5,624.7 L724.5,624.9 L725.5,625.0 L726.5,625.2 L727.5,625.3 L728.5,625.5 L729.5,625.6 L730.5,625.8 L731.5,625.9 L732.5,626.0 L733.5,626.2 L734.5,626.3 L735.5,626.5 L736.5,626.6 L737.5,626.7 L738.5,626.9 L739.5,627.0 L740.5,627.1 L741.5,627.3 L742.5,627.4 L743.5,627.5 L744.5,627.6 L745.5,627.8 L746.5,627.9 L747.5,628.0 L748.5,628.2 L749.5,628.3 L750.5,628.4 L751.5,628.5 L752.5,628.6 L753.5,628.8 L754.5,628.9 L755.5,629.0 L756.5,629.1 L757.5,629.2 L758.5,629.4 L759.5,629.5 L760.5,629.6 L761.5,629.7 L762.5,629.8 L763.5,629.9 L764.5,630.0 L765.5,630.1 L766.5,630.3 L767.5,630.4 L768.5,630.5 L769.5,630.6 L770.5,630.7 L771.5,630.8 L772.5,630.9 L773.5,631.0 L774.5,631.1 L775.5,631.2 L776.5,631.3 L777.5,631.4 L778.5,631.5 L779.5,631.6 L780.5,631.7 L781.5,631.8 L782.5,631.9 L783.5,632.0 L784.5,632.1 L785.5,632.2 L786.5,632.3 L787.5,632.4 L788.5,632.5 L789.5,632.6 L790.5,632.7 L791.5,632.7 L792.5,632.8 L793.5,632.9 L794.5,633.0 L795.5,633.1 L796.5,633.2 L797.5,633.3 L798.5,633.4 L799.5,633.4 L800.5,633.5 L801.5,633.6 L802.5,633.7 L803.5,633.8 L804.5,633.9 L805.5,633.9 L806.5,634.0 L807.5,634.1 L808.5,634.2 L809.5,634.3 L810.5,634.3 L811.5,634.4 L812.5,634.5 L813.5,634.6 L814.5,634.6 L815.5,634.7 L816.5,634.8 L817.5,634.9 L818.5,634.9 L819.5,635.0 L820.5,635.1 L821.5,635.2 L822.5,635.2 L823.5,635.3 L824.5,635.4 L825.5,635.4 L826.5,635.5 L827.5,635.6 L828.5,635.7 L829.5,635.7 L830.5,635.8 L831.5,635.9 L832.5,635.9 L833.5,636.0 L834.5,636.0 L835.5,636.1 L836.5,636.2 L837.5,636.2 L838.5,636.3 L839.5,636.4 L840.5,636.4 L841.5,636.5 L842.5,636.6 L843.5,636.6 L844.5,636.7 L845.5,636.7 L846.5,636.8 L847.5,636.9 L848.5,636.9 L849.5,637.0 L850.5,637.0 L851.5,637.1 L852.5,637.1 L853.5,637.2 L854.5,637.3 L855.5,637.3 L856.5,637.4 L857.5,637.4 L858.5,637.5 L859.5,637.5 L860.5,637.6 L861.5,637.6 L862.5,637.7 L863.5,637.7 L864.5,637.8 L865.5,637.8 L866.5,637.9 L867.5,637.9 L868.5,638.0 L869.5,638.0 L870.5,638.1 L871.5,638.1 L872.5,638.2 L873.5,638.2 L874.5,638.3 L875.5,638.3 L876.5,638.4 L877.5,638.4 L878.5,638.5 L879.5,638.5 L880.5,638.6 L881.5,638.6 L882.5,638.7 L883.5,638.7 L884.5,638.8 L885.5,638.8 L886.5,638.9 L887.5,638.9 L888.5,638.9 L889.5,639.0 L890.5,639.0 L891.5,639.1 L892.5,639.1 L893.5,639.2 L894.5,639.2 L895.5,639.3 L896.5,639.3 L897.5,639.3 L898.5,639.4 L899.5,639.4 L900.5,639.5 L901.5,639.5 L902.5,639.6 L903.5,639.6 L904.5,639.6 L905.5,639.7 L906.5,639.7 L907.5,639.8 L908.5,639.8 L909.5,639.8 L910.5,639.9 L911.5,639.9 L912.5,640.0 L913.5,640.0 L914.5,640.0 L915.5,640.1 L916.5,640.1 L917.5,640.2 L918.5,640.2 L919.5,640.2 L920.5,640.3 L921.5,640.3 L922.5,640.4 L923.5,640.4 L924.5,640.4 L925.5,640.5 L926.5,640.5 L927.5,640.6 L928.5,640.6 L929.5,640.6 L930.5,640.7 L931.5,640.7 L932.5,640.7 L933.5,640.8 L934.5,640.8 L935.5,640.9 L936.5,640.9 L937.5,640.9 L938.5,641.0 L939.5,641.0 L940.5,641.1 L941.5,641.1 L942.5,641.1 L943.5,641.2 L944.5,641.2 L945.5,641.2 L946.5,641.3 L947.5,641.3 L948.5,641.4 L949.5,641.4 L950.5,641.4 L951.5,641.5 L952.5,641.5 L953.5,641.6 L954.5,641.6 L955.5,641.6 L956.5,641.7 L957.5,641.7 L958.5,641.8 L959.5,641.8 L960.5,641.8 L961.5,641.9 L962.5,641.9 L963.5,641.9 L964.5,642.0 L965.5,642.0 L966.5,642.1 L967.5,642.1 L968.5,642.1 L969.5,642.2 L970.5,642.2 L971.5,642.3 L972.5,642.3 L973.5,642.4 L974.5,642.4 L975.5,642.4 L976.5,642.5 L977.5,642.5 L978.5,642.6 L979.5,642.6 L980.5,642.6 L981.5,642.7 L982.5,642.7 L983.5,642.8 L984.5,642.8 L985.5,642.9 L986.5,642.9 L987.0,642.9" stroke="#c9584a" stroke-width="2.6"/>
<path d="M125.5,606.7 L126.5,606.5 L127.5,606.2 L128.5,605.7 L129.5,605.2 L130.5,604.6 L131.5,604.0 L132.5,603.3 L133.5,602.5 L134.5,601.7 L135.5,600.8 L136.5,599.8 L137.5,598.5 L138.5,597.2 L139.5,595.7 L140.5,594.2 L141.5,592.6 L142.5,590.9 L143.5,589.3 L144.5,587.6 L145.5,585.9 L146.5,584.0 L147.5,582.1 L148.5,580.0 L149.5,577.9 L150.5,575.8 L151.5,573.7 L152.5,571.5 L153.5,569.4 L154.5,567.2 L155.5,565.0 L156.5,562.7 L157.5,560.5 L158.5,558.4 L159.5,556.3 L160.5,554.3 L161.5,552.3 L162.5,550.4 L163.5,548.5 L164.5,546.7 L165.5,544.9 L166.5,543.2 L167.5,541.5 L168.5,539.9 L169.5,538.4 L170.5,536.9 L171.5,535.4 L172.5,534.1 L173.5,532.8 L174.5,531.6 L175.5,530.4 L176.5,529.3 L177.5,528.3 L178.5,527.4 L179.5,526.5 L180.5,525.8 L181.5,525.1 L182.5,524.4 L183.5,523.9 L184.5,523.3 L185.5,522.9 L186.5,522.4 L187.5,522.0 L188.5,521.7 L189.5,521.4 L190.5,521.1 L191.5,520.8 L192.5,520.5 L193.5,520.2 L194.5,519.9 L195.5,519.7 L196.5,519.4 L197.5,519.1 L198.5,518.9 L199.5,518.6 L200.5,518.3 L201.5,518.0 L202.5,517.7 L203.5,517.4 L204.5,517.1 L205.5,516.8 L206.5,516.5 L207.5,516.2 L208.5,515.9 L209.5,515.6 L210.5,515.2 L211.5,514.9 L212.5,514.5 L213.5,514.2 L214.5,513.8 L215.5,513.5 L216.5,513.1 L217.5,512.7 L218.5,512.3 L219.5,511.9 L220.5,511.5 L221.5,511.1 L222.5,510.6 L223.5,510.2 L224.5,509.7 L225.5,509.3 L226.5,508.8 L227.5,508.3 L228.5,507.8 L229.5,507.3 L230.5,506.7 L231.5,506.2 L232.5,505.7 L233.5,505.1 L234.5,504.5 L235.5,503.9 L236.5,503.3 L237.5,502.7 L238.5,502.0 L239.5,501.4 L240.5,500.7 L241.5,500.0 L242.5,499.3 L243.5,498.6 L244.5,497.8 L245.5,497.1 L246.5,496.3 L247.5,495.5 L248.5,494.7 L249.5,493.8 L250.5,493.0 L251.5,492.1 L252.5,491.2 L253.5,490.3 L254.5,489.3 L255.5,488.4 L256.5,487.4 L257.5,486.5 L258.5,485.5 L259.5,484.5 L260.5,483.5 L261.5,482.5 L262.5,481.6 L263.5,480.6 L264.5,479.6 L265.5,478.7 L266.5,477.7 L267.5,476.8 L268.5,475.8 L269.5,474.9 L270.5,474.1 L271.5,473.2 L272.5,472.4 L273.5,471.6 L274.5,470.8 L275.5,470.1 L276.5,469.4 L277.5,468.7 L278.5,468.1 L279.5,467.5 L280.5,467.0 L281.5,466.5 L282.5,466.1 L283.5,465.7 L284.5,465.4 L285.5,465.1 L286.5,464.9 L287.5,464.7 L288.5,464.6 L289.5,464.5 L290.5,464.5 L291.5,464.5 L292.5,464.5 L293.5,464.6 L294.5,464.6 L295.5,464.7 L296.5,464.8 L297.5,464.9 L298.5,465.1 L299.5,465.2 L300.5,465.3 L301.5,465.5 L302.5,465.7 L303.5,465.9 L304.5,466.2 L305.5,466.4 L306.5,466.8 L307.5,467.1 L308.5,467.5 L309.5,467.8 L310.5,468.2 L311.5,468.6 L312.5,469.1 L313.5,469.6 L314.5,470.1 L315.5,470.7 L316.5,471.3 L317.5,472.0 L318.5,472.7 L319.5,473.4 L320.5,474.1 L321.5,474.8 L322.5,475.6 L323.5,476.4 L324.5,477.1 L325.5,477.9 L326.5,478.7 L327.5,479.4 L328.5,480.2 L329.5,481.0 L330.5,481.7 L331.5,482.4 L332.5,483.1 L333.5,483.8 L334.5,484.4 L335.5,485.1 L336.5,485.7 L337.5,486.3 L338.5,486.8 L339.5,487.3 L340.5,487.8 L341.5,488.3 L342.5,488.8 L343.5,489.2 L344.5,489.6 L345.5,490.0 L346.5,490.5 L347.5,490.9 L348.5,491.3 L349.5,491.7 L350.5,492.1 L351.5,492.5 L352.5,492.9 L353.5,493.3 L354.5,493.7 L355.5,494.1 L356.5,494.5 L357.5,494.9 L358.5,495.2 L359.5,495.6 L360.5,496.0 L361.5,496.4 L362.5,496.7 L363.5,497.1 L364.5,497.5 L365.5,497.8 L366.5,498.2 L367.5,498.6 L368.5,499.0 L369.5,499.3 L370.5,499.7 L371.5,500.1 L372.5,500.4 L373.5,500.8 L374.5,501.2 L375.5,501.6 L376.5,502.0 L377.5,502.4 L378.5,502.7 L379.5,503.1 L380.5,503.5 L381.5,504.0 L382.5,504.4 L383.5,504.8 L384.5,505.2 L385.5,505.6 L386.5,506.0 L387.5,506.5 L388.5,506.9 L389.5,507.4 L390.5,507.8 L391.5,508.2 L392.5,508.7 L393.5,509.1 L394.5,509.6 L395.5,510.1 L396.5,510.5 L397.5,511.0 L398.5,511.5 L399.5,512.0 L400.5,512.4 L401.5,512.9 L402.5,513.4 L403.5,513.9 L404.5,514.4 L405.5,514.9 L406.5,515.4 L407.5,515.9 L408.5,516.4 L409.5,516.9 L410.5,517.4 L411.5,517.9 L412.5,518.4 L413.5,518.9 L414.5,519.4 L415.5,519.9 L416.5,520.5 L417.5,521.0 L418.5,521.5 L419.5,522.0 L420.5,522.6 L421.5,523.1 L422.5,523.6 L423.5,524.1 L424.5,524.7 L425.5,525.2 L426.5,525.7 L427.5,526.3 L428.5,526.8 L429.5,527.4 L430.5,527.9 L431.5,528.4 L432.5,529.0 L433.5,529.5 L434.5,530.1 L435.5,530.6 L436.5,531.1 L437.5,531.7 L438.5,532.2 L439.5,532.8 L440.5,533.3 L441.5,533.9 L442.5,534.4 L443.5,535.0 L444.5,535.5 L445.5,536.0 L446.5,536.6 L447.5,537.1 L448.5,537.7 L449.5,538.2 L450.5,538.8 L451.5,539.3 L452.5,539.8 L453.5,540.4 L454.5,540.9 L455.5,541.5 L456.5,542.0 L457.5,542.5 L458.5,543.1 L459.5,543.6 L460.5,544.1 L461.5,544.7 L462.5,545.2 L463.5,545.7 L464.5,546.3 L465.5,546.8 L466.5,547.3 L467.5,547.8 L468.5,548.3 L469.5,548.9 L470.5,549.4 L471.5,549.9 L472.5,550.4 L473.5,550.9 L474.5,551.4 L475.5,551.9 L476.5,552.4 L477.5,552.9 L478.5,553.4 L479.5,554.0 L480.5,554.4 L481.5,554.9 L482.5,555.4 L483.5,555.9 L484.5,556.4 L485.5,556.9 L486.5,557.4 L487.5,557.9 L488.5,558.4 L489.5,558.9 L490.5,559.3 L491.5,559.8 L492.5,560.3 L493.5,560.8 L494.5,561.2 L495.5,561.7 L496.5,562.2 L497.5,562.7 L498.5,563.1 L499.5,563.6 L500.5,564.0 L501.5,564.5 L502.5,565.0 L503.5,565.4 L504.5,565.9 L505.5,566.3 L506.5,566.8 L507.5,567.2 L508.5,567.7 L509.5,568.1 L510.5,568.6 L511.5,569.0 L512.5,569.5 L513.5,569.9 L514.5,570.3 L515.5,570.8 L516.5,571.2 L517.5,571.6 L518.5,572.1 L519.5,572.5 L520.5,572.9 L521.5,573.4 L522.5,573.8 L523.5,574.2 L524.5,574.6 L525.5,575.1 L526.5,575.5 L527.5,575.9 L528.5,576.3 L529.5,576.7 L530.5,577.1 L531.5,577.5 L532.5,577.9 L533.5,578.4 L534.5,578.8 L535.5,579.2 L536.5,579.6 L537.5,580.0 L538.5,580.4 L539.5,580.8 L540.5,581.1 L541.5,581.5 L542.5,581.9 L543.5,582.3 L544.5,582.7 L545.5,583.1 L546.5,583.5 L547.5,583.9 L548.5,584.2 L549.5,584.6 L550.5,585.0 L551.5,585.4 L552.5,585.7 L553.5,586.1 L554.5,586.5 L555.5,586.9 L556.5,587.2 L557.5,587.6 L558.5,588.0 L559.5,588.3 L560.5,588.7 L561.5,589.0 L562.5,589.4 L563.5,589.8 L564.5,590.1 L565.5,590.5 L566.5,590.8 L567.5,591.2 L568.5,591.5 L569.5,591.9 L570.5,592.2 L571.5,592.6 L572.5,592.9 L573.5,593.2 L574.5,593.6 L575.5,593.9 L576.5,594.2 L577.5,594.6 L578.5,594.9 L579.5,595.2 L580.5,595.6 L581.5,595.9 L582.5,596.2 L583.5,596.6 L584.5,596.9 L585.5,597.2 L586.5,597.5 L587.5,597.8 L588.5,598.2 L589.5,598.5 L590.5,598.8 L591.5,599.1 L592.5,599.4 L593.5,599.7 L594.5,600.0 L595.5,600.3 L596.5,600.6 L597.5,600.9 L598.5,601.2 L599.5,601.5 L600.5,601.8 L601.5,602.1 L602.5,602.4 L603.5,602.7 L604.5,603.0 L605.5,603.3 L606.5,603.6 L607.5,603.9 L608.5,604.2 L609.5,604.4 L610.5,604.7 L611.5,605.0 L612.5,605.3 L613.5,605.6 L614.5,605.8 L615.5,606.1 L616.5,606.4 L617.5,606.7 L618.5,606.9 L619.5,607.2 L620.5,607.5 L621.5,607.7 L622.5,608.0 L623.5,608.3 L624.5,608.5 L625.5,608.8 L626.5,609.0 L627.5,609.3 L628.5,609.5 L629.5,609.8 L630.5,610.1 L631.5,610.3 L632.5,610.6 L633.5,610.8 L634.5,611.1 L635.5,611.3 L636.5,611.5 L637.5,611.8 L638.5,612.0 L639.5,612.3 L640.5,612.5 L641.5,612.7 L642.5,613.0 L643.5,613.2 L644.5,613.4 L645.5,613.7 L646.5,613.9 L647.5,614.1 L648.5,614.4 L649.5,614.6 L650.5,614.8 L651.5,615.0 L652.5,615.2 L653.5,615.5 L654.5,615.7 L655.5,615.9 L656.5,616.1 L657.5,616.3 L658.5,616.5 L659.5,616.7 L660.5,617.0 L661.5,617.2 L662.5,617.4 L663.5,617.6 L664.5,617.8 L665.5,618.0 L666.5,618.2 L667.5,618.4 L668.5,618.6 L669.5,618.8 L670.5,619.0 L671.5,619.2 L672.5,619.4 L673.5,619.6 L674.5,619.8 L675.5,619.9 L676.5,620.1 L677.5,620.3 L678.5,620.5 L679.5,620.7 L680.5,620.9 L681.5,621.1 L682.5,621.2 L683.5,621.4 L684.5,621.6 L685.5,621.8 L686.5,621.9 L687.5,622.1 L688.5,622.3 L689.5,622.5 L690.5,622.6 L691.5,622.8 L692.5,623.0 L693.5,623.1 L694.5,623.3 L695.5,623.5 L696.5,623.6 L697.5,623.8 L698.5,624.0 L699.5,624.1 L700.5,624.3 L701.5,624.4 L702.5,624.6 L703.5,624.8 L704.5,624.9 L705.5,625.1 L706.5,625.2 L707.5,625.4 L708.5,625.5 L709.5,625.7 L710.5,625.8 L711.5,626.0 L712.5,626.1 L713.5,626.3 L714.5,626.4 L715.5,626.6 L716.5,626.7 L717.5,626.8 L718.5,627.0 L719.5,627.1 L720.5,627.2 L721.5,627.4 L722.5,627.5 L723.5,627.7 L724.5,627.8 L725.5,627.9 L726.5,628.1 L727.5,628.2 L728.5,628.3 L729.5,628.4 L730.5,628.6 L731.5,628.7 L732.5,628.8 L733.5,628.9 L734.5,629.1 L735.5,629.2 L736.5,629.3 L737.5,629.4 L738.5,629.6 L739.5,629.7 L740.5,629.8 L741.5,629.9 L742.5,630.0 L743.5,630.1 L744.5,630.3 L745.5,630.4 L746.5,630.5 L747.5,630.6 L748.5,630.7 L749.5,630.8 L750.5,630.9 L751.5,631.0 L752.5,631.1 L753.5,631.2 L754.5,631.3 L755.5,631.5 L756.5,631.6 L757.5,631.7 L758.5,631.8 L759.5,631.9 L760.5,632.0 L761.5,632.1 L762.5,632.2 L763.5,632.3 L764.5,632.4 L765.5,632.4 L766.5,632.5 L767.5,632.6 L768.5,632.7 L769.5,632.8 L770.5,632.9 L771.5,633.0 L772.5,633.1 L773.5,633.2 L774.5,633.3 L775.5,633.4 L776.5,633.5 L777.5,633.5 L778.5,633.6 L779.5,633.7 L780.5,633.8 L781.5,633.9 L782.5,634.0 L783.5,634.0 L784.5,634.1 L785.5,634.2 L786.5,634.3 L787.5,634.4 L788.5,634.4 L789.5,634.5 L790.5,634.6 L791.5,634.7 L792.5,634.8 L793.5,634.8 L794.5,634.9 L795.5,635.0 L796.5,635.1 L797.5,635.1 L798.5,635.2 L799.5,635.3 L800.5,635.3 L801.5,635.4 L802.5,635.5 L803.5,635.5 L804.5,635.6 L805.5,635.7 L806.5,635.8 L807.5,635.8 L808.5,635.9 L809.5,635.9 L810.5,636.0 L811.5,636.1 L812.5,636.1 L813.5,636.2 L814.5,636.3 L815.5,636.3 L816.5,636.4 L817.5,636.5 L818.5,636.5 L819.5,636.6 L820.5,636.6 L821.5,636.7 L822.5,636.8 L823.5,636.8 L824.5,636.9 L825.5,636.9 L826.5,637.0 L827.5,637.0 L828.5,637.1 L829.5,637.1 L830.5,637.2 L831.5,637.3 L832.5,637.3 L833.5,637.4 L834.5,637.4 L835.5,637.5 L836.5,637.5 L837.5,637.6 L838.5,637.6 L839.5,637.7 L840.5,637.7 L841.5,637.8 L842.5,637.8 L843.5,637.9 L844.5,637.9 L845.5,638.0 L846.5,638.0 L847.5,638.1 L848.5,638.1 L849.5,638.2 L850.5,638.2 L851.5,638.2 L852.5,638.3 L853.5,638.3 L854.5,638.4 L855.5,638.4 L856.5,638.5 L857.5,638.5 L858.5,638.6 L859.5,638.6 L860.5,638.6 L861.5,638.7 L862.5,638.7 L863.5,638.8 L864.5,638.8 L865.5,638.8 L866.5,638.9 L867.5,638.9 L868.5,639.0 L869.5,639.0 L870.5,639.0 L871.5,639.1 L872.5,639.1 L873.5,639.2 L874.5,639.2 L875.5,639.2 L876.5,639.3 L877.5,639.3 L878.5,639.4 L879.5,639.4 L880.5,639.4 L881.5,639.5 L882.5,639.5 L883.5,639.5 L884.5,639.6 L885.5,639.6 L886.5,639.7 L887.5,639.7 L888.5,639.7 L889.5,639.8 L890.5,639.8 L891.5,639.8 L892.5,639.9 L893.5,639.9 L894.5,639.9 L895.5,640.0 L896.5,640.0 L897.5,640.0 L898.5,640.1 L899.5,640.1 L900.5,640.1 L901.5,640.2 L902.5,640.2 L903.5,640.2 L904.5,640.3 L905.5,640.3 L906.5,640.3 L907.5,640.4 L908.5,640.4 L909.5,640.4 L910.5,640.5 L911.5,640.5 L912.5,640.5 L913.5,640.6 L914.5,640.6 L915.5,640.6 L916.5,640.7 L917.5,640.7 L918.5,640.7 L919.5,640.8 L920.5,640.8 L921.5,640.8 L922.5,640.9 L923.5,640.9 L924.5,640.9 L925.5,641.0 L926.5,641.0 L927.5,641.0 L928.5,641.1 L929.5,641.1 L930.5,641.1 L931.5,641.2 L932.5,641.2 L933.5,641.2 L934.5,641.3 L935.5,641.3 L936.5,641.3 L937.5,641.4 L938.5,641.4 L939.5,641.4 L940.5,641.5 L941.5,641.5 L942.5,641.5 L943.5,641.6 L944.5,641.6 L945.5,641.7 L946.5,641.7 L947.5,641.7 L948.5,641.8 L949.5,641.8 L950.5,641.8 L951.5,641.9 L952.5,641.9 L953.5,641.9 L954.5,642.0 L955.5,642.0 L956.5,642.0 L957.5,642.1 L958.5,642.1 L959.5,642.2 L960.5,642.2 L961.5,642.2 L962.5,642.3 L963.5,642.3 L964.5,642.3 L965.5,642.4 L966.5,642.4 L967.5,642.5 L968.5,642.5 L969.5,642.5 L970.5,642.6 L971.5,642.6 L972.5,642.7 L973.5,642.7 L974.5,642.7 L975.5,642.8 L976.5,642.8 L977.5,642.9 L978.5,642.9 L979.5,642.9 L980.5,643.0 L981.5,643.0 L982.5,643.1 L983.5,643.1 L984.5,643.2 L985.5,643.2 L986.5,643.2 L987.0,643.3" stroke="#3c0a0a" stroke-width="3.0"/>
</g>
<rect x="125.5" y="23.0" width="861.5" height="634.3" fill="none" stroke="#111" stroke-width="3"/>
<path d="M125.50,657.3 V670.80 M197.29,657.3 V664.30 M269.08,657.3 V670.80 M340.88,657.3 V664.30 M412.67,657.3 V670.80 M484.46,657.3 V664.30 M556.25,657.3 V670.80 M628.04,657.3 V664.30 M699.83,657.3 V670.80 M771.62,657.3 V664.30 M843.42,657.3 V670.80 M915.21,657.3 V664.30 M987.00,657.3 V670.80" stroke="#111" stroke-width="3" fill="none"/>
<text x="96.61" y="706.50" font-size="34.50" fill="#1a1a1a">350</text>
<text x="240.46" y="706.50" font-size="34.50" fill="#1a1a1a">375</text>
<text x="384.05" y="706.50" font-size="34.50" fill="#1a1a1a">400</text>
<text x="527.90" y="706.50" font-size="34.50" fill="#1a1a1a">425</text>
<text x="671.21" y="706.50" font-size="34.50" fill="#1a1a1a">450</text>
<text x="815.07" y="706.50" font-size="34.50" fill="#1a1a1a">475</text>
<text x="958.11" y="706.50" font-size="34.50" fill="#1a1a1a">500</text>
<text x="421.50" y="761.00" font-size="35.00" fill="#1a1a1a">Wavelength (nm)</text>
<text transform="translate(70.50,525.00) rotate(-90)" x="-3.12" y="0" font-size="40.00" fill="#1a1a1a">Fluorescence Intensity</text>
<text x="429.21" y="199.00" font-size="34.50" fill="#111" textLength="156.61" lengthAdjust="spacingAndGlyphs">Domain V</text>
<text x="457.77" y="234.60" font-size="34.50" fill="#111" textLength="87.05" lengthAdjust="spacingAndGlyphs">rRNA</text>
<path d="M493.5,263.8 V546" stroke="#111" stroke-width="2.6"/>
<path d="M487.6,541.5 L499.4,541.5 L493.5,560.5 Z" fill="#111"/>
<rect x="613.8" y="183.3" width="350.0" height="252.7" fill="#fff" stroke="none"/>
<clipPath id="clipI"><rect x="613.8" y="183.3" width="350.0" height="252.7"/></clipPath>
<g clip-path="url(#clipI)" fill="none" stroke-linejoin="round">
<path d="M613.8,390.3 L614.8,390.7 L615.8,390.8 L616.8,390.6 L617.8,390.2 L618.8,389.5 L619.8,388.6 L620.8,387.4 L621.8,386.1 L622.8,384.5 L623.8,382.8 L624.8,380.9 L625.8,378.9 L626.8,376.7 L627.8,374.3 L628.8,371.9 L629.8,369.3 L630.8,366.7 L631.8,364.0 L632.8,361.2 L633.8,358.3 L634.8,355.4 L635.8,352.5 L636.8,349.5 L637.8,346.5 L638.8,343.5 L639.8,340.5 L640.8,337.5 L641.8,334.4 L642.8,331.4 L643.8,328.4 L644.8,325.5 L645.8,322.5 L646.8,319.7 L647.8,316.8 L648.8,314.0 L649.8,311.3 L650.8,308.7 L651.8,306.1 L652.8,303.7 L653.8,301.3 L654.8,299.0 L655.8,296.8 L656.8,294.8 L657.8,292.8 L658.8,290.8 L659.8,289.0 L660.8,287.2 L661.8,285.4 L662.8,283.7 L663.8,282.0 L664.8,280.4 L665.8,278.7 L666.8,277.1 L667.8,275.5 L668.8,273.9 L669.8,272.3 L670.8,270.6 L671.8,268.9 L672.8,267.2 L673.8,265.5 L674.8,263.7 L675.8,261.9 L676.8,260.0 L677.8,258.2 L678.8,256.4 L679.8,254.6 L680.8,252.9 L681.8,251.2 L682.8,249.5 L683.8,248.0 L684.8,246.5 L685.8,245.1 L686.8,243.8 L687.8,242.6 L688.8,241.5 L689.8,240.5 L690.8,239.6 L691.8,238.8 L692.8,238.0 L693.8,237.4 L694.8,236.8 L695.8,236.2 L696.8,235.8 L697.8,235.4 L698.8,235.1 L699.8,234.8 L700.8,234.6 L701.8,234.4 L702.8,234.3 L703.8,234.2 L704.8,234.2 L705.8,234.3 L706.8,234.3 L707.8,234.5 L708.8,234.6 L709.8,234.8 L710.8,235.0 L711.8,235.3 L712.8,235.6 L713.8,235.9 L714.8,236.3 L715.8,236.7 L716.8,237.1 L717.8,237.5 L718.8,238.0 L719.8,238.5 L720.8,239.0 L721.8,239.5 L722.8,240.1 L723.8,240.7 L724.8,241.3 L725.8,241.9 L726.8,242.6 L727.8,243.3 L728.8,244.0 L729.8,244.8 L730.8,245.5 L731.8,246.3 L732.8,247.1 L733.8,248.0 L734.8,248.8 L735.8,249.7 L736.8,250.6 L737.8,251.5 L738.8,252.5 L739.8,253.5 L740.8,254.4 L741.8,255.5 L742.8,256.5 L743.8,257.5 L744.8,258.6 L745.8,259.7 L746.8,260.8 L747.8,261.9 L748.8,263.0 L749.8,264.2 L750.8,265.4 L751.8,266.6 L752.8,267.8 L753.8,269.0 L754.8,270.2 L755.8,271.5 L756.8,272.8 L757.8,274.0 L758.8,275.3 L759.8,276.6 L760.8,278.0 L761.8,279.3 L762.8,280.6 L763.8,282.0 L764.8,283.4 L765.8,284.7 L766.8,286.1 L767.8,287.5 L768.8,288.9 L769.8,290.3 L770.8,291.7 L771.8,293.2 L772.8,294.6 L773.8,296.0 L774.8,297.5 L775.8,298.9 L776.8,300.4 L777.8,301.8 L778.8,303.3 L779.8,304.7 L780.8,306.2 L781.8,307.6 L782.8,309.0 L783.8,310.4 L784.8,311.8 L785.8,313.2 L786.8,314.6 L787.8,316.0 L788.8,317.4 L789.8,318.8 L790.8,320.2 L791.8,321.6 L792.8,323.0 L793.8,324.4 L794.8,325.7 L795.8,327.1 L796.8,328.5 L797.8,329.8 L798.8,331.1 L799.8,332.5 L800.8,333.8 L801.8,335.1 L802.8,336.4 L803.8,337.7 L804.8,339.0 L805.8,340.2 L806.8,341.5 L807.8,342.7 L808.8,344.0 L809.8,345.2 L810.8,346.4 L811.8,347.6 L812.8,348.8 L813.8,350.0 L814.8,351.1 L815.8,352.3 L816.8,353.4 L817.8,354.5 L818.8,355.7 L819.8,356.8 L820.8,357.9 L821.8,358.9 L822.8,360.0 L823.8,361.1 L824.8,362.1 L825.8,363.2 L826.8,364.2 L827.8,365.2 L828.8,366.2 L829.8,367.2 L830.8,368.2 L831.8,369.2 L832.8,370.1 L833.8,371.1 L834.8,372.0 L835.8,373.0 L836.8,373.9 L837.8,374.8 L838.8,375.7 L839.8,376.6 L840.8,377.5 L841.8,378.4 L842.8,379.2 L843.8,380.1 L844.8,380.9 L845.8,381.7 L846.8,382.6 L847.8,383.4 L848.8,384.2 L849.8,385.0 L850.8,385.8 L851.8,386.5 L852.8,387.3 L853.8,388.1 L854.8,388.8 L855.8,389.6 L856.8,390.3 L857.8,391.0 L858.8,391.7 L859.8,392.4 L860.8,393.1 L861.8,393.8 L862.8,394.5 L863.8,395.2 L864.8,395.8 L865.8,396.5 L866.8,397.1 L867.8,397.7 L868.8,398.4 L869.8,399.0 L870.8,399.6 L871.8,400.2 L872.8,400.8 L873.8,401.4 L874.8,402.0 L875.8,402.5 L876.8,403.1 L877.8,403.6 L878.8,404.2 L879.8,404.7 L880.8,405.3 L881.8,405.8 L882.8,406.3 L883.8,406.8 L884.8,407.3 L885.8,407.8 L886.8,408.3 L887.8,408.8 L888.8,409.2 L889.8,409.7 L890.8,410.1 L891.8,410.6 L892.8,411.0 L893.8,411.5 L894.8,411.9 L895.8,412.3 L896.8,412.7 L897.8,413.2 L898.8,413.6 L899.8,414.0 L900.8,414.3 L901.8,414.7 L902.8,415.1 L903.8,415.5 L904.8,415.8 L905.8,416.2 L906.8,416.6 L907.8,416.9 L908.8,417.3 L909.8,417.6 L910.8,417.9 L911.8,418.2 L912.8,418.6 L913.8,418.9 L914.8,419.2 L915.8,419.5 L916.8,419.8 L917.8,420.1 L918.8,420.4 L919.8,420.7 L920.8,420.9 L921.8,421.2 L922.8,421.5 L923.8,421.7 L924.8,422.0 L925.8,422.3 L926.8,422.5 L927.8,422.7 L928.8,423.0 L929.8,423.2 L930.8,423.4 L931.8,423.7 L932.8,423.9 L933.8,424.1 L934.8,424.3 L935.8,424.5 L936.8,424.7 L937.8,424.9 L938.8,425.1 L939.8,425.3 L940.8,425.5 L941.8,425.7 L942.8,425.9 L943.8,426.1 L944.8,426.2 L945.8,426.4 L946.8,426.6 L947.8,426.8 L948.8,426.9 L949.8,427.1 L950.8,427.2 L951.8,427.4 L952.8,427.5 L953.8,427.7 L954.8,427.8 L955.8,428.0 L956.8,428.1 L957.8,428.2 L958.8,428.4 L959.8,428.5 L960.8,428.6 L961.8,428.7 L962.8,428.9 L963.8,429.0" stroke="#2a2a8e" stroke-width="2.0"/>
<path d="M613.8,390.1 L614.8,390.5 L615.8,390.6 L616.8,390.4 L617.8,389.9 L618.8,389.2 L619.8,388.3 L620.8,387.1 L621.8,385.7 L622.8,384.2 L623.8,382.4 L624.8,380.5 L625.8,378.4 L626.8,376.2 L627.8,373.8 L628.8,371.3 L629.8,368.7 L630.8,366.1 L631.8,363.3 L632.8,360.5 L633.8,357.6 L634.8,354.6 L635.8,351.6 L636.8,348.6 L637.8,345.6 L638.8,342.5 L639.8,339.4 L640.8,336.3 L641.8,333.2 L642.8,330.2 L643.8,327.1 L644.8,324.1 L645.8,321.1 L646.8,318.1 L647.8,315.2 L648.8,312.3 L649.8,309.5 L650.8,306.8 L651.8,304.2 L652.8,301.6 L653.8,299.1 L654.8,296.8 L655.8,294.5 L656.8,292.3 L657.8,290.2 L658.8,288.2 L659.8,286.2 L660.8,284.3 L661.8,282.5 L662.8,280.6 L663.8,278.8 L664.8,277.1 L665.8,275.3 L666.8,273.6 L667.8,271.9 L668.8,270.2 L669.8,268.4 L670.8,266.6 L671.8,264.9 L672.8,263.0 L673.8,261.2 L674.8,259.3 L675.8,257.3 L676.8,255.4 L677.8,253.5 L678.8,251.5 L679.8,249.7 L680.8,247.8 L681.8,246.0 L682.8,244.3 L683.8,242.6 L684.8,241.0 L685.8,239.6 L686.8,238.2 L687.8,236.9 L688.8,235.8 L689.8,234.7 L690.8,233.7 L691.8,232.8 L692.8,232.0 L693.8,231.2 L694.8,230.6 L695.8,230.0 L696.8,229.5 L697.8,229.1 L698.8,228.7 L699.8,228.5 L700.8,228.2 L701.8,228.0 L702.8,227.9 L703.8,227.8 L704.8,227.8 L705.8,227.9 L706.8,228.0 L707.8,228.1 L708.8,228.3 L709.8,228.5 L710.8,228.8 L711.8,229.1 L712.8,229.4 L713.8,229.8 L714.8,230.2 L715.8,230.6 L716.8,231.1 L717.8,231.6 L718.8,232.1 L719.8,232.7 L720.8,233.3 L721.8,233.9 L722.8,234.6 L723.8,235.3 L724.8,236.0 L725.8,236.7 L726.8,237.5 L727.8,238.3 L728.8,239.1 L729.8,240.0 L730.8,240.9 L731.8,241.8 L732.8,242.7 L733.8,243.6 L734.8,244.6 L735.8,245.6 L736.8,246.6 L737.8,247.6 L738.8,248.7 L739.8,249.8 L740.8,250.9 L741.8,252.0 L742.8,253.1 L743.8,254.3 L744.8,255.5 L745.8,256.7 L746.8,257.9 L747.8,259.1 L748.8,260.4 L749.8,261.6 L750.8,262.9 L751.8,264.2 L752.8,265.5 L753.8,266.8 L754.8,268.1 L755.8,269.5 L756.8,270.8 L757.8,272.2 L758.8,273.6 L759.8,275.0 L760.8,276.4 L761.8,277.8 L762.8,279.2 L763.8,280.6 L764.8,282.1 L765.8,283.5 L766.8,285.0 L767.8,286.4 L768.8,287.9 L769.8,289.4 L770.8,290.8 L771.8,292.3 L772.8,293.8 L773.8,295.3 L774.8,296.8 L775.8,298.2 L776.8,299.7 L777.8,301.2 L778.8,302.7 L779.8,304.2 L780.8,305.7 L781.8,307.1 L782.8,308.5 L783.8,310.0 L784.8,311.4 L785.8,312.9 L786.8,314.3 L787.8,315.7 L788.8,317.1 L789.8,318.6 L790.8,320.0 L791.8,321.4 L792.8,322.8 L793.8,324.2 L794.8,325.6 L795.8,326.9 L796.8,328.3 L797.8,329.7 L798.8,331.0 L799.8,332.4 L800.8,333.7 L801.8,335.0 L802.8,336.3 L803.8,337.6 L804.8,338.9 L805.8,340.2 L806.8,341.4 L807.8,342.7 L808.8,343.9 L809.8,345.1 L810.8,346.4 L811.8,347.6 L812.8,348.7 L813.8,349.9 L814.8,351.1 L815.8,352.2 L816.8,353.4 L817.8,354.5 L818.8,355.6 L819.8,356.7 L820.8,357.8 L821.8,358.9 L822.8,360.0 L823.8,361.1 L824.8,362.1 L825.8,363.1 L826.8,364.2 L827.8,365.2 L828.8,366.2 L829.8,367.2 L830.8,368.2 L831.8,369.2 L832.8,370.1 L833.8,371.1 L834.8,372.0 L835.8,373.0 L836.8,373.9 L837.8,374.8 L838.8,375.7 L839.8,376.6 L840.8,377.5 L841.8,378.4 L842.8,379.2 L843.8,380.1 L844.8,380.9 L845.8,381.7 L846.8,382.6 L847.8,383.4 L848.8,384.2 L849.8,385.0 L850.8,385.8 L851.8,386.5 L852.8,387.3 L853.8,388.1 L854.8,388.8 L855.8,389.6 L856.8,390.3 L857.8,391.0 L858.8,391.7 L859.8,392.4 L860.8,393.1 L861.8,393.8 L862.8,394.5 L863.8,395.2 L864.8,395.8 L865.8,396.5 L866.8,397.1 L867.8,397.7 L868.8,398.4 L869.8,399.0 L870.8,399.6 L871.8,400.2 L872.8,400.8 L873.8,401.4 L874.8,402.0 L875.8,402.5 L876.8,403.1 L877.8,403.6 L878.8,404.2 L879.8,404.7 L880.8,405.3 L881.8,405.8 L882.8,406.3 L883.8,406.8 L884.8,407.3 L885.8,407.8 L886.8,408.3 L887.8,408.8 L888.8,409.2 L889.8,409.7 L890.8,410.1 L891.8,410.6 L892.8,411.0 L893.8,411.5 L894.8,411.9 L895.8,412.3 L896.8,412.7 L897.8,413.2 L898.8,413.6 L899.8,414.0 L900.8,414.3 L901.8,414.7 L902.8,415.1 L903.8,415.5 L904.8,415.8 L905.8,416.2 L906.8,416.6 L907.8,416.9 L908.8,417.3 L909.8,417.6 L910.8,417.9 L911.8,418.2 L912.8,418.6 L913.8,418.9 L914.8,419.2 L915.8,419.5 L916.8,419.8 L917.8,420.1 L918.8,420.4 L919.8,420.7 L920.8,420.9 L921.8,421.2 L922.8,421.5 L923.8,421.7 L924.8,422.0 L925.8,422.3 L926.8,422.5 L927.8,422.7 L928.8,423.0 L929.8,423.2 L930.8,423.4 L931.8,423.7 L932.8,423.9 L933.8,424.1 L934.8,424.3 L935.8,424.5 L936.8,424.7 L937.8,424.9 L938.8,425.1 L939.8,425.3 L940.8,425.5 L941.8,425.7 L942.8,425.9 L943.8,426.1 L944.8,426.2 L945.8,426.4 L946.8,426.6 L947.8,426.8 L948.8,426.9 L949.8,427.1 L950.8,427.2 L951.8,427.4 L952.8,427.5 L953.8,427.7 L954.8,427.8 L955.8,428.0 L956.8,428.1 L957.8,428.2 L958.8,428.4 L959.8,428.5 L960.8,428.6 L961.8,428.7 L962.8,428.9 L963.8,429.0" stroke="#5a1838" stroke-width="2.6"/>
<path d="M613.8,389.4 L614.8,389.8 L615.8,389.8 L616.8,389.6 L617.8,389.2 L618.8,388.4 L619.8,387.5 L620.8,386.3 L621.8,384.9 L622.8,383.3 L623.8,381.6 L624.8,379.6 L625.8,377.5 L626.8,375.3 L627.8,372.9 L628.8,370.4 L629.8,367.8 L630.8,365.1 L631.8,362.3 L632.8,359.5 L633.8,356.6 L634.8,353.6 L635.8,350.6 L636.8,347.6 L637.8,344.5 L638.8,341.4 L639.8,338.3 L640.8,335.2 L641.8,332.1 L642.8,329.0 L643.8,325.9 L644.8,322.9 L645.8,319.9 L646.8,316.9 L647.8,314.0 L648.8,311.1 L649.8,308.3 L650.8,305.5 L651.8,302.9 L652.8,300.3 L653.8,297.8 L654.8,295.4 L655.8,293.1 L656.8,290.9 L657.8,288.8 L658.8,286.8 L659.8,284.8 L660.8,282.9 L661.8,281.0 L662.8,279.2 L663.8,277.4 L664.8,275.6 L665.8,273.8 L666.8,272.1 L667.8,270.3 L668.8,268.6 L669.8,266.8 L670.8,265.0 L671.8,263.2 L672.8,261.4 L673.8,259.5 L674.8,257.6 L675.8,255.6 L676.8,253.7 L677.8,251.7 L678.8,249.8 L679.8,247.9 L680.8,246.0 L681.8,244.2 L682.8,242.5 L683.8,240.8 L684.8,239.2 L685.8,237.7 L686.8,236.3 L687.8,235.0 L688.8,233.8 L689.8,232.7 L690.8,231.7 L691.8,230.8 L692.8,230.0 L693.8,229.2 L694.8,228.6 L695.8,228.0 L696.8,227.5 L697.8,227.0 L698.8,226.7 L699.8,226.4 L700.8,226.1 L701.8,225.9 L702.8,225.8 L703.8,225.7 L704.8,225.7 L705.8,225.7 L706.8,225.8 L707.8,226.0 L708.8,226.1 L709.8,226.3 L710.8,226.6 L711.8,226.9 L712.8,227.2 L713.8,227.6 L714.8,228.0 L715.8,228.4 L716.8,228.9 L717.8,229.4 L718.8,229.9 L719.8,230.5 L720.8,231.1 L721.8,231.7 L722.8,232.4 L723.8,233.0 L724.8,233.7 L725.8,234.5 L726.8,235.2 L727.8,236.0 L728.8,236.8 L729.8,237.7 L730.8,238.6 L731.8,239.5 L732.8,240.4 L733.8,241.3 L734.8,242.3 L735.8,243.3 L736.8,244.3 L737.8,245.3 L738.8,246.4 L739.8,247.4 L740.8,248.5 L741.8,249.6 L742.8,250.8 L743.8,251.9 L744.8,253.1 L745.8,254.3 L746.8,255.5 L747.8,256.7 L748.8,258.0 L749.8,259.2 L750.8,260.5 L751.8,261.8 L752.8,263.1 L753.8,264.4 L754.8,265.7 L755.8,267.0 L756.8,268.4 L757.8,269.8 L758.8,271.1 L759.8,272.5 L760.8,273.9 L761.8,275.3 L762.8,276.7 L763.8,278.1 L764.8,279.6 L765.8,281.0 L766.8,282.4 L767.8,283.9 L768.8,285.4 L769.8,286.8 L770.8,288.3 L771.8,289.8 L772.8,291.2 L773.8,292.7 L774.8,294.2 L775.8,295.7 L776.8,297.2 L777.8,298.6 L778.8,300.1 L779.8,301.6 L780.8,303.1 L781.8,304.5 L782.8,306.0 L783.8,307.4 L784.8,308.9 L785.8,310.3 L786.8,311.8 L787.8,313.2 L788.8,314.6 L789.8,316.1 L790.8,317.5 L791.8,318.9 L792.8,320.3 L793.8,321.7 L794.8,323.1 L795.8,324.5 L796.8,325.9 L797.8,327.3 L798.8,328.6 L799.8,330.0 L800.8,331.3 L801.8,332.6 L802.8,334.0 L803.8,335.3 L804.8,336.6 L805.8,337.9 L806.8,339.1 L807.8,340.4 L808.8,341.6 L809.8,342.9 L810.8,344.1 L811.8,345.3 L812.8,346.5 L813.8,347.7 L814.8,348.9 L815.8,350.0 L816.8,351.2 L817.8,352.3 L818.8,353.5 L819.8,354.6 L820.8,355.7 L821.8,356.8 L822.8,357.9 L823.8,358.9 L824.8,360.0 L825.8,361.1 L826.8,362.1 L827.8,363.1 L828.8,364.1 L829.8,365.2 L830.8,366.1 L831.8,367.1 L832.8,368.1 L833.8,369.1 L834.8,370.0 L835.8,371.0 L836.8,371.9 L837.8,372.8 L838.8,373.8 L839.8,374.7 L840.8,375.5 L841.8,376.4 L842.8,377.3 L843.8,378.2 L844.8,379.0 L845.8,379.9 L846.8,380.7 L847.8,381.5 L848.8,382.3 L849.8,383.2 L850.8,383.9 L851.8,384.7 L852.8,385.5 L853.8,386.3 L854.8,387.0 L855.8,387.8 L856.8,388.5 L857.8,389.3 L858.8,390.0 L859.8,390.7 L860.8,391.4 L861.8,392.1 L862.8,392.8 L863.8,393.5 L864.8,394.1 L865.8,394.8 L866.8,395.5 L867.8,396.1 L868.8,396.7 L869.8,397.4 L870.8,398.0 L871.8,398.6 L872.8,399.2 L873.8,399.8 L874.8,400.4 L875.8,401.0 L876.8,401.6 L877.8,402.1 L878.8,402.7 L879.8,403.2 L880.8,403.8 L881.8,404.3 L882.8,404.8 L883.8,405.3 L884.8,405.9 L885.8,406.4 L886.8,406.9 L887.8,407.4 L888.8,407.8 L889.8,408.3 L890.8,408.8 L891.8,409.2 L892.8,409.7 L893.8,410.1 L894.8,410.6 L895.8,411.0 L896.8,411.4 L897.8,411.9 L898.8,412.3 L899.8,412.7 L900.8,413.1 L901.8,413.5 L902.8,413.9 L903.8,414.3 L904.8,414.6 L905.8,415.0 L906.8,415.4 L907.8,415.7 L908.8,416.1 L909.8,416.4 L910.8,416.8 L911.8,417.1 L912.8,417.5 L913.8,417.8 L914.8,418.1 L915.8,418.4 L916.8,418.7 L917.8,419.0 L918.8,419.3 L919.8,419.6 L920.8,419.9 L921.8,420.2 L922.8,420.5 L923.8,420.8 L924.8,421.0 L925.8,421.3 L926.8,421.6 L927.8,421.8 L928.8,422.1 L929.8,422.3 L930.8,422.6 L931.8,422.8 L932.8,423.0 L933.8,423.3 L934.8,423.5 L935.8,423.7 L936.8,423.9 L937.8,424.1 L938.8,424.3 L939.8,424.5 L940.8,424.7 L941.8,424.9 L942.8,425.1 L943.8,425.3 L944.8,425.5 L945.8,425.7 L946.8,425.9 L947.8,426.1 L948.8,426.2 L949.8,426.4 L950.8,426.6 L951.8,426.7 L952.8,426.9 L953.8,427.1 L954.8,427.2 L955.8,427.4 L956.8,427.5 L957.8,427.7 L958.8,427.8 L959.8,427.9 L960.8,428.1 L961.8,428.2 L962.8,428.3 L963.8,428.5" stroke="#862a2a" stroke-width="2.6"/>
<path d="M613.8,388.7 L614.8,389.0 L615.8,389.1 L616.8,388.9 L617.8,388.4 L618.8,387.6 L619.8,386.7 L620.8,385.5 L621.8,384.1 L622.8,382.5 L623.8,380.7 L624.8,378.7 L625.8,376.6 L626.8,374.4 L627.8,372.0 L628.8,369.5 L629.8,366.8 L630.8,364.1 L631.8,361.3 L632.8,358.5 L633.8,355.6 L634.8,352.6 L635.8,349.6 L636.8,346.5 L637.8,343.4 L638.8,340.3 L639.8,337.2 L640.8,334.1 L641.8,331.0 L642.8,327.9 L643.8,324.8 L644.8,321.7 L645.8,318.7 L646.8,315.7 L647.8,312.7 L648.8,309.8 L649.8,307.0 L650.8,304.3 L651.8,301.6 L652.8,299.0 L653.8,296.5 L654.8,294.1 L655.8,291.8 L656.8,289.6 L657.8,287.4 L658.8,285.4 L659.8,283.4 L660.8,281.4 L661.8,279.5 L662.8,277.7 L663.8,275.9 L664.8,274.1 L665.8,272.3 L666.8,270.5 L667.8,268.8 L668.8,267.0 L669.8,265.2 L670.8,263.4 L671.8,261.6 L672.8,259.7 L673.8,257.8 L674.8,255.9 L675.8,253.9 L676.8,252.0 L677.8,250.0 L678.8,248.1 L679.8,246.1 L680.8,244.2 L681.8,242.4 L682.8,240.6 L683.8,239.0 L684.8,237.3 L685.8,235.8 L686.8,234.4 L687.8,233.1 L688.8,231.9 L689.8,230.8 L690.8,229.8 L691.8,228.9 L692.8,228.0 L693.8,227.2 L694.8,226.6 L695.8,226.0 L696.8,225.4 L697.8,225.0 L698.8,224.6 L699.8,224.3 L700.8,224.0 L701.8,223.8 L702.8,223.7 L703.8,223.6 L704.8,223.6 L705.8,223.6 L706.8,223.7 L707.8,223.8 L708.8,224.0 L709.8,224.2 L710.8,224.4 L711.8,224.7 L712.8,225.1 L713.8,225.4 L714.8,225.8 L715.8,226.2 L716.8,226.7 L717.8,227.2 L718.8,227.7 L719.8,228.3 L720.8,228.9 L721.8,229.5 L722.8,230.1 L723.8,230.8 L724.8,231.5 L725.8,232.2 L726.8,233.0 L727.8,233.8 L728.8,234.6 L729.8,235.4 L730.8,236.3 L731.8,237.2 L732.8,238.1 L733.8,239.0 L734.8,240.0 L735.8,240.9 L736.8,241.9 L737.8,243.0 L738.8,244.0 L739.8,245.1 L740.8,246.2 L741.8,247.3 L742.8,248.4 L743.8,249.6 L744.8,250.7 L745.8,251.9 L746.8,253.1 L747.8,254.3 L748.8,255.6 L749.8,256.8 L750.8,258.1 L751.8,259.3 L752.8,260.6 L753.8,261.9 L754.8,263.3 L755.8,264.6 L756.8,265.9 L757.8,267.3 L758.8,268.7 L759.8,270.0 L760.8,271.4 L761.8,272.8 L762.8,274.2 L763.8,275.6 L764.8,277.1 L765.8,278.5 L766.8,279.9 L767.8,281.4 L768.8,282.8 L769.8,284.3 L770.8,285.7 L771.8,287.2 L772.8,288.7 L773.8,290.1 L774.8,291.6 L775.8,293.1 L776.8,294.6 L777.8,296.1 L778.8,297.5 L779.8,299.0 L780.8,300.5 L781.8,301.9 L782.8,303.4 L783.8,304.9 L784.8,306.3 L785.8,307.8 L786.8,309.2 L787.8,310.7 L788.8,312.1 L789.8,313.6 L790.8,315.0 L791.8,316.4 L792.8,317.9 L793.8,319.3 L794.8,320.7 L795.8,322.1 L796.8,323.5 L797.8,324.9 L798.8,326.2 L799.8,327.6 L800.8,328.9 L801.8,330.3 L802.8,331.6 L803.8,332.9 L804.8,334.2 L805.8,335.5 L806.8,336.8 L807.8,338.1 L808.8,339.4 L809.8,340.6 L810.8,341.8 L811.8,343.1 L812.8,344.3 L813.8,345.5 L814.8,346.7 L815.8,347.8 L816.8,349.0 L817.8,350.1 L818.8,351.3 L819.8,352.4 L820.8,353.5 L821.8,354.6 L822.8,355.7 L823.8,356.8 L824.8,357.9 L825.8,359.0 L826.8,360.0 L827.8,361.0 L828.8,362.1 L829.8,363.1 L830.8,364.1 L831.8,365.1 L832.8,366.1 L833.8,367.1 L834.8,368.0 L835.8,369.0 L836.8,369.9 L837.8,370.9 L838.8,371.8 L839.8,372.7 L840.8,373.6 L841.8,374.5 L842.8,375.4 L843.8,376.3 L844.8,377.1 L845.8,378.0 L846.8,378.8 L847.8,379.7 L848.8,380.5 L849.8,381.3 L850.8,382.1 L851.8,382.9 L852.8,383.7 L853.8,384.5 L854.8,385.3 L855.8,386.0 L856.8,386.8 L857.8,387.5 L858.8,388.3 L859.8,389.0 L860.8,389.7 L861.8,390.4 L862.8,391.1 L863.8,391.8 L864.8,392.5 L865.8,393.2 L866.8,393.8 L867.8,394.5 L868.8,395.1 L869.8,395.8 L870.8,396.4 L871.8,397.0 L872.8,397.6 L873.8,398.2 L874.8,398.8 L875.8,399.4 L876.8,400.0 L877.8,400.6 L878.8,401.2 L879.8,401.7 L880.8,402.3 L881.8,402.8 L882.8,403.4 L883.8,403.9 L884.8,404.4 L885.8,404.9 L886.8,405.4 L887.8,405.9 L888.8,406.4 L889.8,406.9 L890.8,407.4 L891.8,407.9 L892.8,408.3 L893.8,408.8 L894.8,409.3 L895.8,409.7 L896.8,410.1 L897.8,410.6 L898.8,411.0 L899.8,411.4 L900.8,411.8 L901.8,412.3 L902.8,412.7 L903.8,413.0 L904.8,413.4 L905.8,413.8 L906.8,414.2 L907.8,414.6 L908.8,414.9 L909.8,415.3 L910.8,415.7 L911.8,416.0 L912.8,416.3 L913.8,416.7 L914.8,417.0 L915.8,417.3 L916.8,417.7 L917.8,418.0 L918.8,418.3 L919.8,418.6 L920.8,418.9 L921.8,419.2 L922.8,419.5 L923.8,419.8 L924.8,420.1 L925.8,420.3 L926.8,420.6 L927.8,420.9 L928.8,421.1 L929.8,421.4 L930.8,421.7 L931.8,421.9 L932.8,422.2 L933.8,422.4 L934.8,422.6 L935.8,422.9 L936.8,423.1 L937.8,423.3 L938.8,423.5 L939.8,423.8 L940.8,424.0 L941.8,424.2 L942.8,424.4 L943.8,424.6 L944.8,424.8 L945.8,425.0 L946.8,425.2 L947.8,425.4 L948.8,425.6 L949.8,425.7 L950.8,425.9 L951.8,426.1 L952.8,426.3 L953.8,426.4 L954.8,426.6 L955.8,426.8 L956.8,426.9 L957.8,427.1 L958.8,427.2 L959.8,427.4 L960.8,427.5 L961.8,427.7 L962.8,427.8 L963.8,428.0" stroke="#741822" stroke-width="2.6"/>
<path d="M613.8,388.0 L614.8,388.3 L615.8,388.4 L616.8,388.1 L617.8,387.6 L618.8,386.9 L619.8,385.9 L620.8,384.7 L621.8,383.2 L622.8,381.6 L623.8,379.8 L624.8,377.9 L625.8,375.7 L626.8,373.5 L627.8,371.1 L628.8,368.5 L629.8,365.9 L630.8,363.2 L631.8,360.4 L632.8,357.5 L633.8,354.6 L634.8,351.6 L635.8,348.5 L636.8,345.5 L637.8,342.4 L638.8,339.3 L639.8,336.1 L640.8,333.0 L641.8,329.9 L642.8,326.7 L643.8,323.6 L644.8,320.5 L645.8,317.5 L646.8,314.5 L647.8,311.5 L648.8,308.6 L649.8,305.8 L650.8,303.0 L651.8,300.3 L652.8,297.7 L653.8,295.2 L654.8,292.7 L655.8,290.4 L656.8,288.2 L657.8,286.0 L658.8,284.0 L659.8,281.9 L660.8,280.0 L661.8,278.1 L662.8,276.2 L663.8,274.4 L664.8,272.5 L665.8,270.8 L666.8,269.0 L667.8,267.2 L668.8,265.4 L669.8,263.6 L670.8,261.8 L671.8,260.0 L672.8,258.1 L673.8,256.2 L674.8,254.2 L675.8,252.2 L676.8,250.3 L677.8,248.3 L678.8,246.3 L679.8,244.4 L680.8,242.5 L681.8,240.6 L682.8,238.8 L683.8,237.1 L684.8,235.5 L685.8,234.0 L686.8,232.6 L687.8,231.2 L688.8,230.0 L689.8,228.9 L690.8,227.8 L691.8,226.9 L692.8,226.0 L693.8,225.2 L694.8,224.5 L695.8,223.9 L696.8,223.4 L697.8,222.9 L698.8,222.5 L699.8,222.2 L700.8,221.9 L701.8,221.7 L702.8,221.6 L703.8,221.5 L704.8,221.4 L705.8,221.5 L706.8,221.5 L707.8,221.7 L708.8,221.8 L709.8,222.0 L710.8,222.3 L711.8,222.6 L712.8,222.9 L713.8,223.2 L714.8,223.6 L715.8,224.0 L716.8,224.5 L717.8,225.0 L718.8,225.5 L719.8,226.0 L720.8,226.6 L721.8,227.2 L722.8,227.9 L723.8,228.5 L724.8,229.2 L725.8,230.0 L726.8,230.7 L727.8,231.5 L728.8,232.3 L729.8,233.1 L730.8,234.0 L731.8,234.9 L732.8,235.8 L733.8,236.7 L734.8,237.6 L735.8,238.6 L736.8,239.6 L737.8,240.6 L738.8,241.7 L739.8,242.7 L740.8,243.8 L741.8,244.9 L742.8,246.0 L743.8,247.2 L744.8,248.3 L745.8,249.5 L746.8,250.7 L747.8,251.9 L748.8,253.1 L749.8,254.4 L750.8,255.6 L751.8,256.9 L752.8,258.2 L753.8,259.5 L754.8,260.8 L755.8,262.1 L756.8,263.5 L757.8,264.8 L758.8,266.2 L759.8,267.6 L760.8,268.9 L761.8,270.3 L762.8,271.7 L763.8,273.1 L764.8,274.6 L765.8,276.0 L766.8,277.4 L767.8,278.9 L768.8,280.3 L769.8,281.7 L770.8,283.2 L771.8,284.7 L772.8,286.1 L773.8,287.6 L774.8,289.0 L775.8,290.5 L776.8,292.0 L777.8,293.5 L778.8,294.9 L779.8,296.4 L780.8,297.9 L781.8,299.4 L782.8,300.8 L783.8,302.3 L784.8,303.8 L785.8,305.2 L786.8,306.7 L787.8,308.2 L788.8,309.6 L789.8,311.1 L790.8,312.5 L791.8,314.0 L792.8,315.4 L793.8,316.8 L794.8,318.2 L795.8,319.7 L796.8,321.1 L797.8,322.5 L798.8,323.8 L799.8,325.2 L800.8,326.6 L801.8,327.9 L802.8,329.3 L803.8,330.6 L804.8,331.9 L805.8,333.2 L806.8,334.5 L807.8,335.8 L808.8,337.1 L809.8,338.3 L810.8,339.6 L811.8,340.8 L812.8,342.0 L813.8,343.2 L814.8,344.4 L815.8,345.6 L816.8,346.8 L817.8,348.0 L818.8,349.1 L819.8,350.3 L820.8,351.4 L821.8,352.5 L822.8,353.6 L823.8,354.7 L824.8,355.8 L825.8,356.9 L826.8,357.9 L827.8,359.0 L828.8,360.0 L829.8,361.0 L830.8,362.1 L831.8,363.1 L832.8,364.1 L833.8,365.1 L834.8,366.0 L835.8,367.0 L836.8,368.0 L837.8,368.9 L838.8,369.8 L839.8,370.8 L840.8,371.7 L841.8,372.6 L842.8,373.5 L843.8,374.4 L844.8,375.3 L845.8,376.1 L846.8,377.0 L847.8,377.8 L848.8,378.7 L849.8,379.5 L850.8,380.3 L851.8,381.1 L852.8,381.9 L853.8,382.7 L854.8,383.5 L855.8,384.3 L856.8,385.0 L857.8,385.8 L858.8,386.5 L859.8,387.3 L860.8,388.0 L861.8,388.7 L862.8,389.4 L863.8,390.1 L864.8,390.8 L865.8,391.5 L866.8,392.2 L867.8,392.8 L868.8,393.5 L869.8,394.2 L870.8,394.8 L871.8,395.4 L872.8,396.1 L873.8,396.7 L874.8,397.3 L875.8,397.9 L876.8,398.5 L877.8,399.1 L878.8,399.7 L879.8,400.2 L880.8,400.8 L881.8,401.3 L882.8,401.9 L883.8,402.4 L884.8,403.0 L885.8,403.5 L886.8,404.0 L887.8,404.5 L888.8,405.0 L889.8,405.5 L890.8,406.0 L891.8,406.5 L892.8,407.0 L893.8,407.5 L894.8,407.9 L895.8,408.4 L896.8,408.8 L897.8,409.3 L898.8,409.7 L899.8,410.2 L900.8,410.6 L901.8,411.0 L902.8,411.4 L903.8,411.8 L904.8,412.2 L905.8,412.6 L906.8,413.0 L907.8,413.4 L908.8,413.8 L909.8,414.2 L910.8,414.5 L911.8,414.9 L912.8,415.2 L913.8,415.6 L914.8,415.9 L915.8,416.3 L916.8,416.6 L917.8,416.9 L918.8,417.3 L919.8,417.6 L920.8,417.9 L921.8,418.2 L922.8,418.5 L923.8,418.8 L924.8,419.1 L925.8,419.4 L926.8,419.7 L927.8,420.0 L928.8,420.2 L929.8,420.5 L930.8,420.8 L931.8,421.0 L932.8,421.3 L933.8,421.5 L934.8,421.8 L935.8,422.0 L936.8,422.3 L937.8,422.5 L938.8,422.7 L939.8,423.0 L940.8,423.2 L941.8,423.4 L942.8,423.6 L943.8,423.8 L944.8,424.1 L945.8,424.3 L946.8,424.5 L947.8,424.7 L948.8,424.9 L949.8,425.1 L950.8,425.3 L951.8,425.4 L952.8,425.6 L953.8,425.8 L954.8,426.0 L955.8,426.2 L956.8,426.3 L957.8,426.5 L958.8,426.7 L959.8,426.8 L960.8,427.0 L961.8,427.2 L962.8,427.3 L963.8,427.5" stroke="#a41e2a" stroke-width="2.6"/>
</g>
<rect x="613.8" y="183.3" width="350.0" height="252.7" fill="none" stroke="#111" stroke-width="2.4"/>
<path d="M613.80,436.0 V441.50 M642.97,436.0 V439.00 M672.13,436.0 V441.50 M701.30,436.0 V439.00 M730.47,436.0 V441.50 M759.63,436.0 V439.00 M788.80,436.0 V441.50 M817.97,436.0 V439.00 M847.13,436.0 V441.50 M876.30,436.0 V439.00 M905.47,436.0 V441.50 M934.63,436.0 V439.00 M963.80,436.0 V441.50" stroke="#111" stroke-width="2.2" fill="none"/>
<text x="596.21" y="460.50" font-size="21.00" fill="#1a1a1a">350</text>
<text x="654.71" y="460.50" font-size="21.00" fill="#1a1a1a">375</text>
<text x="713.05" y="460.50" font-size="21.00" fill="#1a1a1a">400</text>
<text x="771.54" y="460.50" font-size="21.00" fill="#1a1a1a">425</text>
<text x="829.71" y="460.50" font-size="21.00" fill="#1a1a1a">450</text>
<text x="888.21" y="460.50" font-size="21.00" fill="#1a1a1a">475</text>
<text x="946.21" y="460.50" font-size="21.00" fill="#1a1a1a">500</text>
<text x="706.00" y="499.60" font-size="32.50" fill="#1a1a1a" textLength="235.61" lengthAdjust="spacingAndGlyphs">Wavelength (nm)</text>
<text transform="translate(594.50,367.40) rotate(-90)" x="-2.41" y="0" font-size="31.00" fill="#1a1a1a" textLength="157.81" lengthAdjust="spacingAndGlyphs">Fl. Intensity</text>
<text x="629.55" y="214.80" font-size="25.50" fill="#111" textLength="60.64" lengthAdjust="spacingAndGlyphs">6APi</text>
<text x="738.97" y="228.80" font-size="22.50" fill="#111" textLength="91.83" lengthAdjust="spacingAndGlyphs">Domain V</text>
<text x="764.46" y="249.80" font-size="22.50" fill="#111" textLength="52.44" lengthAdjust="spacingAndGlyphs">rRNA</text>
<path d="M757.3,261 V316" stroke="#111" stroke-width="2"/>
<path d="M753,312.5 L761.6,312.5 L757.3,327.5 Z" fill="#111"/>
<text x="24.71" y="802.10" font-size="47.00" fill="#111" textLength="31.47" lengthAdjust="spacingAndGlyphs">B</text>
<rect x="156.6" y="788.2" width="826.4" height="607.8999999999999" fill="none" stroke="#1a1a1a" stroke-width="2.8"/>
<path d="M156.60,1355.70 H143.60 M156.60,1306.35 H149.10 M156.60,1257.00 H143.60 M156.60,1207.65 H149.10 M156.60,1158.30 H143.60 M156.60,1108.95 H149.10 M156.60,1059.60 H143.60 M156.60,1010.25 H149.10 M156.60,960.90 H143.60 M156.60,911.55 H149.10 M156.60,862.20 H143.60 M156.60,812.85 H149.10 M166.60,1396.1 V1409.90 M268.75,1396.1 V1404.60 M370.90,1396.1 V1409.90 M473.05,1396.1 V1404.60 M575.20,1396.1 V1409.90 M677.35,1396.1 V1404.60 M779.50,1396.1 V1409.90 M881.65,1396.1 V1404.60 M983.80,1396.1 V1409.90" stroke="#1a1a1a" stroke-width="2.8" fill="none"/>
<text x="90.75" y="1365.90" font-size="33.50" fill="#222" textLength="44.24" lengthAdjust="spacingAndGlyphs">0,0</text>
<text x="91.25" y="1267.20" font-size="33.50" fill="#222" textLength="44.24" lengthAdjust="spacingAndGlyphs">0,2</text>
<text x="90.75" y="1168.50" font-size="33.50" fill="#222" textLength="44.24" lengthAdjust="spacingAndGlyphs">0,4</text>
<text x="91.25" y="1069.80" font-size="33.50" fill="#222" textLength="44.24" lengthAdjust="spacingAndGlyphs">0,6</text>
<text x="91.25" y="971.10" font-size="33.50" fill="#222" textLength="44.24" lengthAdjust="spacingAndGlyphs">0,8</text>
<text x="90.75" y="872.40" font-size="33.50" fill="#222" textLength="44.24" lengthAdjust="spacingAndGlyphs">1,0</text>
<text x="157.28" y="1443.00" font-size="34.50" fill="#222" textLength="18.42" lengthAdjust="spacingAndGlyphs">0</text>
<text x="342.91" y="1443.00" font-size="34.50" fill="#222" textLength="55.26" lengthAdjust="spacingAndGlyphs">200</text>
<text x="547.72" y="1443.00" font-size="34.50" fill="#222" textLength="55.26" lengthAdjust="spacingAndGlyphs">400</text>
<text x="751.51" y="1443.00" font-size="34.50" fill="#222" textLength="55.26" lengthAdjust="spacingAndGlyphs">600</text>
<text x="956.07" y="1443.00" font-size="34.50" fill="#222" textLength="55.26" lengthAdjust="spacingAndGlyphs">800</text>
<text x="388.70" y="1493.75" font-size="39.60" fill="#222" textLength="362.38" lengthAdjust="spacingAndGlyphs">Domain V rRNA (nM)</text>
<text transform="translate(63.20,1156.50) rotate(-90)" x="-2.88" y="0" font-size="40.00" fill="#222" textLength="22.48" lengthAdjust="spacingAndGlyphs">F</text>
<text transform="translate(75.60,1134.50) rotate(-90)" x="-1.14" y="0" font-size="40.00" fill="#222" textLength="20.36" lengthAdjust="spacingAndGlyphs">0</text>
<text transform="translate(63.20,1114.20) rotate(-90)" x="-1.32" y="0" font-size="40.00" fill="#222" textLength="14.04" lengthAdjust="spacingAndGlyphs">-</text>
<text transform="translate(63.20,1099.00) rotate(-90)" x="-3.03" y="0" font-size="40.00" fill="#222" textLength="23.70" lengthAdjust="spacingAndGlyphs">F</text>
<path d="M166.6,1355.7 L169.2,1348.1 L171.8,1340.6 L174.4,1333.4 L177.0,1326.2 L179.6,1319.3 L182.2,1312.5 L184.8,1305.8 L187.4,1299.3 L190.0,1292.9 L192.6,1286.7 L195.2,1280.6 L197.8,1274.6 L200.4,1268.7 L203.0,1262.9 L205.6,1257.3 L208.2,1251.8 L210.8,1246.3 L213.4,1241.0 L216.0,1235.8 L218.6,1230.7 L221.2,1225.7 L223.8,1220.8 L226.4,1215.9 L229.0,1211.2 L231.6,1206.5 L234.2,1201.9 L236.8,1197.4 L239.4,1193.0 L242.0,1188.7 L244.6,1184.4 L247.2,1180.2 L249.8,1176.1 L252.4,1172.1 L255.0,1168.1 L257.6,1164.2 L260.2,1160.3 L262.8,1156.5 L265.4,1152.8 L268.0,1149.1 L270.6,1145.5 L273.2,1141.9 L275.8,1138.4 L278.4,1135.0 L281.0,1131.6 L283.6,1128.3 L286.2,1125.0 L288.8,1121.7 L291.4,1118.6 L294.0,1115.4 L296.6,1112.3 L299.2,1109.3 L301.8,1106.3 L304.4,1103.3 L307.0,1100.4 L309.6,1097.5 L312.2,1094.7 L314.8,1091.9 L317.4,1089.1 L320.0,1086.4 L322.6,1083.7 L325.2,1081.0 L327.8,1078.4 L330.4,1075.9 L333.0,1073.3 L335.6,1070.8 L338.2,1068.3 L340.8,1065.9 L343.4,1063.5 L346.0,1061.1 L348.6,1058.7 L351.2,1056.4 L353.8,1054.1 L356.4,1051.9 L359.0,1049.6 L361.6,1047.4 L364.2,1045.3 L366.8,1043.1 L369.4,1041.0 L372.0,1038.9 L374.6,1036.8 L377.2,1034.8 L379.8,1032.7 L382.4,1030.7 L385.0,1028.8 L387.6,1026.8 L390.2,1024.9 L392.8,1023.0 L395.4,1021.1 L398.0,1019.2 L400.6,1017.4 L403.2,1015.6 L405.8,1013.8 L408.4,1012.0 L411.0,1010.2 L413.6,1008.5 L416.2,1006.7 L418.8,1005.0 L421.4,1003.4 L424.0,1001.7 L426.6,1000.0 L429.2,998.4 L431.8,996.8 L434.4,995.2 L437.0,993.6 L439.6,992.0 L442.2,990.5 L444.8,989.0 L447.4,987.5 L450.0,985.9 L452.6,984.5 L455.2,983.0 L457.8,981.5 L460.4,980.1 L463.0,978.7 L465.6,977.3 L468.2,975.9 L470.8,974.5 L473.4,973.1 L476.0,971.8 L478.6,970.4 L481.2,969.1 L483.8,967.8 L486.4,966.5 L489.0,965.2 L491.6,963.9 L494.2,962.6 L496.8,961.4 L499.4,960.1 L502.0,958.9 L504.6,957.7 L507.2,956.4 L509.8,955.2 L512.4,954.1 L515.0,952.9 L517.6,951.7 L520.2,950.6 L522.8,949.4 L525.4,948.3 L528.0,947.1 L530.6,946.0 L533.2,944.9 L535.8,943.8 L538.4,942.7 L541.0,941.7 L543.6,940.6 L546.2,939.5 L548.8,938.5 L551.4,937.5 L554.0,936.4 L556.6,935.4 L559.2,934.4 L561.8,933.4 L564.4,932.4 L567.0,931.4 L569.6,930.4 L572.2,929.4 L574.8,928.5 L577.4,927.5 L580.0,926.6 L582.6,925.6 L585.2,924.7 L587.8,923.8 L590.4,922.9 L593.0,921.9 L595.6,921.0 L598.2,920.1 L600.8,919.2 L603.4,918.4 L606.0,917.5 L608.6,916.6 L611.2,915.8 L613.8,914.9 L616.4,914.1 L619.0,913.2 L621.6,912.4 L624.2,911.5 L626.8,910.7 L629.4,909.9 L632.0,909.1 L634.6,908.3 L637.2,907.5 L639.8,906.7 L642.4,905.9 L645.0,905.1 L647.6,904.4 L650.2,903.6 L652.8,902.8 L655.4,902.1 L658.0,901.3 L660.6,900.6 L663.2,899.8 L665.8,899.1 L668.4,898.4 L671.0,897.6 L673.6,896.9 L676.2,896.2 L678.8,895.5 L681.4,894.8 L684.0,894.1 L686.6,893.4 L689.2,892.7 L691.8,892.0 L694.4,891.3 L697.0,890.7 L699.6,890.0 L702.2,889.3 L704.8,888.7 L707.4,888.0 L710.0,887.3 L712.6,886.7 L715.2,886.0 L717.8,885.4 L720.4,884.8 L723.0,884.1 L725.6,883.5 L728.2,882.9 L730.8,882.3 L733.4,881.7 L736.0,881.0 L738.6,880.4 L741.2,879.8 L743.8,879.2 L746.4,878.6 L749.0,878.0 L751.6,877.5 L754.2,876.9 L756.8,876.3 L759.4,875.7 L762.0,875.1 L764.6,874.6 L767.2,874.0 L769.8,873.4 L772.4,872.9 L775.0,872.3 L777.6,871.8 L780.2,871.2 L782.8,870.7 L785.4,870.1 L788.0,869.6 L790.6,869.1 L793.2,868.5 L795.8,868.0 L798.4,867.5 L801.0,867.0 L803.6,866.4 L806.2,865.9 L808.8,865.4 L811.4,864.9 L814.0,864.4 L816.6,863.9 L819.2,863.4 L821.8,862.9 L824.4,862.4 L827.0,861.9 L829.6,861.4 L832.2,860.9 L834.8,860.5 L837.4,860.0 L840.0,859.5 L842.6,859.0 L845.2,858.5 L847.8,858.1 L850.4,857.6 L853.0,857.1 L855.6,856.7 L858.2,856.2 L860.8,855.8 L863.4,855.3 L866.0,854.9 L868.6,854.4 L871.2,854.0 L873.8,853.5 L876.4,853.1 L879.0,852.7 L881.6,852.2 L884.2,851.8 L886.8,851.4 L889.4,850.9 L892.0,850.5 L894.6,850.1 L897.2,849.6 L899.8,849.2 L902.4,848.8 L905.0,848.4 L907.6,848.0 L910.2,847.6 L912.8,847.2 L915.4,846.8 L918.0,846.4 L920.6,846.0 L923.2,845.6 L925.8,845.2 L928.4,844.8 L931.0,844.4 L933.6,844.0 L936.2,843.6 L938.8,843.2 L941.4,842.8 L944.0,842.4" fill="none" stroke="#3b5f29" stroke-width="3"/>
<path d="M157.9,1351.5 L175.5,1351.5 L166.7,1366.2 Z M193.9,1254.9 L211.5,1254.9 L202.7,1269.6 Z M229.1,1182.5 L246.7,1182.5 L237.9,1197.2 Z M265.1,1131.2 L282.7,1131.2 L273.9,1145.9 Z M300.3,1088.8 L317.9,1088.8 L309.1,1103.5 Z M335.5,1056.5 L353.1,1056.5 L344.3,1071.2 Z M371.2,1027.2 L388.8,1027.2 L380.0,1041.9 Z M423.6,977.9 L441.2,977.9 L432.4,992.6 Z M509.2,928.3 L526.8,928.3 L518.0,943.0 Z M593.5,902.9 L611.1,902.9 L602.3,917.6 Z M677.5,881.4 L695.1,881.4 L686.3,896.1 Z M759.2,860.7 L776.8,860.7 L768.0,875.4 Z M934.2,859.6 L951.8,859.6 L943.0,874.3 Z" fill="#2c6a14"/>
<rect x="470.8" y="985.6" width="445.2" height="324.80000000000007" fill="#fff" stroke="none"/>
<clipPath id="clipJ"><rect x="470.8" y="985.6" width="445.2" height="324.80000000000007"/></clipPath>
<g clip-path="url(#clipJ)"><path d="M525,1310.4 L860,985.6" stroke="#138a13" stroke-width="2.6" fill="none"/></g>
<path d="M828.5,1013.3 L844.1,1013.3 L836.3,998.8 Z M776.5,1061.9 L792.1,1061.9 L784.3,1047.4 Z M746.1,1089.6 L761.7,1089.6 L753.9,1075.1 Z M725.4,1109.2 L741.0,1109.2 L733.2,1094.7 Z M705.4,1137.6 L721.0,1137.6 L713.2,1123.1 Z M684.2,1157.5 L699.8,1157.5 L692.0,1143.0 Z M672.0,1166.7 L687.6,1166.7 L679.8,1152.2 Z M664.8,1172.2 L680.4,1172.2 L672.6,1157.7 Z M657.2,1179.4 L672.8,1179.4 L665.0,1164.9 Z M653.7,1181.0 L669.3,1181.0 L661.5,1166.5 Z" fill="#14820f"/>
<rect x="470.8" y="985.6" width="445.2" height="324.80000000000007" fill="none" stroke="#1a1a1a" stroke-width="2.2"/>
<path d="M470.80,1310.60 H463.80 M470.80,1242.90 H466.80 M470.80,1175.20 H463.80 M470.80,1107.50 H466.80 M470.80,1039.80 H463.80 M485.00,1310.4 V1318.40 M557.00,1310.4 V1314.90 M629.00,1310.4 V1318.40 M701.00,1310.4 V1314.90 M773.00,1310.4 V1318.40 M845.00,1310.4 V1314.90 M917.00,1310.4 V1318.40" stroke="#1a1a1a" stroke-width="2" fill="none"/>
<text x="444.55" y="1317.40" font-size="25.50" fill="#222">0</text>
<text x="444.95" y="1182.00" font-size="25.50" fill="#222">1</text>
<text x="444.95" y="1046.60" font-size="25.50" fill="#222">2</text>
<text x="454.92" y="1342.00" font-size="25.00" fill="#222" textLength="60.40" lengthAdjust="spacingAndGlyphs">-0,01</text>
<text x="603.13" y="1342.00" font-size="25.00" fill="#222" textLength="51.58" lengthAdjust="spacingAndGlyphs">0,00</text>
<text x="747.33" y="1342.00" font-size="25.00" fill="#222" textLength="51.58" lengthAdjust="spacingAndGlyphs">0,01</text>
<text x="891.33" y="1342.00" font-size="25.00" fill="#222" textLength="51.58" lengthAdjust="spacingAndGlyphs">0,02</text>
<text x="544.44" y="1378.20" font-size="26.50" fill="#222">1/[Domain V rRNA] (nM</text>
<text x="822.77" y="1367.60" font-size="14.00" fill="#222" textLength="12.29" lengthAdjust="spacingAndGlyphs">-1</text>
<text x="836.50" y="1378.20" font-size="26.50" fill="#222">)</text>
<text transform="translate(427.00,1241.20) rotate(-90)" x="-2.18" y="0" font-size="34.50" fill="#222" textLength="61.92" lengthAdjust="spacingAndGlyphs">1/(F</text>
<text transform="translate(433.50,1179.20) rotate(-90)" x="-0.98" y="0" font-size="34.50" fill="#222" textLength="17.35" lengthAdjust="spacingAndGlyphs">0</text>
<text transform="translate(427.00,1150.00) rotate(-90)" x="-1.11" y="0" font-size="34.50" fill="#222" textLength="55.46" lengthAdjust="spacingAndGlyphs">- F)</text>
<text x="25.38" y="1606.00" font-size="46.00" fill="#111" textLength="32.69" lengthAdjust="spacingAndGlyphs">C</text>
<path d="M130,1585.6 V1639.3" stroke="#999" stroke-width="1.2"/>
<text x="130.25" y="1618.40" font-size="43.00" fill="#0a0a0a" font-weight="bold" textLength="168.03" lengthAdjust="spacingAndGlyphs">Molecule</text>
<text x="463.39" y="1618.50" font-size="43.00" fill="#0a0a0a" font-weight="bold" textLength="181.88" lengthAdjust="spacingAndGlyphs">Side View</text>
<text x="832.83" y="1618.50" font-size="43.00" fill="#0a0a0a" font-weight="bold" textLength="153.39" lengthAdjust="spacingAndGlyphs">NICS (1)</text>
<text x="147.63" y="1698.40" font-size="44.00" fill="#111" textLength="75.45" lengthAdjust="spacingAndGlyphs">6AP</text>
<text x="147.63" y="1804.30" font-size="44.00" fill="#111" textLength="135.40" lengthAdjust="spacingAndGlyphs">6AP8Cl</text>
<text x="147.64" y="1923.40" font-size="44.00" fill="#111" textLength="150.16" lengthAdjust="spacingAndGlyphs">6AP8CF</text>
<text x="297.55" y="1923.40" font-size="22.00" fill="#111" textLength="15.16" lengthAdjust="spacingAndGlyphs">3</text>
<text x="147.61" y="2027.00" font-size="44.00" fill="#111" textLength="85.04" lengthAdjust="spacingAndGlyphs">6APi</text>
<text x="834.91" y="1698.40" font-size="44.00" fill="#111" textLength="118.94" lengthAdjust="spacingAndGlyphs">- 10.51</text>
<text x="834.91" y="1802.30" font-size="44.00" fill="#111" textLength="118.94" lengthAdjust="spacingAndGlyphs">- 10.71</text>
<text x="834.89" y="1921.50" font-size="44.00" fill="#111" textLength="120.57" lengthAdjust="spacingAndGlyphs">- 10.74</text>
<text x="834.87" y="2028.00" font-size="44.00" fill="#111" textLength="100.51" lengthAdjust="spacingAndGlyphs">- 8.44</text>
<defs><linearGradient id="gH" x1="0" y1="0" x2="0" y2="1"><stop offset="0" stop-color="#5a5a5a"/><stop offset="0.15" stop-color="#b8b8b8"/><stop offset="0.4" stop-color="#f6f6f6"/><stop offset="0.7" stop-color="#bdbdbd"/><stop offset="0.9" stop-color="#8a8a8a"/><stop offset="1" stop-color="#555555"/></linearGradient><linearGradient id="gC" x1="0" y1="0" x2="0" y2="1"><stop offset="0" stop-color="#2a2a2a"/><stop offset="0.13" stop-color="#585858"/><stop offset="0.4" stop-color="#9c9c9c"/><stop offset="0.7" stop-color="#626262"/><stop offset="0.9" stop-color="#3c3c3c"/><stop offset="1" stop-color="#202020"/></linearGradient><linearGradient id="gD" x1="0" y1="0" x2="0" y2="1"><stop offset="0" stop-color="#1a1a1a"/><stop offset="0.2" stop-color="#3a3a3a"/><stop offset="0.42" stop-color="#575757"/><stop offset="0.7" stop-color="#3a3a3a"/><stop offset="1" stop-color="#141414"/></linearGradient><linearGradient id="gN" x1="0" y1="0" x2="0" y2="1"><stop offset="0" stop-color="#00003e"/><stop offset="0.15" stop-color="#0c0cb0"/><stop offset="0.4" stop-color="#3c3cf4"/><stop offset="0.7" stop-color="#0c0cb8"/><stop offset="1" stop-color="#00003a"/></linearGradient><linearGradient id="gO" x1="0" y1="0" x2="0" y2="1"><stop offset="0" stop-color="#500000"/><stop offset="0.2" stop-color="#c21010"/><stop offset="0.36" stop-color="#f04a4a"/><stop offset="0.62" stop-color="#b80808"/><stop offset="1" stop-color="#460000"/></linearGradient><linearGradient id="gCl" x1="0" y1="0" x2="0" y2="1"><stop offset="0" stop-color="#2e6a0c"/><stop offset="0.2" stop-color="#6cd020"/><stop offset="0.36" stop-color="#b4f870"/><stop offset="0.62" stop-color="#62c818"/><stop offset="1" stop-color="#285e0a"/></linearGradient><linearGradient id="gF" x1="0" y1="0" x2="0" y2="1"><stop offset="0" stop-color="#22002a"/><stop offset="0.2" stop-color="#621474"/><stop offset="0.36" stop-color="#9a4aae"/><stop offset="0.62" stop-color="#5a1068"/><stop offset="1" stop-color="#1c0024"/></linearGradient><radialGradient id="bH" cx="0.5" cy="0.5" r="0.5" fx="0.42" fy="0.36"><stop offset="0" stop-color="#ffffff"/><stop offset="0.35" stop-color="#dadada"/><stop offset="0.75" stop-color="#9a9a9a"/><stop offset="1" stop-color="#5a5a5a"/></radialGradient><radialGradient id="bD" cx="0.5" cy="0.5" r="0.5" fx="0.42" fy="0.36"><stop offset="0" stop-color="#6a6a6a"/><stop offset="0.5" stop-color="#444"/><stop offset="1" stop-color="#1a1a1a"/></radialGradient><radialGradient id="bC" cx="0.5" cy="0.5" r="0.5" fx="0.42" fy="0.36"><stop offset="0" stop-color="#c0c0c0"/><stop offset="0.45" stop-color="#888"/><stop offset="1" stop-color="#333"/></radialGradient></defs>
<g>
<g transform="translate(362.00,1686.80) rotate(-0.40)"><rect x="0.00" y="-9.6" width="40.60" height="19.2" fill="url(#gC)"/><rect x="40.00" y="-9.6" width="26.60" height="19.2" fill="url(#gD)"/><rect x="66.00" y="-9.6" width="139.60" height="19.2" fill="url(#gC)"/><rect x="205.00" y="-9.6" width="59.60" height="19.2" fill="url(#gN)"/><rect x="264.01" y="-9.6" width="11.60" height="19.2" fill="url(#gD)"/><rect x="275.01" y="-9.6" width="61.60" height="19.2" fill="url(#gC)"/><rect x="336.01" y="-9.6" width="38.60" height="19.2" fill="url(#gD)"/></g>
<g transform="translate(330.20,1683.60) rotate(-0.36)"><circle cx="9.6" cy="0" r="9.6" fill="url(#gH)"/><rect x="9.60" y="-9.6" width="26.80" height="19.2" fill="url(#gH)"/><rect x="35.80" y="-9.6" width="36.60" height="19.2" fill="url(#gC)"/><rect x="71.80" y="-9.6" width="26.60" height="19.2" fill="url(#gD)"/><rect x="97.80" y="-9.6" width="139.60" height="19.2" fill="url(#gC)"/><rect x="236.80" y="-9.6" width="59.60" height="19.2" fill="url(#gN)"/><rect x="295.81" y="-9.6" width="11.60" height="19.2" fill="url(#gD)"/><rect x="306.81" y="-9.6" width="61.60" height="19.2" fill="url(#gC)"/><rect x="367.81" y="-9.6" width="26.60" height="19.2" fill="url(#gD)"/><rect x="393.81" y="-9.6" width="33.60" height="19.2" fill="url(#gC)"/><circle cx="452.71" cy="0" r="9.6" fill="url(#gH)"/><rect x="426.81" y="-9.6" width="26.50" height="19.2" fill="url(#gH)"/></g>
<circle cx="393" cy="1679.6" r="9.6" fill="url(#bH)"/>
<circle cx="733.4" cy="1678.6" r="8.6" fill="url(#bH)"/>
<g transform="translate(496.00,1689.00) rotate(-19.80)"><circle cx="0" cy="0" r="10" fill="url(#gN)"/><circle cx="26.57" cy="0" r="10" fill="url(#gN)"/><rect x="0" y="-10" width="13.89" height="20" fill="url(#gN)"/><rect x="13.29" y="-10" width="13.29" height="20" fill="url(#gN)"/></g>
<g transform="translate(500.00,1688.00) rotate(152.51)"><circle cx="55.24" cy="0" r="9.2" fill="url(#gH)"/><rect x="0" y="-9.2" width="27.11" height="18.4" fill="url(#gN)"/><rect x="26.51" y="-9.2" width="28.72" height="18.4" fill="url(#gH)"/></g>
<g transform="translate(508.00,1689.00) rotate(14.57)"><circle cx="25.83" cy="0" r="9.6" fill="url(#gC)"/><rect x="0" y="-9.6" width="13.52" height="19.2" fill="url(#gC)"/><rect x="12.92" y="-9.6" width="12.92" height="19.2" fill="url(#gC)"/></g>
<circle cx="534.5" cy="1696" r="10.2" fill="url(#bH)"/>
<g transform="translate(378.00,1793.80) rotate(-0.16)"><rect x="0.00" y="-9.5" width="57.60" height="19.0" fill="url(#gC)"/><rect x="57.00" y="-9.5" width="13.60" height="19.0" fill="url(#gD)"/><rect x="70.00" y="-9.5" width="129.60" height="19.0" fill="url(#gC)"/><rect x="199.00" y="-9.5" width="56.60" height="19.0" fill="url(#gN)"/><rect x="255.00" y="-9.5" width="15.60" height="19.0" fill="url(#gD)"/><rect x="270.00" y="-9.5" width="59.10" height="19.0" fill="url(#gC)"/><rect x="328.50" y="-9.5" width="36.10" height="19.0" fill="url(#gD)"/></g>
<g transform="translate(330.90,1790.50) rotate(-0.12)"><circle cx="9.5" cy="0" r="9.5" fill="url(#gCl)"/><rect x="9.50" y="-9.5" width="40.20" height="19.0" fill="url(#gCl)"/><rect x="49.10" y="-9.5" width="55.60" height="19.0" fill="url(#gC)"/><rect x="104.10" y="-9.5" width="13.60" height="19.0" fill="url(#gD)"/><rect x="117.10" y="-9.5" width="129.60" height="19.0" fill="url(#gC)"/><rect x="246.10" y="-9.5" width="56.60" height="19.0" fill="url(#gN)"/><rect x="302.10" y="-9.5" width="15.60" height="19.0" fill="url(#gD)"/><rect x="317.10" y="-9.5" width="59.10" height="19.0" fill="url(#gC)"/><rect x="375.60" y="-9.5" width="25.10" height="19.0" fill="url(#gD)"/><rect x="400.10" y="-9.5" width="37.10" height="19.0" fill="url(#gC)"/><circle cx="462.60" cy="0" r="9.5" fill="url(#gH)"/><rect x="436.60" y="-9.5" width="26.60" height="19.0" fill="url(#gH)"/></g>
<circle cx="412.9" cy="1788.3" r="9.4" fill="url(#bH)"/>
<circle cx="739.4" cy="1788.3" r="8.6" fill="url(#bH)"/>
<g transform="translate(503.00,1800.00) rotate(-20.32)"><circle cx="0" cy="0" r="10" fill="url(#gN)"/><circle cx="28.79" cy="0" r="10" fill="url(#gN)"/><rect x="0" y="-10" width="15.00" height="20" fill="url(#gN)"/><rect x="14.40" y="-10" width="14.40" height="20" fill="url(#gN)"/></g>
<g transform="translate(507.00,1798.00) rotate(150.58)"><circle cx="53.96" cy="0" r="9.2" fill="url(#gH)"/><rect x="0" y="-9.2" width="26.50" height="18.4" fill="url(#gN)"/><rect x="25.90" y="-9.2" width="28.06" height="18.4" fill="url(#gH)"/></g>
<g transform="translate(515.00,1799.00) rotate(15.26)"><circle cx="22.80" cy="0" r="9.6" fill="url(#gC)"/><rect x="0" y="-9.6" width="12.00" height="19.2" fill="url(#gC)"/><rect x="11.40" y="-9.6" width="11.40" height="19.2" fill="url(#gC)"/></g>
<circle cx="538.3" cy="1805.7" r="10.2" fill="url(#bH)"/>
<g transform="translate(357.00,1910.00) rotate(-105.80)"><circle cx="55.08" cy="0" r="8.6" fill="url(#gF)"/><rect x="0" y="-8.6" width="23.73" height="17.2" fill="url(#gC)"/><rect x="23.13" y="-8.6" width="31.95" height="17.2" fill="url(#gF)"/></g>
<g transform="translate(362.00,1915.60) rotate(0.26)"><rect x="0.00" y="-9.0" width="93.60" height="18.0" fill="url(#gC)"/><rect x="93.00" y="-9.0" width="10.60" height="18.0" fill="url(#gD)"/><rect x="103.00" y="-9.0" width="133.60" height="18.0" fill="url(#gC)"/><rect x="236.00" y="-9.0" width="54.00" height="18.0" fill="url(#gN)"/><rect x="289.40" y="-9.0" width="10.80" height="18.0" fill="url(#gD)"/><rect x="299.60" y="-9.0" width="56.40" height="18.0" fill="url(#gC)"/><rect x="355.40" y="-9.0" width="35.20" height="18.0" fill="url(#gD)"/></g>
<g transform="translate(349.00,1912.40) rotate(0.24)"><rect x="0.00" y="-9.0" width="14.60" height="18.0" fill="url(#gD)"/><rect x="14.00" y="-9.0" width="92.60" height="18.0" fill="url(#gC)"/><rect x="106.00" y="-9.0" width="10.60" height="18.0" fill="url(#gD)"/><rect x="116.00" y="-9.0" width="133.60" height="18.0" fill="url(#gC)"/><rect x="249.00" y="-9.0" width="54.00" height="18.0" fill="url(#gN)"/><rect x="302.40" y="-9.0" width="10.80" height="18.0" fill="url(#gD)"/><rect x="312.60" y="-9.0" width="56.40" height="18.0" fill="url(#gC)"/><rect x="368.40" y="-9.0" width="26.00" height="18.0" fill="url(#gD)"/><rect x="393.80" y="-9.0" width="31.10" height="18.0" fill="url(#gC)"/><circle cx="448.30" cy="0" r="9.0" fill="url(#gH)"/><rect x="424.30" y="-9.0" width="24.60" height="18.0" fill="url(#gH)"/></g>
<g transform="translate(356.00,1912.00) rotate(-177.44)"><circle cx="33.53" cy="0" r="8.6" fill="url(#gF)"/><rect x="0" y="-8.6" width="10.66" height="17.2" fill="url(#gD)"/><rect x="10.06" y="-8.6" width="23.47" height="17.2" fill="url(#gF)"/></g>
<g transform="translate(356.00,1916.00) rotate(111.39)"><circle cx="52.09" cy="0" r="8.6" fill="url(#gF)"/><rect x="0" y="-8.6" width="22.48" height="17.2" fill="url(#gC)"/><rect x="21.88" y="-8.6" width="30.21" height="17.2" fill="url(#gF)"/></g>
<circle cx="431.9" cy="1909.8" r="9.2" fill="url(#bH)"/>
<circle cx="754.3" cy="1913.2" r="8.4" fill="url(#bH)"/>
<g transform="translate(515.00,1930.00) rotate(-24.68)"><circle cx="0" cy="0" r="10" fill="url(#gN)"/><circle cx="40.72" cy="0" r="10" fill="url(#gN)"/><rect x="0" y="-10" width="20.96" height="20" fill="url(#gN)"/><rect x="20.36" y="-10" width="20.36" height="20" fill="url(#gN)"/></g>
<g transform="translate(526.00,1924.00) rotate(153.43)"><circle cx="43.60" cy="0" r="9.2" fill="url(#gH)"/><rect x="0" y="-9.2" width="20.22" height="18.4" fill="url(#gN)"/><rect x="19.62" y="-9.2" width="23.98" height="18.4" fill="url(#gH)"/></g>
<g transform="translate(540.00,1921.00) rotate(14.62)"><circle cx="23.77" cy="0" r="9.6" fill="url(#gC)"/><rect x="0" y="-9.6" width="12.48" height="19.2" fill="url(#gC)"/><rect x="11.88" y="-9.6" width="11.88" height="19.2" fill="url(#gC)"/></g>
<circle cx="565" cy="1927.5" r="10.2" fill="url(#bH)"/>
<g transform="translate(331.50,2012.00) rotate(3.67)"><circle cx="9.0" cy="0" r="9.0" fill="url(#gH)"/><rect x="9.00" y="-9.0" width="46.21" height="18.0" fill="url(#gH)"/></g>
<g transform="translate(376.00,2015.00) rotate(5.89)"><rect x="0.00" y="-9.6" width="50.87" height="19.2" fill="url(#gC)"/><rect x="50.27" y="-9.6" width="12.66" height="19.2" fill="url(#gD)"/><rect x="62.33" y="-9.6" width="62.93" height="19.2" fill="url(#gC)"/><rect x="124.66" y="-9.6" width="31.76" height="19.2" fill="url(#gD)"/></g>
<g transform="translate(522.00,2034.00) rotate(-3.42)"><rect x="0.00" y="-10.0" width="58.40" height="20.0" fill="url(#gC)"/><rect x="57.80" y="-10.0" width="56.70" height="20.0" fill="url(#gN)"/><rect x="113.90" y="-10.0" width="14.32" height="20.0" fill="url(#gD)"/><rect x="127.63" y="-10.0" width="63.61" height="20.0" fill="url(#gC)"/><rect x="190.64" y="-10.0" width="25.24" height="20.0" fill="url(#gD)"/><rect x="215.28" y="-10.0" width="36.16" height="20.0" fill="url(#gC)"/><circle cx="275.11" cy="0" r="10.0" fill="url(#gH)"/><rect x="250.85" y="-10.0" width="24.86" height="20.0" fill="url(#gH)"/></g>
<g transform="translate(384.00,2022.00) rotate(90.00)"><circle cx="0" cy="0" r="8.8" fill="url(#gH)"/><rect x="0" y="-8.8" width="27.60" height="17.6" fill="url(#gH)"/><rect x="27.00" y="-8.8" width="33.00" height="17.6" fill="url(#gC)"/></g>
<circle cx="384" cy="2021.5" r="8.8" fill="url(#bH)"/>
<circle cx="404.5" cy="2017.8" r="10" fill="url(#bH)"/>
<circle cx="555" cy="2031.9" r="10" fill="url(#bH)"/>
<circle cx="742.4" cy="2019.6" r="9" fill="url(#bH)"/>
<g transform="translate(522.00,2036.00) rotate(126.38)"><rect x="0" y="-10" width="52.52" height="20" fill="url(#gN)"/><rect x="51.92" y="-10" width="42.48" height="20" fill="url(#gC)"/></g>
<g transform="translate(383.00,2088.00) rotate(167.28)"><circle cx="0" cy="0" r="10" fill="url(#gD)"/><circle cx="31.78" cy="0" r="10" fill="url(#gD)"/><rect x="0" y="-10" width="16.49" height="20" fill="url(#gD)"/><rect x="15.89" y="-10" width="15.89" height="20" fill="url(#gD)"/></g>
<g transform="translate(384.00,2088.00) rotate(16.96)"><rect x="0" y="-10" width="43.46" height="20" fill="url(#gC)"/><rect x="42.86" y="-10" width="42.86" height="20" fill="url(#gC)"/></g>
<g transform="translate(381.00,2092.00) rotate(126.19)"><circle cx="50.80" cy="0" r="10" fill="url(#gO)"/><rect x="0" y="-10" width="18.38" height="20" fill="url(#gD)"/><rect x="17.78" y="-10" width="33.02" height="20" fill="url(#gO)"/></g>
<g transform="translate(351.00,2133.00) rotate(-172.28)"><circle cx="0" cy="0" r="10" fill="url(#gO)"/><circle cx="59.54" cy="0" r="10" fill="url(#gH)"/><rect x="0" y="-10" width="30.37" height="20" fill="url(#gO)"/><rect x="29.77" y="-10" width="29.77" height="20" fill="url(#gH)"/></g>
<circle cx="384" cy="2089" r="10.5" fill="url(#bD)"/>
<g transform="translate(464.00,2118.00) rotate(82.65)"><circle cx="62.51" cy="0" r="10.2" fill="url(#gD)"/><rect x="0" y="-10.2" width="31.86" height="20.4" fill="url(#gD)"/><rect x="31.26" y="-10.2" width="31.26" height="20.4" fill="url(#gD)"/></g>
<g transform="translate(470.00,2182.00) rotate(-148.57)"><circle cx="0" cy="0" r="9.6" fill="url(#gD)"/><circle cx="21.10" cy="0" r="9.6" fill="url(#gD)"/><rect x="0" y="-9.6" width="11.15" height="19.2" fill="url(#gD)"/><rect x="10.55" y="-9.6" width="10.55" height="19.2" fill="url(#gD)"/></g>
<circle cx="466" cy="2115" r="11" fill="url(#bD)"/>
<g transform="translate(467.00,2119.00) rotate(28.81)"><circle cx="22.83" cy="0" r="10" fill="url(#gD)"/><rect x="0" y="-10" width="12.01" height="20" fill="url(#gD)"/><rect x="11.41" y="-10" width="11.41" height="20" fill="url(#gD)"/></g>
<circle cx="488" cy="2131.5" r="10.7" fill="url(#bH)"/>
<g transform="translate(472.00,2189.00) rotate(7.51)"><circle cx="65.06" cy="0" r="10.2" fill="url(#gH)"/><rect x="0" y="-10.2" width="27.92" height="20.4" fill="url(#gC)"/><rect x="27.32" y="-10.2" width="37.73" height="20.4" fill="url(#gH)"/></g>
<g transform="translate(470.00,2188.00) rotate(110.22)"><rect x="0" y="-10.3" width="41.10" height="20.6" fill="url(#gC)"/><rect x="40.50" y="-10.3" width="40.50" height="20.6" fill="url(#gC)"/></g>
<g transform="translate(441.00,2263.00) rotate(-178.76)"><circle cx="69.52" cy="0" r="10.8" fill="url(#gH)"/><rect x="0" y="-10.8" width="28.41" height="21.6" fill="url(#gC)"/><rect x="27.81" y="-10.8" width="41.71" height="21.6" fill="url(#gH)"/></g>
<g transform="translate(442.00,2268.00) rotate(79.80)"><circle cx="50.80" cy="0" r="10.2" fill="url(#gD)"/><rect x="0" y="-10.2" width="26.00" height="20.4" fill="url(#gD)"/><rect x="25.40" y="-10.2" width="25.40" height="20.4" fill="url(#gD)"/></g>
<circle cx="442" cy="2266" r="11" fill="url(#bD)"/>
<g transform="translate(444.00,2272.00) rotate(39.81)"><circle cx="23.43" cy="0" r="9.6" fill="url(#gD)"/><rect x="0" y="-9.6" width="12.32" height="19.2" fill="url(#gD)"/><rect x="11.72" y="-9.6" width="11.72" height="19.2" fill="url(#gD)"/></g>
<circle cx="463.9" cy="2289.5" r="10.2" fill="url(#bH)"/>
</g>
</svg>
</body></html>
